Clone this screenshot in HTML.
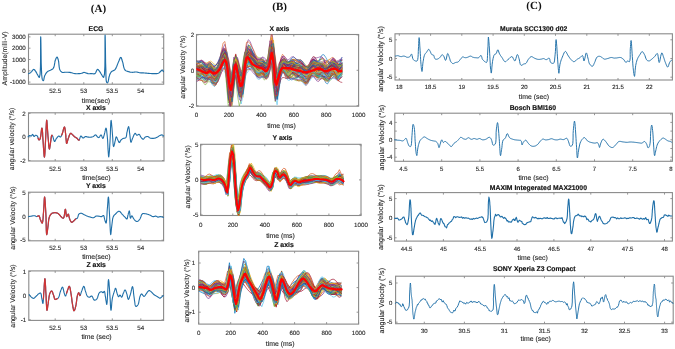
<!DOCTYPE html>
<html><head><meta charset="utf-8"><style>html,body{margin:0;padding:0;background:#fff;}svg{display:block;will-change:transform;filter:blur(0.35px);}</style></head><body>
<svg width="675" height="349" viewBox="0 0 675 349" text-rendering="geometricPrecision">
<rect width="675" height="349" fill="#fff"/>
<text x="98.5" y="11.8" font-family="Liberation Serif" font-size="11" text-anchor="middle" font-weight="bold" fill="#111">(A)</text>
<text x="279.7" y="10.4" font-family="Liberation Serif" font-size="11" text-anchor="middle" font-weight="bold" fill="#111">(B)</text>
<text x="534" y="9.4" font-family="Liberation Serif" font-size="11" text-anchor="middle" font-weight="bold" fill="#111">(C)</text>
<rect x="28.5" y="34.2" width="135.2" height="50" fill="none" stroke="#8a8a8a" stroke-width="1.1"/>
<line x1="55.2" y1="84.2" x2="55.2" y2="82.2" stroke="#8a8a8a" stroke-width="0.9"/>
<line x1="55.2" y1="34.2" x2="55.2" y2="36.2" stroke="#8a8a8a" stroke-width="0.9"/>
<text x="55.2" y="93" font-family="Liberation Sans" font-size="6.2" text-anchor="middle" font-weight="normal" fill="#262626" stroke="#262626" stroke-width="0.12">52.5</text>
<line x1="83.8" y1="84.2" x2="83.8" y2="82.2" stroke="#8a8a8a" stroke-width="0.9"/>
<line x1="83.8" y1="34.2" x2="83.8" y2="36.2" stroke="#8a8a8a" stroke-width="0.9"/>
<text x="83.8" y="93" font-family="Liberation Sans" font-size="6.2" text-anchor="middle" font-weight="normal" fill="#262626" stroke="#262626" stroke-width="0.12">53</text>
<line x1="112.3" y1="84.2" x2="112.3" y2="82.2" stroke="#8a8a8a" stroke-width="0.9"/>
<line x1="112.3" y1="34.2" x2="112.3" y2="36.2" stroke="#8a8a8a" stroke-width="0.9"/>
<text x="112.3" y="93" font-family="Liberation Sans" font-size="6.2" text-anchor="middle" font-weight="normal" fill="#262626" stroke="#262626" stroke-width="0.12">53.5</text>
<line x1="140.8" y1="84.2" x2="140.8" y2="82.2" stroke="#8a8a8a" stroke-width="0.9"/>
<line x1="140.8" y1="34.2" x2="140.8" y2="36.2" stroke="#8a8a8a" stroke-width="0.9"/>
<text x="140.8" y="93" font-family="Liberation Sans" font-size="6.2" text-anchor="middle" font-weight="normal" fill="#262626" stroke="#262626" stroke-width="0.12">54</text>
<line x1="28.5" y1="36.9" x2="30.5" y2="36.9" stroke="#8a8a8a" stroke-width="0.9"/>
<line x1="163.7" y1="36.9" x2="161.7" y2="36.9" stroke="#8a8a8a" stroke-width="0.9"/>
<text x="25.8" y="39.1" font-family="Liberation Sans" font-size="6.2" text-anchor="end" font-weight="normal" fill="#262626" stroke="#262626" stroke-width="0.12">3000</text>
<line x1="28.5" y1="48.2" x2="30.5" y2="48.2" stroke="#8a8a8a" stroke-width="0.9"/>
<line x1="163.7" y1="48.2" x2="161.7" y2="48.2" stroke="#8a8a8a" stroke-width="0.9"/>
<text x="25.8" y="50.4" font-family="Liberation Sans" font-size="6.2" text-anchor="end" font-weight="normal" fill="#262626" stroke="#262626" stroke-width="0.12">2000</text>
<line x1="28.5" y1="59.5" x2="30.5" y2="59.5" stroke="#8a8a8a" stroke-width="0.9"/>
<line x1="163.7" y1="59.5" x2="161.7" y2="59.5" stroke="#8a8a8a" stroke-width="0.9"/>
<text x="25.8" y="61.7" font-family="Liberation Sans" font-size="6.2" text-anchor="end" font-weight="normal" fill="#262626" stroke="#262626" stroke-width="0.12">1000</text>
<line x1="28.5" y1="70.8" x2="30.5" y2="70.8" stroke="#8a8a8a" stroke-width="0.9"/>
<line x1="163.7" y1="70.8" x2="161.7" y2="70.8" stroke="#8a8a8a" stroke-width="0.9"/>
<text x="25.8" y="73" font-family="Liberation Sans" font-size="6.2" text-anchor="end" font-weight="normal" fill="#262626" stroke="#262626" stroke-width="0.12">0</text>
<line x1="28.5" y1="82.1" x2="30.5" y2="82.1" stroke="#8a8a8a" stroke-width="0.9"/>
<line x1="163.7" y1="82.1" x2="161.7" y2="82.1" stroke="#8a8a8a" stroke-width="0.9"/>
<text x="25.8" y="84.3" font-family="Liberation Sans" font-size="6.2" text-anchor="end" font-weight="normal" fill="#262626" stroke="#262626" stroke-width="0.12">-1000</text>
<text x="96" y="31" font-family="Liberation Sans" font-size="6.9" text-anchor="middle" font-weight="bold" fill="#111" stroke="#111" stroke-width="0.15">ECG</text>
<text x="96" y="102.8" font-family="Liberation Sans" font-size="6.9" text-anchor="middle" font-weight="normal" fill="#262626" stroke="#262626" stroke-width="0.12">time(sec)</text>
<text x="6.6" y="58.4" font-family="Liberation Sans" font-size="6.9" text-anchor="middle" font-weight="normal" fill="#262626" transform="rotate(-90 6.6 58.4)" stroke="#262626" stroke-width="0.12">Amplitude(milli-V)</text>
<path d="M287 736l3-2 4-2 3-1 4-2 3-2 4-3 5-5 5-6 5-7 5-6 5-4 4-2 3 1 3 1 2 3 3 2 2 4 3 3 4 5 3 6 4 7 4 7 3 7 4 6 3 6 4 6 3 6 3 6 3 3 3 1 7-32 4-76 1-97 0-97 0-74 1-30 1 18 1 45 1 64 1 69 1 66 2 50 1 24 1 23 1 22 2 19 2 15 3 12 1 3 2 3 1 3 2 2 2 1 1 0 2-3 3-7 2-11 2-11 3-11 3-9 4-7 4-8 4-6 5-7 5-6 5-5 5-4 6-2 5-3 6-2 6-2 5-3 5-2 4-3 4-2 5-2 3-4 4-4 5-10 4-14 3-16 3-16 2-15 4-12 3-7 2-6 3-6 3-5 2-4 3-1 2 1 3 4 2 5 2 6 2 6 2 7 3 14 2 18 2 19 2 19 3 17 5 13 3 6 4 5 4 4 4 4 4 3 5 2 5 1 6 0 6-1 6-1 7-1 6 0 6 0 7 0 7 0 6 1 7 0 7 1 8 2 8 2 8 2 9 3 8 2 9 1 11 1 12 0 11-1 12 0 11-1 9-2 5-1 4-2 3-2 4-2 4-1 4-1 6 1 7 2 6 2 7 3 7 2 7 2 6 1 6 0 6 0 5-1 6 0 6 0 6 0 6 1 6 1 6 0 5 0 5-2 5-5 5-8 4-10 4-9 4-7 4-3 3 0 3 2 3 2 2 3 3 4 3 3 4 5 3 5 3 6 4 5 3 6 4 6 4 6 4 8 4 7 5 7 4 4 3 1 8-34 4-79 1-101 0-102 0-77 1-31 1 18 1 48 1 66 1 74 1 69 2 55 1 30 0 29 1 28 1 25 2 19 4 12 1 2 2 1 1 1 2 1 2 0 1 0 3-5 3-9 3-12 2-14 2-13 3-10 2-6 1-6 2-5 2-5 2-5 2-4 2-3 2-4 2-3 2-2 2-3 3-3 5-3 5-3 6-3 7-3 6-3 5-5 7-9 5-12 6-13 5-13 5-13 5-12 4-10 5-11 4-11 4-9 4-7 4-2 3 2 3 5 3 8 2 9 3 9 3 9 4 13 3 15 3 17 4 15 5 14 6 10 5 5 5 3 5 2 6 2 6 2 6 2 6 2 6 1 6 2 6 1 7 0 6 1 7 0 8-1 8-1 8-1 8 0 7 0 6 1 5 1 6 2 5 1 6 2 6 1 8 1 8 0 9 0 8 0 9 1 8 0 7 1 7 0 6 1 7 1 6 0 7 1 7 1 7 0 7 0 7 1 7 0 7 0 8 0 9 0 9 0 9 0 8-1 7-2 6-3 5-4 4-4 5-4 4-5 4-3 3-2 2-3 2-2 3-2 2-1 2 0 2 1 2 2 2 3 1 4 2 3 2 3" fill="none" stroke="#1f6fa8" stroke-width="11.5" stroke-linejoin="round" stroke-linecap="round" transform="scale(.1)"/>
<rect x="28.5" y="112.8" width="135.5" height="48.2" fill="none" stroke="#8a8a8a" stroke-width="1.1"/>
<line x1="55.2" y1="161" x2="55.2" y2="159" stroke="#8a8a8a" stroke-width="0.9"/>
<line x1="55.2" y1="112.8" x2="55.2" y2="114.8" stroke="#8a8a8a" stroke-width="0.9"/>
<text x="55.2" y="170.9" font-family="Liberation Sans" font-size="6.2" text-anchor="middle" font-weight="normal" fill="#262626" stroke="#262626" stroke-width="0.12">52.5</text>
<line x1="83.8" y1="161" x2="83.8" y2="159" stroke="#8a8a8a" stroke-width="0.9"/>
<line x1="83.8" y1="112.8" x2="83.8" y2="114.8" stroke="#8a8a8a" stroke-width="0.9"/>
<text x="83.8" y="170.9" font-family="Liberation Sans" font-size="6.2" text-anchor="middle" font-weight="normal" fill="#262626" stroke="#262626" stroke-width="0.12">53</text>
<line x1="112.3" y1="161" x2="112.3" y2="159" stroke="#8a8a8a" stroke-width="0.9"/>
<line x1="112.3" y1="112.8" x2="112.3" y2="114.8" stroke="#8a8a8a" stroke-width="0.9"/>
<text x="112.3" y="170.9" font-family="Liberation Sans" font-size="6.2" text-anchor="middle" font-weight="normal" fill="#262626" stroke="#262626" stroke-width="0.12">53.5</text>
<line x1="140.8" y1="161" x2="140.8" y2="159" stroke="#8a8a8a" stroke-width="0.9"/>
<line x1="140.8" y1="112.8" x2="140.8" y2="114.8" stroke="#8a8a8a" stroke-width="0.9"/>
<text x="140.8" y="170.9" font-family="Liberation Sans" font-size="6.2" text-anchor="middle" font-weight="normal" fill="#262626" stroke="#262626" stroke-width="0.12">54</text>
<line x1="28.5" y1="113.4" x2="30.5" y2="113.4" stroke="#8a8a8a" stroke-width="0.9"/>
<line x1="164" y1="113.4" x2="162" y2="113.4" stroke="#8a8a8a" stroke-width="0.9"/>
<text x="25.8" y="115.6" font-family="Liberation Sans" font-size="6.2" text-anchor="end" font-weight="normal" fill="#262626" stroke="#262626" stroke-width="0.12">2</text>
<line x1="28.5" y1="136.9" x2="30.5" y2="136.9" stroke="#8a8a8a" stroke-width="0.9"/>
<line x1="164" y1="136.9" x2="162" y2="136.9" stroke="#8a8a8a" stroke-width="0.9"/>
<text x="25.8" y="139.1" font-family="Liberation Sans" font-size="6.2" text-anchor="end" font-weight="normal" fill="#262626" stroke="#262626" stroke-width="0.12">0</text>
<line x1="28.5" y1="160.5" x2="30.5" y2="160.5" stroke="#8a8a8a" stroke-width="0.9"/>
<line x1="164" y1="160.5" x2="162" y2="160.5" stroke="#8a8a8a" stroke-width="0.9"/>
<text x="25.8" y="162.7" font-family="Liberation Sans" font-size="6.2" text-anchor="end" font-weight="normal" fill="#262626" stroke="#262626" stroke-width="0.12">-2</text>
<text x="95.9" y="109.8" font-family="Liberation Sans" font-size="6.9" text-anchor="middle" font-weight="bold" fill="#111" stroke="#111" stroke-width="0.15">X axis</text>
<text x="96.3" y="180.3" font-family="Liberation Sans" font-size="6.9" text-anchor="middle" font-weight="normal" fill="#262626" stroke="#262626" stroke-width="0.12">time(sec)</text>
<text x="14.4" y="139" font-family="Liberation Sans" font-size="6.9" text-anchor="middle" font-weight="normal" fill="#262626" transform="rotate(-90 14.4 139)" stroke="#262626" stroke-width="0.12">angular velocity (°/s)</text>
<path d="M281 1368l3-2 2-3 3-3 3-2 2-2 3-1 3 0 2 1 3 2 3 1 3 1 2 0 2-2 3-3 2-4 2-3 2-3 2-1 2 2 3 3 2 5 3 5 2 4 3 2 3-1 2-2 3-3 2-3 3-3 3-1 3 0 2 1 3 1 3 2 3 2 2 2 3 5 3 8 2 9 3 8 2 6 3 3 2 0 2 0 2-2 1-1 2-3 2-2 4-13 4-22 3-26 3-24 2-18 3-7 3 7 2 18 2 25 1 29 2 29 2 26 2 29 2 34 3 34 2 30 2 22 2 8 2-8 2-20 2-29 1-34 2-35 2-31 2-39 2-45 2-47 2-41 2-30 2-11 2 7 1 17 2 26 2 29 2 29 2 26 2 29 3 33 3 34 2 30 3 21 3 8 2-4 2-10 2-15 3-17 2-16 2-14 2-12 1-14 2-13 2-12 2-8 2-4 1 0 2 1 1 1 1 2 2 2 1 2 3 7 3 11 4 13 3 12 3 8 4 4 3-2 3-4 3-6 3-7 3-7 4-6 4-5 4-5 4-5 4-4 4-3 4-1 3 1 2 2 3 3 2 2 3 2 2 1 3-2 3-3 2-5 3-5 2-6 3-6 4-12 5-15 4-17 4-15 4-11 3-4 3 3 2 9 2 12 2 14 1 15 2 13 2 17 1 21 2 22 2 19 1 14 3 5 2-2 3-7 2-10 3-11 3-11 3-10 4-9 3-11 4-11 5-9 4-7 4-3 2 0 3 1 2 2 3 3 2 2 3 3 4 3 4 5 4 4 4 4 4 4 4 4 4 3 4 2 4 3 4 2 4 2 4 3 3 3 4 5 3 4 3 4 3 2 3 1 4-3 3-8 3-10 3-10 3-7 4-4 3 1 3 3 4 5 3 5 4 4 4 2 4-1 4-2 5-4 4-3 5-3 4-2 4 0 4 1 3 1 4 2 5 1 4 1 7 0 8 1 8 0 9-1 8-1 7-2 6-3 5-4 5-4 4-4 5-3 4-1 3 1 3 3 3 4 3 4 3 4 3 3 2 2 3 2 2 2 3 1 3 1 2 0 4-3 3-5 4-6 3-7 4-4 3-2 3 3 4 6 3 9 3 8 3 7 3 2 3-3 3-6 2-9 3-10 3-10 2-9 3-10 2-12 3-13 2-11 3-7 2-3 3 4 2 11 2 15 2 19 2 19 2 19 3 33 2 43 2 45 3 40 2 30 2 11 2-8 2-20 3-29 2-33 2-34 2-31 2-38 2-46 1-46 2-41 2-30 2-11 2 7 2 18 2 25 3 30 2 29 2 25 2 25 2 28 1 28 2 24 2 17 3 7 2-3 3-8 3-11 3-13 2-13 3-10 2-8 2-9 1-8 2-8 2-5 2-2 2 2 3 4 3 6 2 7 3 7 3 6 2 5 3 6 2 5 3 5 2 4 3 1 3-1 2-4 2-5 3-6 3-6 3-4 3-3 4-3 4-3 5-3 4-2 4-2 4-1 4-1 5-1 4-1 4-1 3-3 4-6 2-9 2-9 1-11 1-10 2-10 3-10 2-13 3-12 3-10 3-7 2-3 2 4 2 9 2 13 2 16 1 15 2 14 2 16 2 18 2 19 2 16 2 12 3 5 2-2 2-5 3-7 2-9 3-8 3-8 4-9 4-11 5-11 5-10 5-7 4-3 3 1 2 3 3 5 2 4 3 4 3 2 4 0 4-2 4-2 4-3 4-1 4 0 3 2 3 4 2 4 2 5 2 5 3 4 4 5 3 5 5 5 4 5 4 3 4 1 4-1 3-3 3-5 4-5 3-4 4-3 4-2 4-2 5-1 4-1 5 0 4 0 4 2 4 2 4 3 4 4 4 3 4 2 5 1 5 1 6 1 5 0 6 0 5 0 5-1 5 0 6-2 5-1 5-2 5-2 5-3 6-3 5-4 6-4 5-3 5-3 4-2 4-2 4-1 4-1 4-1 3 0 3 1 3 1 2 2 3 3 2 2 3 2" fill="none" stroke="#1f6fa8" stroke-width="11" stroke-linejoin="round" stroke-linecap="round" transform="scale(.1)"/>
<path d="M381 1382l3 8 2 6 3 3 2 0 2 0 2-2 1-1 2-3 2-2 4-13 4-22 3-26 3-24 2-18 3-7 3 7 2 18 2 25 1 29 2 29 2 26 2 29 2 34 3 34 2 30 2 22 2 8 2-8 2-20 2-29 1-34 2-35 2-31 2-39 2-45 2-47 2-41 2-30 2-11 2 7 1 17 2 26 2 29 2 29 2 26 2 29 3 33 3 34 2 30 3 21 3 8 2-4 2-10 2-15 3-17 2-16 2-14 2-12 1-14 2-13 2-12 2-8 2-4 1 0 2 1 1 1" fill="none" stroke="#d03535" stroke-width="12.5" stroke-linejoin="round" stroke-linecap="round" transform="scale(.1)"/>
<path d="M617 1350l3-6 4-12 5-15 4-17 4-15 4-11 3-4 3 3 2 9 2 12 2 14 1 15 2 13 2 17 1 21 2 22 2 19 1 14 3 5 2-2 3-7 2-10 3-11 3-11 3-10 4-9 3-11 4-11 5-9 4-7 4-3 2 0 3 1 2 2 3 3 2 2 3 3 4 3 4 5 4 4 4 4 4 4 4 4 4 3 4 2 4 3 4 2 4 2 4 3 3 3 4 5 3 4 3 4 3 2 3 1 4-3" fill="none" stroke="#d03535" stroke-width="12.5" stroke-linejoin="round" stroke-linecap="round" transform="scale(.1)"/>
<rect x="28.5" y="192.2" width="135.1" height="48.6" fill="none" stroke="#8a8a8a" stroke-width="1.1"/>
<line x1="55.2" y1="240.8" x2="55.2" y2="238.8" stroke="#8a8a8a" stroke-width="0.9"/>
<line x1="55.2" y1="192.2" x2="55.2" y2="194.2" stroke="#8a8a8a" stroke-width="0.9"/>
<text x="55.2" y="249.9" font-family="Liberation Sans" font-size="6.2" text-anchor="middle" font-weight="normal" fill="#262626" stroke="#262626" stroke-width="0.12">52.5</text>
<line x1="83.8" y1="240.8" x2="83.8" y2="238.8" stroke="#8a8a8a" stroke-width="0.9"/>
<line x1="83.8" y1="192.2" x2="83.8" y2="194.2" stroke="#8a8a8a" stroke-width="0.9"/>
<text x="83.8" y="249.9" font-family="Liberation Sans" font-size="6.2" text-anchor="middle" font-weight="normal" fill="#262626" stroke="#262626" stroke-width="0.12">53</text>
<line x1="112.3" y1="240.8" x2="112.3" y2="238.8" stroke="#8a8a8a" stroke-width="0.9"/>
<line x1="112.3" y1="192.2" x2="112.3" y2="194.2" stroke="#8a8a8a" stroke-width="0.9"/>
<text x="112.3" y="249.9" font-family="Liberation Sans" font-size="6.2" text-anchor="middle" font-weight="normal" fill="#262626" stroke="#262626" stroke-width="0.12">53.5</text>
<line x1="140.8" y1="240.8" x2="140.8" y2="238.8" stroke="#8a8a8a" stroke-width="0.9"/>
<line x1="140.8" y1="192.2" x2="140.8" y2="194.2" stroke="#8a8a8a" stroke-width="0.9"/>
<text x="140.8" y="249.9" font-family="Liberation Sans" font-size="6.2" text-anchor="middle" font-weight="normal" fill="#262626" stroke="#262626" stroke-width="0.12">54</text>
<line x1="28.5" y1="193" x2="30.5" y2="193" stroke="#8a8a8a" stroke-width="0.9"/>
<line x1="163.6" y1="193" x2="161.6" y2="193" stroke="#8a8a8a" stroke-width="0.9"/>
<text x="25.8" y="195.2" font-family="Liberation Sans" font-size="6.2" text-anchor="end" font-weight="normal" fill="#262626" stroke="#262626" stroke-width="0.12">5</text>
<line x1="28.5" y1="216.5" x2="30.5" y2="216.5" stroke="#8a8a8a" stroke-width="0.9"/>
<line x1="163.6" y1="216.5" x2="161.6" y2="216.5" stroke="#8a8a8a" stroke-width="0.9"/>
<text x="25.8" y="218.7" font-family="Liberation Sans" font-size="6.2" text-anchor="end" font-weight="normal" fill="#262626" stroke="#262626" stroke-width="0.12">0</text>
<line x1="28.5" y1="240.2" x2="30.5" y2="240.2" stroke="#8a8a8a" stroke-width="0.9"/>
<line x1="163.6" y1="240.2" x2="161.6" y2="240.2" stroke="#8a8a8a" stroke-width="0.9"/>
<text x="25.8" y="242.4" font-family="Liberation Sans" font-size="6.2" text-anchor="end" font-weight="normal" fill="#262626" stroke="#262626" stroke-width="0.12">-5</text>
<text x="95.9" y="188.3" font-family="Liberation Sans" font-size="6.9" text-anchor="middle" font-weight="bold" fill="#111" stroke="#111" stroke-width="0.15">Y axis</text>
<text x="96.3" y="259.3" font-family="Liberation Sans" font-size="6.9" text-anchor="middle" font-weight="normal" fill="#262626" stroke="#262626" stroke-width="0.12">time(sec)</text>
<text x="14.8" y="218" font-family="Liberation Sans" font-size="6.9" text-anchor="middle" font-weight="normal" fill="#262626" transform="rotate(-90 14.8 218)" stroke="#262626" stroke-width="0.12">angular Velocity (°/s)</text>
<path d="M286 2166l5-1 5-1 4-1 5 0 5-1 5-1 5-1 6-1 6-1 6 0 5 0 5 0 4 1 3 2 3 1 4 2 3 1 3 1 4-1 3-2 4-2 4-2 3-1 3 0 4 3 2 6 3 8 2 9 2 8 3 7 3 6 3 8 3 7 3 6 3 4 2 1 3-6 3-14 2-19 2-23 1-23 2-21 2-28 2-33 2-34 1-30 2-22 2-8 2 8 2 20 2 28 2 34 2 34 2 31 2 40 1 47 1 49 1 42 2 31 2 12 2-4 2-9 2-14 2-16 2-16 2-15 2-17 2-19 2-20 2-19 4-17 4-14 3-7 4-7 4-6 4-5 5-4 5-4 6-3 7-1 7-1 7-1 7 0 6 1 5 1 4 1 4 1 4 2 4 2 4 3 4 4 5 4 4 6 4 5 4 5 4 4 4 4 4 4 4 3 5 3 4 2 3 0 5-8 4-17 3-22 3-21 2-16 3-6 2 5 2 14 2 18 2 17 2 14 3 6 2-2 3-4 3-6 3-7 3-4 2-2 2 2 2 6 1 8 2 9 2 8 2 8 3 8 3 8 4 9 4 7 4 6 4 3 4 0 4-2 4-3 4-4 4-4 4-3 3-3 3-3 3-3 2-3 3-3 3-2 3-2 2-1 3-1 3-1 3-1 2-2 3-5 2-7 3-8 2-9 2-7 4-5 4-3 4-2 4-2 4-1 5 0 4 0 4 1 4 1 4 3 4 2 4 3 4 2 5 3 6 2 5 3 6 3 5 3 6 2 5 2 6 2 5 2 6 1 5 2 6 1 5 1 6 2 5 2 6 1 5 0 5 0 4-2 5-2 4-4 4-3 4-3 4-2 4-1 3 0 4 0 3 0 4 1 4 0 5 1 6 1 5 1 6 2 5 0 5 0 4-1 3-3 4-3 3-2 3-2 3 0 3 3 3 7 1 8 2 9 2 9 2 8 2 6 2 8 3 7 2 6 2 4 2 1 3-8 2-19 2-26 2-30 1-30 2-26 2-24 2-26 2-27 1-23 2-16 2-6 2 9 2 22 2 32 1 37 2 38 2 33 2 38 2 44 2 45 2 39 2 28 2 11 2-5 1-12 2-17 2-19 2-20 2-17 2-16 2-16 2-17 2-15 3-14 4-12 3-5 3-5 3-4 4-4 4-3 4-4 6-6 6-6 7-7 6-5 7-4 6-1 5 2 5 4 4 5 5 6 4 6 5 6 5 6 6 5 5 6 6 6 5 5 5 5 3 3 3 4 3 4 3 3 3 2 2 0 3-3 2-5 1-8 2-8 1-9 2-7 2-8 2-9 3-9 2-8 2-5 2-2 2 5 2 14 2 17 1 18 2 13 3 6 2-2 2-4 2-6 2-6 3-4 2-2 3 1 2 3 3 5 3 5 2 6 3 4 3 4 2 4 3 4 2 4 3 3 3 3 3 3 4 2 4 3 3 2 4 1 4 0 5-2 4-3 5-4 4-5 5-5 4-6 4-8 4-10 4-10 3-10 5-8 5-6 5-2 5-1 6 0 5 1 6 1 6 1 7 1 6 2 7 2 7 2 7 3 6 2 6 3 5 3 6 3 5 3 6 3 5 1 5 0 5-1 4-1 5-2 5-1 4 0 4 1 3 2 4 2 3 2 3 2 4 1 4 0 4-1 4-1 4-2 5-1 4 0 5 1 5 1 4 1 5 2 5 2 5 1" fill="none" stroke="#1f6fa8" stroke-width="11" stroke-linejoin="round" stroke-linecap="round" transform="scale(.1)"/>
<path d="M375 2163l4-2 4-2 3-1 3 0 4 3 2 6 3 8 2 9 2 8 3 7 3 6 3 8 3 7 3 6 3 4 2 1 3-6 3-14 2-19 2-23 1-23 2-21 2-28 2-33 2-34 1-30 2-22 2-8 2 8 2 20 2 28 2 34 2 34 2 31 2 40 1 47 1 49 1 42 2 31 2 12 2-4 2-9 2-14 2-16 2-16 2-15 2-17 2-19 2-20 2-19 4-17 4-14 3-7 4-7 4-6 4-5 5-4 5-4 6-3 7-1 7-1 7-1 7 0 6 1 5 1 4 1 4 1 4 2 4 2 4 3 4 4 5 4 4 6 4 5 4 5 4 4 4 4 4 4 4 3 5 3 4 2 3 0 5-8 4-17 3-22 3-21 2-16 3-6 2 5 2 14 2 18 2 17 2 14 3 6 2-2 3-4 3-6 3-7 3-4 2-2 2 2 2 6 1 8 2 9 2 8 2 8 3 8 3 8 4 9 4 7 4 6 4 3 4 0 4-2 4-3 4-4 4-4 4-3 3-3 3-3 3-3 2-3 3-3 3-2" fill="none" stroke="#d03535" stroke-width="12.5" stroke-linejoin="round" stroke-linecap="round" transform="scale(.1)"/>
<rect x="28.8" y="270.9" width="134.8" height="49.5" fill="none" stroke="#8a8a8a" stroke-width="1.1"/>
<line x1="55.2" y1="320.4" x2="55.2" y2="318.4" stroke="#8a8a8a" stroke-width="0.9"/>
<line x1="55.2" y1="270.9" x2="55.2" y2="272.9" stroke="#8a8a8a" stroke-width="0.9"/>
<text x="55.2" y="329.7" font-family="Liberation Sans" font-size="6.2" text-anchor="middle" font-weight="normal" fill="#262626" stroke="#262626" stroke-width="0.12">52.5</text>
<line x1="83.8" y1="320.4" x2="83.8" y2="318.4" stroke="#8a8a8a" stroke-width="0.9"/>
<line x1="83.8" y1="270.9" x2="83.8" y2="272.9" stroke="#8a8a8a" stroke-width="0.9"/>
<text x="83.8" y="329.7" font-family="Liberation Sans" font-size="6.2" text-anchor="middle" font-weight="normal" fill="#262626" stroke="#262626" stroke-width="0.12">53</text>
<line x1="112.3" y1="320.4" x2="112.3" y2="318.4" stroke="#8a8a8a" stroke-width="0.9"/>
<line x1="112.3" y1="270.9" x2="112.3" y2="272.9" stroke="#8a8a8a" stroke-width="0.9"/>
<text x="112.3" y="329.7" font-family="Liberation Sans" font-size="6.2" text-anchor="middle" font-weight="normal" fill="#262626" stroke="#262626" stroke-width="0.12">53.5</text>
<line x1="140.8" y1="320.4" x2="140.8" y2="318.4" stroke="#8a8a8a" stroke-width="0.9"/>
<line x1="140.8" y1="270.9" x2="140.8" y2="272.9" stroke="#8a8a8a" stroke-width="0.9"/>
<text x="140.8" y="329.7" font-family="Liberation Sans" font-size="6.2" text-anchor="middle" font-weight="normal" fill="#262626" stroke="#262626" stroke-width="0.12">54</text>
<line x1="28.8" y1="271.5" x2="30.8" y2="271.5" stroke="#8a8a8a" stroke-width="0.9"/>
<line x1="163.6" y1="271.5" x2="161.6" y2="271.5" stroke="#8a8a8a" stroke-width="0.9"/>
<text x="26.2" y="273.7" font-family="Liberation Sans" font-size="6.2" text-anchor="end" font-weight="normal" fill="#262626" stroke="#262626" stroke-width="0.12">1</text>
<line x1="28.8" y1="295.6" x2="30.8" y2="295.6" stroke="#8a8a8a" stroke-width="0.9"/>
<line x1="163.6" y1="295.6" x2="161.6" y2="295.6" stroke="#8a8a8a" stroke-width="0.9"/>
<text x="26.2" y="297.8" font-family="Liberation Sans" font-size="6.2" text-anchor="end" font-weight="normal" fill="#262626" stroke="#262626" stroke-width="0.12">0</text>
<line x1="28.8" y1="319.8" x2="30.8" y2="319.8" stroke="#8a8a8a" stroke-width="0.9"/>
<line x1="163.6" y1="319.8" x2="161.6" y2="319.8" stroke="#8a8a8a" stroke-width="0.9"/>
<text x="26.2" y="322" font-family="Liberation Sans" font-size="6.2" text-anchor="end" font-weight="normal" fill="#262626" stroke="#262626" stroke-width="0.12">-1</text>
<text x="96.2" y="267.3" font-family="Liberation Sans" font-size="6.9" text-anchor="middle" font-weight="bold" fill="#111" stroke="#111" stroke-width="0.15">Z axis</text>
<text x="96.5" y="339.1" font-family="Liberation Sans" font-size="6.9" text-anchor="middle" font-weight="normal" fill="#262626" stroke="#262626" stroke-width="0.12">time (sec)</text>
<text x="15.4" y="296" font-family="Liberation Sans" font-size="6.9" text-anchor="middle" font-weight="normal" fill="#262626" transform="rotate(-90 15.4 296)" stroke="#262626" stroke-width="0.12">angular Velocity (°/s)</text>
<path d="M292 2947l3 3 2 4 3 3 3 4 3 3 3 3 4 4 4 3 4 4 4 3 5 2 4 1 4-1 5-3 4-3 4-5 5-4 4-4 4-4 4-5 5-4 4-5 4-4 4-3 3-2 4-3 4-2 3-2 3-1 3 1 4 5 3 8 2 11 1 12 2 13 2 10 2 9 2 10 1 10 2 9 2 6 1 2 2-6 2-17 1-23 2-26 1-27 2-23 2-24 1-27 2-28 2-24 1-17 2-6 2 7 1 19 2 27 2 31 1 31 2 28 2 32 1 37 2 38 2 33 2 24 2 9 2-4 2-11 2-15 2-17 3-17 2-16 2-16 3-17 2-18 3-16 3-15 4-11 3-5 2-5 3-4 3-3 3-2 3-1 3 2 3 5 3 7 3 8 2 8 3 7 3 8 2 10 3 9 2 9 3 7 4 4 3 1 2-1 3-1 3-1 3-2 3-1 3-1 3-2 2-1 3-2 3-2 2-3 4-8 4-10 3-12 3-12 3-12 4-11 3-9 4-9 3-9 4-8 3-5 3-2 3 3 3 9 3 12 3 13 2 12 3 10 2 6 2 7 2 6 3 6 2 4 2 1 3-2 2-7 3-9 3-10 3-10 3-9 3-9 4-11 4-11 3-10 4-7 3-2 3 3 3 9 3 12 2 14 3 15 2 14 3 18 3 21 3 21 2 21 3 20 3 18 2 12 2 14 3 12 2 11 2 7 3 3 3-2 3-5 3-8 3-9 2-10 3-9 3-16 3-19 3-21 2-20 3-18 3-15 2-7 2-6 2-6 3-5 2-4 2-1 2 2 2 6 2 7 2 7 2 5 2 2 3-2 2-6 3-8 3-9 3-10 3-8 4-9 3-11 4-11 4-10 4-7 3-2 3 3 3 6 3 10 2 11 3 11 3 9 3 9 3 10 3 9 3 9 4 8 4 6 3 3 3 2 4 1 3 1 4 1 3 0 4-1 3-3 4-3 4-3 3-2 4 0 5 4 4 7 4 9 4 10 4 7 5 4 4 0 4 0 5-2 4-2 4-3 4-4 5-8 4-10 3-12 4-12 3-10 5-8 3-4 4-3 4-2 4-2 3-2 4 0 3 1 3 2 3 2 3 3 2 2 3 0 2-1 2-3 3-4 1-3 2-2 2-1 3 3 2 8 2 11 1 13 2 13 2 11 2 13 2 16 3 16 2 14 2 10 2 4 3-19 3-46 3-60 3-60 2-46 3-19 2 8 3 22 2 31 3 35 2 35 2 30 2 28 2 32 1 32 2 28 2 20 2 7 2-7 2-17 2-25 2-27 3-26 3-20 2-10 3-10 2-9 3-8 2-9 3-8 3-9 3-9 3-10 2-8 3-6 3-2 2 3 3 6 2 9 2 10 2 10 3 9 2 7 3 8 3 8 2 7 3 5 3 2 2-1 2-3 3-4 2-4 3-3 2-1 3 2 3 4 3 5 3 5 2 4 3 1 3-3 3-6 3-8 2-9 3-9 3-7 3-6 3-7 2-6 3-6 3-4 3-1 3 2 3 5 3 7 3 9 2 8 3 8 3 10 2 12 3 12 2 10 3 8 3 3 3-3 4-7 3-10 4-12 4-12 3-11 4-13 3-16 4-16 3-14 3-10 3-4 3 6 3 16 3 22 2 26 3 24 3 21 2 17 3 18 2 17 2 16 4 11 4 5 3 0 4-2 4-4 4-4 4-5 3-5 4-10 3-12 2-13 3-14 2-13 3-11 2-7 3-7 3-7 3-6 3-4 3-2 4 2 4 4 4 6 4 6 5 5 4 2 4-2 4-4 5-5 4-7 4-6 4-6 4-5 4-7 5-6 4-5 5-4 4-2 4 0 4 2 4 4 5 3 4 4 4 4 4 4 4 4 4 4 4 5 4 4 5 4 5 4 6 3 6 4 6 3 6 3 5 3 4 3 5 3 4 3 4 3 4 2 4 0 5-1 4-4 5-4 4-4 5-4 3-3 2-1 1-1 1-1 1 0 2-1 1-1" fill="none" stroke="#1f6fa8" stroke-width="11" stroke-linejoin="round" stroke-linecap="round" transform="scale(.1)"/>
<path d="M434 2989l2-26 1-27 2-23 2-24 1-27 2-28 2-24 1-17 2-6 2 7 1 19 2 27 2 31 1 31 2 28 2 32 1 37 2 38 2 33 2 24 2 9 2-4 2-11 2-15 2-17 3-17 2-16 2-16 3-17 2-18 3-16 3-15 4-11 3-5 2-5 3-4 3-3 3-2 3-1 3 2 3 5 3 7 3 8 2 8 3 7 3 8 2 10 3 9 2 9 3 7 4 4 3 1 2-1 3-1 3-1 3-2 3-1 3-1 3-2" fill="none" stroke="#d03535" stroke-width="12.5" stroke-linejoin="round" stroke-linecap="round" transform="scale(.1)"/>
<path d="M666 2932l3-10 3-9 3-9 4-11 4-11 3-10 4-7 3-2 3 3 3 9 3 12 2 14 3 15 2 14 3 18 3 21 3 21 2 21 3 20 3 18 2 12 2 14 3 12 2 11 2 7 3 3 3-2 3-5 3-8 3-9 2-10 3-9 3-16 3-19 3-21 2-20 3-18 3-15 2-7 2-6 2-6 3-5 2-4 2-1 2 2 2 6 2 7 2 7 2 5 2 2 3-2" fill="none" stroke="#d03535" stroke-width="12.5" stroke-linejoin="round" stroke-linecap="round" transform="scale(.1)"/>
<rect x="196.5" y="34.5" width="162.1" height="71.7" fill="none" stroke="#8a8a8a" stroke-width="1.1"/>
<line x1="196.5" y1="106.2" x2="196.5" y2="104.2" stroke="#8a8a8a" stroke-width="0.9"/>
<line x1="196.5" y1="34.5" x2="196.5" y2="36.5" stroke="#8a8a8a" stroke-width="0.9"/>
<text x="196.5" y="116.7" font-family="Liberation Sans" font-size="6.2" text-anchor="middle" font-weight="normal" fill="#262626" stroke="#262626" stroke-width="0.12">0</text>
<line x1="228.9" y1="106.2" x2="228.9" y2="104.2" stroke="#8a8a8a" stroke-width="0.9"/>
<line x1="228.9" y1="34.5" x2="228.9" y2="36.5" stroke="#8a8a8a" stroke-width="0.9"/>
<text x="228.9" y="116.7" font-family="Liberation Sans" font-size="6.2" text-anchor="middle" font-weight="normal" fill="#262626" stroke="#262626" stroke-width="0.12">200</text>
<line x1="261.3" y1="106.2" x2="261.3" y2="104.2" stroke="#8a8a8a" stroke-width="0.9"/>
<line x1="261.3" y1="34.5" x2="261.3" y2="36.5" stroke="#8a8a8a" stroke-width="0.9"/>
<text x="261.3" y="116.7" font-family="Liberation Sans" font-size="6.2" text-anchor="middle" font-weight="normal" fill="#262626" stroke="#262626" stroke-width="0.12">400</text>
<line x1="293.8" y1="106.2" x2="293.8" y2="104.2" stroke="#8a8a8a" stroke-width="0.9"/>
<line x1="293.8" y1="34.5" x2="293.8" y2="36.5" stroke="#8a8a8a" stroke-width="0.9"/>
<text x="293.8" y="116.7" font-family="Liberation Sans" font-size="6.2" text-anchor="middle" font-weight="normal" fill="#262626" stroke="#262626" stroke-width="0.12">600</text>
<line x1="326.2" y1="106.2" x2="326.2" y2="104.2" stroke="#8a8a8a" stroke-width="0.9"/>
<line x1="326.2" y1="34.5" x2="326.2" y2="36.5" stroke="#8a8a8a" stroke-width="0.9"/>
<text x="326.2" y="116.7" font-family="Liberation Sans" font-size="6.2" text-anchor="middle" font-weight="normal" fill="#262626" stroke="#262626" stroke-width="0.12">800</text>
<line x1="358.6" y1="106.2" x2="358.6" y2="104.2" stroke="#8a8a8a" stroke-width="0.9"/>
<line x1="358.6" y1="34.5" x2="358.6" y2="36.5" stroke="#8a8a8a" stroke-width="0.9"/>
<text x="358.6" y="116.7" font-family="Liberation Sans" font-size="6.2" text-anchor="middle" font-weight="normal" fill="#262626" stroke="#262626" stroke-width="0.12">1000</text>
<line x1="196.5" y1="34.9" x2="198.5" y2="34.9" stroke="#8a8a8a" stroke-width="0.9"/>
<line x1="358.6" y1="34.9" x2="356.6" y2="34.9" stroke="#8a8a8a" stroke-width="0.9"/>
<text x="194.2" y="37.1" font-family="Liberation Sans" font-size="6.2" text-anchor="end" font-weight="normal" fill="#262626" stroke="#262626" stroke-width="0.12">2</text>
<line x1="196.5" y1="70.3" x2="198.5" y2="70.3" stroke="#8a8a8a" stroke-width="0.9"/>
<line x1="358.6" y1="70.3" x2="356.6" y2="70.3" stroke="#8a8a8a" stroke-width="0.9"/>
<text x="194.2" y="72.5" font-family="Liberation Sans" font-size="6.2" text-anchor="end" font-weight="normal" fill="#262626" stroke="#262626" stroke-width="0.12">0</text>
<line x1="196.5" y1="105.7" x2="198.5" y2="105.7" stroke="#8a8a8a" stroke-width="0.9"/>
<line x1="358.6" y1="105.7" x2="356.6" y2="105.7" stroke="#8a8a8a" stroke-width="0.9"/>
<text x="194.2" y="107.9" font-family="Liberation Sans" font-size="6.2" text-anchor="end" font-weight="normal" fill="#262626" stroke="#262626" stroke-width="0.12">-2</text>
<text x="279.5" y="30.9" font-family="Liberation Sans" font-size="6.9" text-anchor="middle" font-weight="bold" fill="#111" stroke="#111" stroke-width="0.15">X axis</text>
<text x="281.5" y="127.5" font-family="Liberation Sans" font-size="6.9" text-anchor="middle" font-weight="normal" fill="#262626" stroke="#262626" stroke-width="0.12">time (ms)</text>
<text x="184.7" y="67" font-family="Liberation Sans" font-size="6.9" text-anchor="middle" font-weight="normal" fill="#262626" transform="rotate(-90 184.7 67)" stroke="#262626" stroke-width="0.12">angular Velocity (°/s)</text>
<clipPath id="cbx"><rect x="196.5" y="34.5" width="162.1" height="71.7"/></clipPath>
<g clip-path="url(#cbx)">
<path d="M1961 685l18-17 18-17 18-3 18 17 18 29 18 22 18 0 18-10 18 6 18 11 18 1 18-12 18-29 18-38 18-41 18-21 18 20 18 83 18 122 18 28 18-67 18-95 18 16 18 52 18 35 18-15 18-65 18-80 18-30 18 4 18 15 18 22 18 27 18 28 18 13 18-5 18-14 18-6 18-1 18-10 18-29 18-65 18 24 18 129 18 77 18-52 18-47 18-23 18 7 18 19 18-3 18-23 18-27 18-13 18 8 18 21 18 21 18 15 18 10 18 8 18 4 18-3 18-9 18-15 18-15 18-14 18-15 18-10 18 2 18 19 18 34 18 30 18 7 18-17 18-27 18-23 18-6 18 8 18 7 18-4 18-8" fill="none" stroke="#0072BD" stroke-width="6" stroke-linejoin="round" stroke-linecap="round" transform="scale(.1)"/>
<path d="M1961 694l18 0 18-9 18-4 18 12 18 23 18 17 18-4 18-13 18 14 18 23 18-1 18-29 18-48 18-47 18-33 18-4 18 36 18 100 18 144 18 32 18-104 18-138 18 9 18 80 18 64 18 4 18-76 18-109 18-51 18 2 18 19 18 31 18 29 18 22 18 2 18-13 18-10 18 11 18 19 18-8 18-44 18-91 18 12 18 174 18 137 18-69 18-85 18-56 18-4 18 17 18 12 18-9 18-15 18 0 18 20 18 23 18 7 18-3 18 1 18 15 18 12 18-7 18-29 18-33 18-12 18 15 18 25 18 11 18-7 18-11 18 5 18 19 18 5 18-14 18-24 18-20 18 1 18 19 18 14 18-1 18-6" fill="none" stroke="#D95319" stroke-width="6" stroke-linejoin="round" stroke-linecap="round" transform="scale(.1)"/>
<path d="M1961 668l18 16 18 8 18 9 18 15 18 13 18-13 18-35 18-3 18 30 18 28 18 10 18-29 18-63 18-74 18-43 18 20 18 120 18 190 18 73 18-131 18-173 18 5 18 123 18 93 18 3 18-110 18-151 18-66 18 12 18 19 18 24 18 25 18 34 18 21 18-5 18-14 18 7 18 28 18 5 18-50 18-123 18-48 18 190 18 235 18-44 18-97 18-94 18-43 18 4 18 25 18 36 18 15 18-2 18-5 18-3 18-10 18-16 18-5 18 23 18 46 18 40 18 0 18-45 18-60 18-31 18 13 18 34 18 21 18-10 18-20 18-2 18 14 18 20 18 7 18-12 18-14 18 1 18 8 18-9 18-26 18-11" fill="none" stroke="#EDB120" stroke-width="6" stroke-linejoin="round" stroke-linecap="round" transform="scale(.1)"/>
<path d="M1961 681l18 4 18-1 18 4 18 17 18 23 18 7 18-18 18 0 18 28 18 20 18-1 18-30 18-57 18-68 18-55 18-7 18 93 18 187 18 128 18-97 18-164 18-48 18 120 18 112 18 32 18-98 18-166 18-104 18-9 18 13 18 29 18 29 18 42 18 35 18 10 18-7 18 0 18 16 18 1 18-46 18-102 18-91 18 165 18 263 18-14 18-102 18-89 18-38 18 5 18 18 18 13 18-3 18-8 18 4 18 18 18 15 18 3 18-4 18 5 18 15 18 15 18-2 18-24 18-31 18-17 18 4 18 10 18 2 18-8 18-4 18 18 18 25 18 16 18-3 18-21 18-23 18-6 18 7 18-2 18-19 18-10" fill="none" stroke="#7E2F8E" stroke-width="6" stroke-linejoin="round" stroke-linecap="round" transform="scale(.1)"/>
<path d="M1961 664l18 7 18 2 18 4 18 11 18 13 18 9 18-3 18-17 18-8 18 17 18 11 18-11 18-25 18-27 18-19 18-18 18-7 18 31 18 94 18 122 18-11 18-104 18-114 18 39 18 81 18 58 18-20 18-90 18-102 18-29 18 19 18 37 18 31 18 16 18 2 18-9 18-10 18 1 18 15 18 10 18-16 18-42 18-81 18 59 18 171 18 58 18-75 18-60 18-25 18 8 18 6 18-11 18-18 18-8 18 9 18 16 18 10 18 5 18 10 18 20 18 20 18 1 18-21 18-28 18-17 18-1 18 7 18-2 18-10 18-5 18 8 18 24 18 19 18-1 18-13 18-12 18-6 18 0 18 1 18-5 18-7" fill="none" stroke="#77AC30" stroke-width="6" stroke-linejoin="round" stroke-linecap="round" transform="scale(.1)"/>
<path d="M1961 745l18 7 18-6 18-8 18 0 18 5 18 2 18-9 18-4 18 17 18 22 18 9 18-14 18-32 18-34 18-22 18 3 18 30 18 58 18 59 18-12 18-50 18-48 18 25 18 35 18 20 18-12 18-39 18-42 18-17 18-8 18 3 18 15 18 23 18 20 18 4 18-9 18-6 18 4 18 5 18-13 18-31 18-48 18 38 18 102 18 38 18-38 18-42 18-25 18 0 18 12 18 4 18-11 18-14 18 2 18 19 18 21 18 8 18-6 18-6 18 2 18 3 18-6 18-20 18-17 18 1 18 23 18 26 18 7 18-16 18-23 18-9 18 6 18 9 18 1 18-4 18 0 18 11 18 13 18-1 18-20 18-21" fill="none" stroke="#4DBEEE" stroke-width="6" stroke-linejoin="round" stroke-linecap="round" transform="scale(.1)"/>
<path d="M1961 702l18 17 18-4 18-8 18 6 18 20 18 10 18-17 18-1 18 31 18 16 18-10 18-42 18-64 18-63 18-42 18 9 18 110 18 206 18 148 18-120 18-202 18-95 18 127 18 133 18 57 18-86 18-164 18-112 18-11 18 3 18 15 18 18 18 38 18 36 18 12 18-6 18 6 18 32 18 19 18-39 18-109 18-134 18 163 18 298 18-10 18-124 18-97 18-31 18 23 18 41 18 12 18-22 18-26 18 2 18 28 18 25 18-1 18-19 18-9 18 15 18 27 18 11 18-17 18-32 18-16 18 13 18 21 18 5 18-17 18-25 18-3 18 8 18 5 18-3 18-8 18 2 18 27 18 35 18 7 18-31 18-36" fill="none" stroke="#A2142F" stroke-width="6" stroke-linejoin="round" stroke-linecap="round" transform="scale(.1)"/>
<path d="M1961 712l18 3 18-9 18-6 18 10 18 19 18 12 18-14 18-17 18 19 18 30 18 5 18-24 18-49 18-50 18-42 18-10 18 41 18 119 18 163 18 12 18-132 18-157 18 40 18 113 18 84 18-6 18-104 18-142 18-62 18 0 18 28 18 44 18 42 18 28 18-3 18-28 18-21 18 14 18 33 18 6 18-40 18-116 18 21 18 200 18 127 18-88 18-87 18-50 18 3 18 23 18 10 18-14 18-22 18-7 18 14 18 22 18 16 18 12 18 16 18 20 18 6 18-18 18-38 18-35 18-10 18 16 18 20 18 0 18-15 18-12 18 15 18 33 18 22 18-2 18-20 18-24 18-13 18 2 18 0 18-11 18-8" fill="none" stroke="#0072BD" stroke-width="6" stroke-linejoin="round" stroke-linecap="round" transform="scale(.1)"/>
<path d="M1961 710l18 9 18 4 18 9 18 20 18 23 18 7 18-13 18-3 18 15 18 13 18-1 18-27 18-49 18-54 18-32 18 11 18 70 18 116 18 59 18-60 18-88 18-1 18 65 18 46 18-1 18-61 18-84 18-40 18 1 18 1 18 8 18 15 18 26 18 18 18-3 18-13 18 1 18 19 18 14 18-15 18-59 18-34 18 98 18 131 18-34 18-70 18-61 18-21 18 15 18 25 18 20 18-6 18-17 18-5 18 14 18 22 18 14 18 7 18 10 18 14 18 4 18-20 18-47 18-51 18-23 18 14 18 33 18 29 18 12 18 5 18 15 18 18 18 6 18-13 18-28 18-23 18-3 18 8 18-5 18-23 18-20" fill="none" stroke="#D95319" stroke-width="6" stroke-linejoin="round" stroke-linecap="round" transform="scale(.1)"/>
<path d="M1961 626l18 4 18-3 18-4 18 1 18 3 18 2 18-9 18-9 18 11 18 19 18 8 18-6 18-20 18-24 18-25 18-13 18 11 18 55 18 87 18 17 18-62 18-80 18 15 18 58 18 43 18-2 18-54 18-74 18-33 18 2 18 13 18 18 18 17 18 14 18 5 18-2 18-2 18 8 18 9 18-8 18-32 18-64 18 4 18 106 18 82 18-38 18-43 18-24 18 4 18 19 18 7 18-10 18-17 18-13 18-3 18 1 18 1 18 2 18 12 18 22 18 21 18 9 18-7 18-15 18-13 18-5 18-5 18-10 18-14 18-9 18 4 18 17 18 13 18 6 18 1 18 1 18 4 18 8 18 2 18-11 18-16" fill="none" stroke="#EDB120" stroke-width="6" stroke-linejoin="round" stroke-linecap="round" transform="scale(.1)"/>
<path d="M1961 646l18 11 18-5 18-4 18 10 18 19 18 7 18-26 18-14 18 40 18 42 18 10 18-29 18-65 18-80 18-83 18-36 18 72 18 217 18 251 18-43 18-208 18-193 18 126 18 181 18 101 18-76 18-210 18-207 18-57 18 17 18 48 18 51 18 55 18 45 18 16 18-10 18-6 18 20 18 15 18-44 18-107 18-189 18 135 18 379 18 121 18-144 18-133 18-76 18-3 18 22 18 12 18-12 18-17 18 4 18 26 18 27 18 12 18 3 18 13 18 25 18 16 18-12 18-41 18-49 18-25 18 10 18 24 18 14 18 2 18-1 18 18 18 20 18-4 18-27 18-38 18-27 18 7 18 38 18 34 18 4 18-8" fill="none" stroke="#7E2F8E" stroke-width="6" stroke-linejoin="round" stroke-linecap="round" transform="scale(.1)"/>
<path d="M1961 784l18 3 18-22 18-21 18 0 18 17 18 3 18-12 18 1 18 15 18 20 18 15 18-15 18-49 18-70 18-43 18 25 18 111 18 150 18 17 18-98 18-124 18 24 18 72 18 53 18-4 18-60 18-79 18-34 18-18 18-17 18 1 18 34 18 53 18 33 18-6 18-25 18-7 18 18 18 8 18-32 18-101 18 9 18 150 18 99 18-43 18-55 18-53 18-23 18 6 18 24 18 34 18 13 18-8 18-18 18-21 18-20 18-10 18 11 18 39 18 50 18 32 18-13 18-53 18-56 18-19 18 22 18 35 18 12 18-17 18-20 18 3 18 22 18 22 18-3 18-24 18-18 18 13 18 27 18 7 18-25 18-34" fill="none" stroke="#77AC30" stroke-width="6" stroke-linejoin="round" stroke-linecap="round" transform="scale(.1)"/>
<path d="M1961 719l18 1 18-7 18-7 18 0 18 5 18 3 18-5 18-2 18 12 18 16 18 7 18-9 18-21 18-20 18-12 18 4 18 20 18 34 18 33 18-12 18-35 18-32 18 14 18 23 18 15 18-3 18-19 18-23 18-10 18-5 18 1 18 9 18 14 18 11 18-1 18-10 18-8 18 2 18 5 18-5 18-17 18-28 18 25 18 63 18 23 18-26 18-28 18-14 18 7 18 19 18 8 18-9 18-18 18-12 18-3 18 3 18 0 18 1 18 8 18 19 18 19 18 5 18-12 18-18 18-10 18 5 18 10 18 1 18-11 18-13 18-3 18 6 18 6 18-1 18-6 18 0 18 10 18 15 18 6 18-8 18-11" fill="none" stroke="#4DBEEE" stroke-width="6" stroke-linejoin="round" stroke-linecap="round" transform="scale(.1)"/>
<path d="M1961 765l18 25 18-1 18-15 18-10 18 9 18 11 18-6 18 6 18 26 18 16 18 1 18-22 18-51 18-68 18-63 18-13 18 91 18 190 18 143 18-82 18-165 18-82 18 92 18 103 18 43 18-76 18-144 18-96 18-1 18 23 18 33 18 21 18 18 18 9 18-1 18-1 18 15 18 29 18 7 18-41 18-88 18-88 18 147 18 237 18-24 18-113 18-84 18-16 18 32 18 42 18 3 18-28 18-26 18 2 18 21 18 10 18-8 18-6 18 24 18 47 18 32 18-16 18-60 18-62 18-17 18 32 18 41 18 11 18-20 18-19 18 17 18 31 18 12 18-25 18-46 18-24 18 26 18 51 18 25 18-27 18-43" fill="none" stroke="#A2142F" stroke-width="6" stroke-linejoin="round" stroke-linecap="round" transform="scale(.1)"/>
<path d="M1961 764l18 6 18-6 18-5 18 8 18 18 18 3 18-8 18 24 18 41 18 19 18-13 18-54 18-82 18-87 18-49 18 26 18 141 18 220 18 82 18-132 18-184 18 11 18 122 18 91 18-1 18-113 18-154 18-68 18 0 18 1 18 13 18 29 18 51 18 37 18 0 18-19 18 1 18 29 18 14 18-41 18-130 18-40 18 204 18 222 18-66 18-107 18-98 18-43 18 5 18 26 18 51 18 32 18 8 18-5 18-12 18-15 18-13 18 1 18 21 18 31 18 19 18-11 18-38 18-40 18-15 18 10 18 14 18 1 18-7 18 9 18 39 18 40 18 11 18-32 18-57 18-42 18 5 18 33 18 17 18-14 18-18" fill="none" stroke="#0072BD" stroke-width="6" stroke-linejoin="round" stroke-linecap="round" transform="scale(.1)"/>
<path d="M1961 673l18 0 18 5 18 18 18 27 18 26 18 8 18-32 18-31 18 25 18 36 18 11 18-16 18-48 18-66 18-85 18-51 18 44 18 195 18 272 18 5 18-195 18-226 18 100 18 181 18 109 18-59 18-203 18-220 18-56 18 41 18 62 18 44 18 25 18 16 18 5 18 0 18 12 18 37 18 30 18-35 18-102 18-202 18 80 18 356 18 179 18-132 18-131 18-90 18-20 18 5 18 24 18 20 18 14 18 11 18 5 18-6 18-12 18-4 18 19 18 33 18 24 18 0 18-23 18-31 18-21 18-4 18-1 18-4 18-5 18 4 18 23 18 26 18 1 18-18 18-27 18-22 18 3 18 30 18 29 18 3 18-18" fill="none" stroke="#D95319" stroke-width="6" stroke-linejoin="round" stroke-linecap="round" transform="scale(.1)"/>
<path d="M1961 734l18 5 18-11 18-12 18 1 18 9 18 1 18-15 18-6 18 22 18 29 18 13 18-17 18-43 18-44 18-24 18 10 18 52 18 84 18 65 18-43 18-77 18-52 18 42 18 46 18 23 18-24 18-51 18-43 18-13 18-8 18 3 18 18 18 31 18 22 18-2 18-19 18-12 18 10 18 12 18-14 18-40 18-60 18 67 18 137 18 16 18-59 18-58 18-23 18 16 18 37 18 18 18-15 18-33 18-19 18 3 18 12 18 4 18-1 18 10 18 28 18 28 18 4 18-28 18-38 18-17 18 12 18 22 18 5 18-17 18-19 18 2 18 21 18 17 18-3 18-18 18-13 18 9 18 20 18 7 18-18 18-19" fill="none" stroke="#EDB120" stroke-width="6" stroke-linejoin="round" stroke-linecap="round" transform="scale(.1)"/>
<path d="M1961 653l18 3 18 10 18 17 18 22 18 16 18 5 18-18 18-18 18 29 18 47 18 6 18-36 18-63 18-63 18-54 18-28 18 20 18 123 18 216 18 86 18-141 18-194 18 17 18 144 18 109 18 0 18-137 18-192 18-87 18 12 18 27 18 30 18 22 18 29 18 26 18 13 18 8 18 17 18 20 18-12 18-58 18-129 18-27 18 227 18 227 18-109 18-125 18-70 18 8 18 37 18 17 18-16 18-20 18 7 18 34 18 31 18 2 18-21 18-17 18 10 18 23 18 11 18-17 18-37 18-32 18-2 18 20 18 24 18 13 18 2 18 1 18 8 18-2 18-10 18-12 18-17 18-15 18-6 18 1 18 3 18 12" fill="none" stroke="#7E2F8E" stroke-width="6" stroke-linejoin="round" stroke-linecap="round" transform="scale(.1)"/>
<path d="M1961 602l18 9 18 8 18 9 18 14 18 14 18 8 18-15 18-20 18 16 18 25 18 4 18-16 18-35 18-44 18-54 18-35 18 22 18 125 18 198 18 40 18-138 18-179 18 35 18 127 18 94 18-9 18-124 18-160 18-60 18 16 18 31 18 28 18 16 18 16 18 9 18 3 18 10 18 28 18 29 18-12 18-64 18-140 18 4 18 218 18 162 18-86 18-86 18-51 18 2 18 23 18 9 18-9 18-15 18-7 18 5 18 8 18 6 18 5 18 14 18 22 18 15 18-1 18-16 18-21 18-16 18-4 18-1 18-7 18-8 18-1 18 14 18 23 18 10 18-2 18-10 18-14 18-8 18 3 18 5 18-4 18-7" fill="none" stroke="#77AC30" stroke-width="6" stroke-linejoin="round" stroke-linecap="round" transform="scale(.1)"/>
<path d="M1961 658l18 13 18 9 18 10 18 16 18 17 18-2 18-22 18-3 18 19 18 9 18-7 18-29 18-45 18-51 18-35 18 10 18 96 18 173 18 96 18-107 18-162 18-36 18 99 18 88 18 22 18-83 18-132 18-67 18 10 18 15 18 19 18 14 18 24 18 18 18-1 18-10 18 4 18 24 18 12 18-30 18-91 18-66 18 149 18 214 18-39 18-93 18-76 18-26 18 12 18 23 18 20 18 2 18-6 18-2 18 4 18 2 18-3 18-2 18 10 18 20 18 16 18-2 18-21 18-26 18-12 18 7 18 10 18 1 18-11 18-7 18 12 18 16 18 9 18-8 18-20 18-14 18 8 18 23 18 11 18-13 18-18" fill="none" stroke="#4DBEEE" stroke-width="6" stroke-linejoin="round" stroke-linecap="round" transform="scale(.1)"/>
<path d="M1961 648l18 7 18 1 18 3 18 10 18 16 18 9 18-14 18-15 18 19 18 23 18 2 18-20 18-40 18-48 18-50 18-23 18 35 18 126 18 175 18 10 18-121 18-149 18 54 18 107 18 66 18-33 18-122 18-138 18-42 18 18 18 36 18 35 18 31 18 26 18 9 18-7 18-6 18 9 18 11 18-22 18-60 18-124 18 47 18 223 18 121 18-80 18-76 18-46 18-2 18 15 18-1 18-15 18-20 18-6 18 9 18 15 18 13 18 12 18 20 18 24 18 15 18-6 18-26 18-32 18-22 18-5 18 3 18 1 18 0 18 5 18 19 18 22 18 6 18-10 18-19 18-18 18-4 18 10 18 11 18-2 18-5" fill="none" stroke="#A2142F" stroke-width="6" stroke-linejoin="round" stroke-linecap="round" transform="scale(.1)"/>
<path d="M1961 712l18 3 18-5 18-7 18 0 18 10 18 16 18 7 18 11 18 34 18 24 18-11 18-40 18-55 18-49 18-36 18-6 18 38 18 104 18 138 18 8 18-95 18-121 18 30 18 71 18 52 18-6 18-66 18-87 18-35 18-10 18-1 18 10 18 22 18 24 18 10 18-3 18 4 18 25 18 28 18-7 18-55 18-117 18 19 18 166 18 93 18-57 18-52 18-29 18 3 18 18 18-1 18-17 18-21 18-10 18 7 18 14 18 13 18 14 18 21 18 19 18 1 18-26 18-39 18-26 18 9 18 37 18 34 18 5 18-23 18-29 18-9 18 7 18-2 18-16 18-17 18 1 18 29 18 43 18 24 18-16 18-35" fill="none" stroke="#0072BD" stroke-width="6" stroke-linejoin="round" stroke-linecap="round" transform="scale(.1)"/>
<path d="M1961 629l18 12 18-9 18-11 18 1 18 16 18 2 18-22 18 6 18 44 18 34 18 11 18-29 18-72 18-98 18-84 18-15 18 126 18 254 18 167 18-131 18-225 18-66 18 150 18 147 18 49 18-120 18-211 18-131 18-7 18 20 18 35 18 30 18 41 18 36 18 17 18 4 18 13 18 25 18-6 18-69 18-138 18-106 18 219 18 331 18-34 18-136 18-115 18-41 18 21 18 42 18 26 18-9 18-23 18-8 18 10 18 14 18 2 18-3 18 11 18 29 18 29 18 3 18-33 18-52 18-35 18 3 18 29 18 30 18 11 18-8 18-4 18-7 18-10 18-13 18-16 18-9 18 17 18 35 18 23 18-4 18-12" fill="none" stroke="#D95319" stroke-width="6" stroke-linejoin="round" stroke-linecap="round" transform="scale(.1)"/>
<path d="M1961 675l18 4 18 1 18 6 18 19 18 24 18 20 18-6 18-26 18 14 18 41 18 8 18-26 18-52 18-64 18-67 18-51 18 1 18 132 18 264 18 153 18-156 18-246 18-43 18 160 18 149 18 39 18-142 18-237 18-133 18 7 18 45 18 60 18 40 18 31 18 12 18-6 18-3 18 21 18 35 18 0 18-68 18-149 18-86 18 245 18 329 18-77 18-138 18-97 18-16 18 23 18 17 18-9 18-17 18-3 18 16 18 18 18 6 18-1 18 10 18 27 18 23 18 1 18-24 18-32 18-19 18 1 18 7 18-5 18-13 18-6 18 13 18 31 18 13 18-12 18-22 18-20 18-5 18 16 18 19 18 3 18-9" fill="none" stroke="#EDB120" stroke-width="6" stroke-linejoin="round" stroke-linecap="round" transform="scale(.1)"/>
<path d="M1961 635l18 1 18-17 18-12 18 8 18 23 18 11 18-9 18 4 18 17 18 5 18-10 18-30 18-45 18-48 18-26 18 15 18 91 18 151 18 65 18-107 18-137 18 8 18 108 18 73 18-9 18-103 18-130 18-47 18 27 18 24 18 16 18 6 18 15 18 13 18 3 18-1 18 14 18 28 18 5 18-45 18-109 18-56 18 153 18 211 18-29 18-76 18-78 18-40 18-3 18 17 18 36 18 19 18-3 18-13 18-13 18-8 18 0 18 11 18 24 18 30 18 19 18-8 18-36 18-46 18-25 18 9 18 32 18 27 18 5 18-15 18-14 18-7 18 5 18 12 18 4 18-5 18-4 18-3 18-8 18-10 18 5" fill="none" stroke="#7E2F8E" stroke-width="6" stroke-linejoin="round" stroke-linecap="round" transform="scale(.1)"/>
<path d="M1961 656l18 15 18 5 18 6 18 14 18 18 18 7 18-22 18-16 18 20 18 20 18 0 18-23 18-44 18-51 18-50 18-17 18 60 18 160 18 178 18-33 18-149 18-140 18 70 18 102 18 56 18-50 18-124 18-113 18-19 18 12 18 20 18 19 18 31 18 32 18 13 18-7 18-9 18 8 18 8 18-28 18-67 18-119 18 110 18 266 18 63 18-115 18-101 18-49 18 9 18 30 18 15 18-13 18-22 18-5 18 15 18 18 18 7 18 1 18 12 18 28 18 24 18-2 18-35 18-48 18-30 18 4 18 24 18 20 18 5 18-6 18 2 18 7 18 0 18-4 18-9 18-7 18 2 18 6 18-6 18-19 18-6" fill="none" stroke="#77AC30" stroke-width="6" stroke-linejoin="round" stroke-linecap="round" transform="scale(.1)"/>
<path d="M1961 749l18 16 18 9 18 11 18 14 18 15 18 2 18-28 18-15 18 34 18 29 18 0 18-30 18-56 18-64 18-64 18-24 18 80 18 211 18 225 18-65 18-215 18-184 18 122 18 172 18 96 18-76 18-198 18-177 18-28 18 32 18 48 18 31 18 24 18 19 18 4 18-4 18 8 18 33 18 23 18-39 18-103 18-179 18 137 18 359 18 94 18-137 18-124 18-68 18-3 18 20 18 13 18-10 18-18 18-6 18 14 18 22 18 22 18 20 18 27 18 25 18 8 18-19 18-38 18-40 18-22 18 0 18 5 18-2 18-5 18 4 18 29 18 34 18 12 18-13 18-29 18-29 18-2 18 24 18 23 18-4 18-15" fill="none" stroke="#4DBEEE" stroke-width="6" stroke-linejoin="round" stroke-linecap="round" transform="scale(.1)"/>
<path d="M1961 642l18-8 18-22 18-9 18 15 18 33 18 17 18-17 18-9 18 25 18 28 18 11 18-22 18-56 18-72 18-62 18-13 18 85 18 179 18 143 18-89 18-164 18-84 18 121 18 126 18 53 18-85 18-160 18-114 18-11 18 13 18 25 18 19 18 30 18 26 18 9 18-7 18 1 18 25 18 21 18-20 18-75 18-120 18 125 18 246 18-8 18-109 18-81 18-28 18 16 18 25 18 10 18-6 18-5 18 11 18 20 18 11 18-5 18-12 18 1 18 15 18 13 18-7 18-27 18-30 18-11 18 14 18 22 18 12 18 1 18-1 18 12 18 6 18-10 18-23 18-24 18-10 18 13 18 20 18 1 18-18 18-6" fill="none" stroke="#A2142F" stroke-width="6" stroke-linejoin="round" stroke-linecap="round" transform="scale(.1)"/>
<path d="M1961 736l18 15 18 9 18 11 18 16 18 8 18-21 18-43 18-13 18 25 18 31 18 17 18-14 18-46 18-63 18-47 18 3 18 95 18 172 18 88 18-110 18-158 18-16 18 107 18 87 18 13 18-91 18-135 18-63 18 9 18 11 18 14 18 18 18 35 18 30 18 4 18-17 18-9 18 11 18 6 18-31 18-89 18-49 18 164 18 221 18-42 18-95 18-88 18-40 18 3 18 20 18 31 18 12 18-7 18-6 18 6 18 15 18 14 18 3 18-4 18-6 18-4 18-3 18-7 18-10 18-2 18 8 18 11 18 4 18-12 18-19 18-9 18 2 18 14 18 17 18 5 18-6 18-2 18 4 18 0 18-9 18-9" fill="none" stroke="#0072BD" stroke-width="6" stroke-linejoin="round" stroke-linecap="round" transform="scale(.1)"/>
<path d="M1961 744l18 11 18-8 18-7 18 11 18 24 18 12 18-20 18-24 18 14 18 31 18 20 18-11 18-48 18-64 18-59 18-17 18 52 18 133 18 156 18-5 18-116 18-131 18 44 18 87 18 57 18-25 18-97 18-110 18-36 18 8 18 25 18 30 18 26 18 17 18 0 18-5 18 8 18 26 18 16 18-31 18-72 18-112 18 65 18 215 18 91 18-91 18-93 18-51 18 12 18 42 18 25 18-14 18-30 18-9 18 21 18 24 18 1 18-23 18-15 18 14 18 34 18 24 18-7 18-33 18-30 18-3 18 15 18 11 18-3 18-10 18 1 18 13 18 7 18-6 18-16 18-14 18 1 18 15 18 11 18-2 18-3" fill="none" stroke="#D95319" stroke-width="6" stroke-linejoin="round" stroke-linecap="round" transform="scale(.1)"/>
<path d="M1961 750l18 2 18-8 18 0 18 16 18 28 18 16 18-12 18-2 18 32 18 27 18 0 18-36 18-66 18-71 18-59 18-10 18 80 18 174 18 159 18-62 18-148 18-102 18 97 18 109 18 50 18-70 18-143 18-113 18-19 18 7 18 24 18 25 18 35 18 27 18 5 18-10 18 2 18 28 18 22 18-26 18-79 18-127 18 120 18 258 18 20 18-112 18-97 18-43 18 14 18 34 18 27 18-3 18-16 18-4 18 12 18 13 18 2 18-5 18 7 18 22 18 18 18-5 18-33 18-42 18-19 18 12 18 25 18 13 18-4 18-6 18 13 18 19 18 5 18-15 18-29 18-22 18 3 18 24 18 14 18-11 18-14" fill="none" stroke="#EDB120" stroke-width="6" stroke-linejoin="round" stroke-linecap="round" transform="scale(.1)"/>
<path d="M1961 696l18 17 18-2 18-9 18-1 18 12 18 5 18-7 18 6 18 9 18-5 18-9 18-14 18-23 18-38 18-38 18-4 18 79 18 155 18 69 18-94 18-139 18-2 18 89 18 73 18 11 18-75 18-115 18-57 18-7 18-6 18 7 18 25 18 48 18 42 18 9 18-22 18-20 18 0 18 6 18-14 18-72 18-23 18 135 18 140 18-71 18-67 18-27 18 16 18 19 18 6 18-38 18-39 18-8 18 33 18 50 18 30 18-9 18-34 18-26 18 4 18 31 18 34 18 9 18-23 18-39 18-34 18-13 18 9 18 23 18 29 18 25 18 5 18-16 18-27 18-28 18-11 18 19 18 32 18 18 18-7 18-20" fill="none" stroke="#7E2F8E" stroke-width="6" stroke-linejoin="round" stroke-linecap="round" transform="scale(.1)"/>
<path d="M1961 713l18 12 18-4 18-5 18 8 18 2 18-22 18-10 18 20 18 23 18 21 18-1 18-50 18-93 18-94 18-26 18 118 18 242 18 175 18-105 18-208 18-99 18 112 18 123 18 40 18-105 18-172 18-91 18 27 18 41 18 25 18-1 18 7 18 20 18 18 18 7 18 8 18 19 18 3 18-43 18-103 18-113 18 160 18 284 18 5 18-92 18-90 18-51 18-11 18 13 18 18 18 4 18-15 18-14 18 8 18 29 18 33 18 18 18 2 18-5 18-4 18-3 18-15 18-28 18-23 18-1 18 18 18 16 18-3 18-19 18-2 18 18 18 27 18 14 18-19 18-36 18-12 18 27 18 32 18-5 18-41 18-42" fill="none" stroke="#77AC30" stroke-width="6" stroke-linejoin="round" stroke-linecap="round" transform="scale(.1)"/>
<path d="M1961 720l18-11 18-15 18 4 18 28 18 31 18 5 18-29 18-28 18 5 18 25 18 18 18-14 18-42 18-38 18-9 18 27 18 55 18 61 18 30 18-57 18-69 18-27 18 58 18 52 18 18 18-29 18-48 18-35 18-10 18-15 18-13 18 2 18 27 18 37 18 21 18-3 18-14 18-6 18-1 18-10 18-26 18-47 18 47 18 98 18 8 18-40 18-29 18-5 18 13 18 18 18-7 18-23 18-21 18-3 18 10 18 9 18 3 18 11 18 28 18 33 18 9 18-34 18-61 18-45 18 5 18 47 18 47 18 12 18-24 18-25 18 3 18 19 18 6 18-24 18-35 18-11 18 31 18 49 18 20 18-28 18-43" fill="none" stroke="#4DBEEE" stroke-width="6" stroke-linejoin="round" stroke-linecap="round" transform="scale(.1)"/>
<path d="M1961 680l18 12 18-20 18-26 18-7 18 21 18 21 18 2 18 10 18 19 18 2 18-16 18-36 18-49 18-49 18-29 18 13 18 93 18 164 18 93 18-103 18-153 18-33 18 96 18 85 18 25 18-73 18-121 18-73 18-13 18-12 18 7 18 31 18 58 18 48 18 8 18-26 18-21 18 6 18 6 18-28 18-84 18-61 18 155 18 223 18-33 18-97 18-87 18-35 18 11 18 28 18 30 18 9 18-4 18-2 18-4 18-14 18-23 18-8 18 28 18 55 18 47 18-2 18-54 18-68 18-33 18 20 18 43 18 25 18-9 18-21 18 1 18 20 18 17 18-8 18-35 18-35 18 0 18 35 18 35 18 9 18-9" fill="none" stroke="#A2142F" stroke-width="6" stroke-linejoin="round" stroke-linecap="round" transform="scale(.1)"/>
<path d="M1961 737l18 12 18 3 18 6 18 15 18 20 18 11 18-17 18-15 18 29 18 36 18 2 18-34 18-60 18-60 18-52 18-17 18 41 18 137 18 195 18 15 18-139 18-172 18 58 18 125 18 86 18-15 18-119 18-156 18-69 18-10 18 15 18 34 18 44 18 39 18 11 18-12 18-7 18 27 18 35 18-8 18-67 18-152 18 37 18 252 18 146 18-109 18-111 18-68 18 1 18 29 18 28 18 1 18-15 18-5 18 10 18 12 18 3 18 1 18 17 18 30 18 20 18-12 18-41 18-44 18-16 18 15 18 20 18-2 18-19 18-9 18 25 18 42 18 20 18-13 18-31 18-25 18 3 18 22 18 5 18-29 18-33" fill="none" stroke="#0072BD" stroke-width="6" stroke-linejoin="round" stroke-linecap="round" transform="scale(.1)"/>
<path d="M1961 746l18-1 18-15 18-14 18-1 18 12 18 6 18-3 18 8 18 25 18 22 18 7 18-25 18-48 18-51 18-25 18 13 18 59 18 84 18 35 18-48 18-62 18 7 18 48 18 31 18-4 18-41 18-56 18-28 18-9 18-11 18-1 18 16 18 33 18 28 18 6 18-6 18-1 18 11 18 3 18-25 18-60 18-32 18 70 18 95 18-18 18-41 18-35 18-3 18 26 18 45 18 18 18-19 18-37 18-29 18-7 18 3 18 2 18 1 18 13 18 30 18 30 18 10 18-20 18-33 18-17 18 6 18 15 18 0 18-18 18-20 18 0 18 18 18 19 18 6 18-8 18-4 18 13 18 17 18-3 18-26 18-27" fill="none" stroke="#D95319" stroke-width="6" stroke-linejoin="round" stroke-linecap="round" transform="scale(.1)"/>
<path d="M1961 696l18 11 18 4 18 6 18 11 18 8 18-10 18-30 18-10 18 33 18 40 18 21 18-20 18-56 18-67 18-49 18-2 18 72 18 137 18 108 18-59 18-111 18-59 18 72 18 64 18 17 18-63 18-96 18-54 18 10 18 9 18 3 18-2 18 12 18 20 18 16 18 11 18 15 18 20 18 0 18-44 18-80 18-88 18 112 18 205 18 12 18-75 18-66 18-25 18 8 18 14 18-10 18-23 18-5 18 30 18 43 18 15 18-29 18-47 18-15 18 35 18 59 18 32 18-19 18-51 18-40 18-5 18 12 18 3 18-11 18-4 18 30 18 48 18 27 18-18 18-56 18-54 18-11 18 33 18 41 18 18 18-2" fill="none" stroke="#EDB120" stroke-width="6" stroke-linejoin="round" stroke-linecap="round" transform="scale(.1)"/>
<path d="M1961 646l18 2 18-21 18-15 18 9 18 23 18 7 18-22 18-5 18 41 18 44 18 8 18-40 18-74 18-66 18-39 18 5 18 66 18 134 18 133 18-39 18-109 18-87 18 67 18 69 18 30 18-46 18-96 18-88 18-31 18-17 18 12 18 41 18 59 18 37 18-11 18-38 18-14 18 33 18 39 18-15 18-80 18-129 18 94 18 239 18 46 18-97 18-97 18-47 18 19 18 50 18 36 18-10 18-34 18-20 18 4 18 7 18-6 18-10 18 16 18 46 18 45 18 5 18-42 18-55 18-23 18 19 18 27 18-4 18-33 18-24 18 23 18 53 18 33 18-15 18-48 18-37 18 12 18 43 18 22 18-26 18-42" fill="none" stroke="#7E2F8E" stroke-width="6" stroke-linejoin="round" stroke-linecap="round" transform="scale(.1)"/>
<path d="M1961 761l18 5 18-23 18-16 18 17 18 45 18 30 18-20 18-29 18 1 18 14 18 15 18-9 18-46 18-69 18-60 18-6 18 96 18 185 18 136 18-103 18-172 18-80 18 125 18 124 18 42 18-95 18-160 18-104 18 0 18 17 18 21 18 17 18 37 18 42 18 20 18-12 18-20 18-2 18 2 18-22 18-62 18-96 18 147 18 255 18-11 18-120 18-96 18-39 18 14 18 35 18 37 18 12 18-13 18-21 18-19 18-11 18 4 18 22 18 38 18 35 18 9 18-20 18-35 18-30 18-11 18 2 18-2 18-6 18 2 18 23 18 42 18 21 18-21 18-47 18-41 18-7 18 32 18 42 18 14 18-19 18-18" fill="none" stroke="#77AC30" stroke-width="6" stroke-linejoin="round" stroke-linecap="round" transform="scale(.1)"/>
<path d="M1961 669l18 2 18 7 18 16 18 23 18 22 18 1 18-25 18-8 18 14 18 7 18-1 18-14 18-35 18-55 18-59 18-21 18 85 18 195 18 134 18-87 18-166 18-48 18 95 18 90 18 25 18-90 18-152 18-88 18 3 18 24 18 36 18 28 18 25 18 10 18-7 18-5 18 21 18 38 18 8 18-55 18-124 18-88 18 169 18 256 18-24 18-91 18-78 18-27 18 7 18 15 18-3 18-15 18-2 18 22 18 31 18 8 18-24 18-33 18-2 18 38 18 52 18 26 18-23 18-54 18-43 18-8 18 18 18 17 18 0 18-7 18 10 18 17 18 12 18-9 18-30 18-26 18 7 18 36 18 30 18 0 18-20" fill="none" stroke="#4DBEEE" stroke-width="6" stroke-linejoin="round" stroke-linecap="round" transform="scale(.1)"/>
<path d="M1961 689l18 16 18 5 18 4 18 12 18 14 18-10 18-13 18 21 18 24 18 5 18-16 18-49 18-71 18-82 18-36 18 64 18 193 18 233 18-14 18-182 18-192 18 81 18 142 18 80 18-55 18-156 18-149 18-22 18 27 18 22 18 5 18 16 18 34 18 29 18 8 18-3 18 12 18 18 18-19 18-72 18-162 18 71 18 290 18 128 18-108 18-107 18-75 18-16 18 18 18 27 18 21 18 1 18-7 18-1 18 4 18 2 18-5 18 0 18 16 18 31 18 28 18 0 18-37 18-52 18-32 18 1 18 24 18 23 18 8 18 3 18 7 18 5 18 0 18-16 18-31 18-19 18 15 18 32 18 17 18-5 18-10" fill="none" stroke="#A2142F" stroke-width="6" stroke-linejoin="round" stroke-linecap="round" transform="scale(.1)"/>
<path d="M1961 643l18 14 18 6 18-1 18 2 18 6 18 10 18 0 18-10 18 8 18 16 18-3 18-15 18-24 18-26 18-29 18-23 18 2 18 68 18 134 18 66 18-91 18-131 18-4 18 95 18 82 18 15 18-84 18-132 18-68 18 10 18 28 18 32 18 16 18 11 18 5 18 0 18 6 18 16 18 19 18-5 18-43 18-87 18-39 18 135 18 171 18-43 18-65 18-45 18-9 18 6 18-3 18-9 18-4 18 8 18 13 18 6 18-5 18-3 18 12 18 26 18 19 18-2 18-23 18-29 18-18 18-2 18 5 18 4 18 5 18 11 18 16 18 14 18-8 18-24 18-20 18-5 18 9 18 15 18 6 18-9 18-8" fill="none" stroke="#0072BD" stroke-width="6" stroke-linejoin="round" stroke-linecap="round" transform="scale(.1)"/>
<path d="M1961 775l18 4 18-23 18-21 18-1 18 22 18 21 18-3 18 6 18 42 18 32 18-5 18-49 18-86 18-88 18-66 18 1 18 111 18 219 18 205 18-67 18-202 18-173 18 85 18 133 18 81 18-51 18-147 18-130 18-22 18 12 18 19 18 12 18 20 18 27 18 18 18 9 18 15 18 28 18 13 18-41 18-93 18-150 18 121 18 297 18 56 18-124 18-103 18-44 18 18 18 39 18 15 18-14 18-21 18-5 18 12 18 7 18-8 18-8 18 17 18 41 18 39 18 5 18-35 18-50 18-29 18 7 18 18 18 4 18-16 18-16 18 14 18 35 18 27 18 0 18-26 18-35 18-13 18 13 18 13 18-6 18-9" fill="none" stroke="#D95319" stroke-width="6" stroke-linejoin="round" stroke-linecap="round" transform="scale(.1)"/>
<path d="M1961 688l18-2 18-4 18 7 18 23 18 27 18 1 18-17 18 7 18 11 18-5 18-13 18-28 18-45 18-63 18-44 18 25 18 145 18 222 18 34 18-159 18-196 18 57 18 151 18 100 18-30 18-155 18-179 18-53 18 34 18 42 18 25 18 9 18 12 18 8 18 4 18 10 18 34 18 38 18-7 18-72 18-170 18 3 18 250 18 188 18-81 18-93 18-73 18-24 18 1 18 11 18 21 18 16 18 9 18 3 18-8 18-14 18-11 18 7 18 27 18 36 18 23 18-4 18-34 18-45 18-30 18-5 18 14 18 21 18 13 18 8 18 7 18-1 18-5 18-9 18-15 18-10 18 9 18 15 18 2 18-12 18-7" fill="none" stroke="#EDB120" stroke-width="6" stroke-linejoin="round" stroke-linecap="round" transform="scale(.1)"/>
<path d="M1961 657l18 10 18 9 18 14 18 20 18 22 18-1 18-15 18 14 18 20 18-1 18-17 18-37 18-53 18-71 18-51 18 15 18 140 18 232 18 65 18-152 18-200 18 36 18 155 18 114 18-9 18-148 18-192 18-79 18 14 18 27 18 24 18 20 18 29 18 28 18 15 18 7 18 20 18 25 18-9 18-64 18-151 18-13 18 239 18 208 18-88 18-104 18-75 18-20 18 6 18 9 18 11 18 7 18 10 18 16 18 17 18 10 18 1 18-1 18 1 18 0 18-6 18-15 18-22 18-19 18-4 18 10 18 17 18 13 18 5 18 3 18 7 18 0 18-6 18-11 18-20 18-15 18 5 18 17 18 9 18-7 18-6" fill="none" stroke="#7E2F8E" stroke-width="6" stroke-linejoin="round" stroke-linecap="round" transform="scale(.1)"/>
<path d="M1961 694l18-4 18-9 18 7 18 25 18 29 18-1 18-32 18-21 18 5 18 18 18 20 18-3 18-35 18-59 18-48 18 0 18 87 18 150 18 64 18-90 18-130 18-3 18 83 18 67 18 10 18-70 18-106 18-53 18-7 18-3 18 11 18 25 18 42 18 33 18 7 18-13 18-5 18 7 18-6 18-40 18-90 18-25 18 149 18 169 18-36 18-71 18-64 18-23 18 9 18 24 18 11 18-15 18-24 18-10 18 14 18 29 18 25 18 14 18 5 18-3 18-11 18-22 18-26 18-16 18 6 18 23 18 17 18-2 18-16 18-6 18 17 18 20 18 3 18-27 18-41 18-20 18 25 18 52 18 35 18-8 18-36" fill="none" stroke="#77AC30" stroke-width="6" stroke-linejoin="round" stroke-linecap="round" transform="scale(.1)"/>
<path d="M1961 685l18-6 18-16 18-4 18 19 18 36 18 22 18-7 18 9 18 39 18 26 18-5 18-47 18-80 18-86 18-62 18 0 18 114 18 217 18 150 18-111 18-190 18-72 18 125 18 121 18 41 18-98 18-169 18-107 18-3 18 14 18 29 18 29 18 40 18 29 18-3 18-21 18-6 18 23 18 14 18-38 18-102 18-103 18 185 18 302 18-12 18-122 18-108 18-48 18 9 18 28 18 13 18-19 18-29 18-8 18 20 18 29 18 22 18 16 18 24 18 32 18 18 18-17 18-53 18-64 18-33 18 9 18 29 18 22 18 2 18-2 18 16 18 20 18 5 18-17 18-32 18-22 18 10 18 30 18 14 18-16 18-19" fill="none" stroke="#4DBEEE" stroke-width="6" stroke-linejoin="round" stroke-linecap="round" transform="scale(.1)"/>
<path d="M1961 605l18 19 18 22 18 10 18 0 18-1 18 1 18-1 18 12 18 13 18-7 18-20 18-25 18-27 18-26 18-17 18 9 18 62 18 110 18 59 18-76 18-103 18-10 18 88 18 66 18-2 18-86 18-104 18-38 18 29 18 19 18-2 18-14 18 13 18 39 18 36 18 4 18-22 18-23 18-9 18-1 18-24 18-31 18 84 18 116 18-45 18-63 18-32 18 1 18 14 18 16 18 8 18 2 18-3 18-6 18-6 18-4 18-1 18 3 18 8 18 13 18 15 18 6 18-14 18-31 18-28 18-2 18 25 18 34 18 15 18-14 18-23 18-15 18 5 18 16 18 2 18-15 18-11 18 8 18 19 18 8 18-14" fill="none" stroke="#A2142F" stroke-width="6" stroke-linejoin="round" stroke-linecap="round" transform="scale(.1)"/>
<path d="M1961 699l18 12 18-14 18-15 18 9 18 32 18 25 18-11 18-20 18 6 18 10 18 3 18-11 18-38 18-56 18-63 18-29 18 63 18 172 18 178 18-42 18-152 18-130 18 78 18 113 18 72 18-47 18-138 18-135 18-47 18-1 18 36 18 50 18 52 18 24 18-15 18-29 18-2 18 42 18 44 18-16 18-88 18-150 18 96 18 263 18 57 18-99 18-102 18-63 18-3 18 26 18 47 18 21 18-11 18-21 18-13 18 5 18 19 18 28 18 29 18 15 18-13 18-40 18-45 18-25 18 9 18 28 18 16 18-11 18-19 18 1 18 39 18 43 18 9 18-33 18-49 18-26 18 19 18 40 18 12 18-39 18-50" fill="none" stroke="#0072BD" stroke-width="6" stroke-linejoin="round" stroke-linecap="round" transform="scale(.1)"/>
<path d="M1961 670l18-4 18 4 18 19 18 24 18 11 18-21 18-36 18 5 18 45 18 35 18 0 18-46 18-71 18-64 18-28 18 25 18 103 18 162 18 77 18-108 18-148 18-12 18 103 18 81 18 11 18-89 18-134 18-68 18 6 18 15 18 26 18 24 18 28 18 16 18-1 18-4 18 12 18 21 18-5 18-52 18-100 18-45 18 169 18 214 18-51 18-106 18-80 18-9 18 36 18 47 18 0 18-39 18-35 18 5 18 34 18 27 18-5 18-24 18-5 18 27 18 38 18 14 18-26 18-47 18-27 18 6 18 21 18 11 18-9 18-10 18 9 18 14 18 6 18-11 18-19 18-7 18 18 18 24 18 1 18-24 18-15" fill="none" stroke="#D95319" stroke-width="6" stroke-linejoin="round" stroke-linecap="round" transform="scale(.1)"/>
<path d="M1961 683l18 15 18 13 18 13 18 14 18 13 18-5 18-22 18-4 18 14 18 9 18 0 18-16 18-34 18-45 18-39 18-5 18 71 18 140 18 82 18-79 18-122 18-15 18 90 18 77 18 13 18-81 18-124 18-66 18 4 18 15 18 21 18 15 18 21 18 17 18 7 18 1 18 11 18 22 18 6 18-32 18-84 18-61 18 114 18 167 18-36 18-69 18-50 18-8 18 20 18 31 18 15 18-7 18-18 18-15 18-7 18-1 18 2 18 6 18 16 18 21 18 15 18 0 18-17 18-23 18-14 18-1 18 6 18 3 18-2 18-2 18 7 18 7 18 1 18-4 18-9 18-5 18 8 18 15 18 4 18-13 18-15" fill="none" stroke="#EDB120" stroke-width="6" stroke-linejoin="round" stroke-linecap="round" transform="scale(.1)"/>
<path d="M1961 659l18 12 18-2 18-2 18 5 18 11 18 0 18-21 18-16 18 24 18 35 18 10 18-25 18-52 18-50 18-32 18 6 18 51 18 107 18 130 18-11 18-115 18-128 18 42 18 89 18 60 18-13 18-85 18-107 18-43 18 0 18 21 18 34 18 36 18 25 18-2 18-18 18-7 18 20 18 23 18-15 18-59 18-115 18 35 18 191 18 107 18-72 18-74 18-41 18 9 18 37 18 16 18-17 18-32 18-19 18 2 18 6 18-2 18-1 18 21 18 46 18 42 18 7 18-38 18-56 18-34 18 6 18 26 18 15 18-8 18-15 18 4 18 21 18 14 18-5 18-18 18-15 18 3 18 14 18 2 18-17 18-13" fill="none" stroke="#7E2F8E" stroke-width="6" stroke-linejoin="round" stroke-linecap="round" transform="scale(.1)"/>
<path d="M1961 733l18-1 18-15 18-7 18 11 18 25 18 9 18-16 18-1 18 26 18 22 18 4 18-30 18-62 18-72 18-53 18 5 18 104 18 190 18 121 18-93 18-164 18-60 18 82 18 79 18 28 18-65 18-114 18-63 18-3 18-5 18 1 18 12 18 34 18 32 18 11 18-3 18 8 18 25 18 4 18-49 18-107 18-81 18 161 18 248 18-18 18-104 18-96 18-38 18 20 18 50 18 36 18-11 18-41 18-33 18-3 18 19 18 25 18 23 18 26 18 24 18 9 18-25 18-53 18-53 18-15 18 32 18 49 18 30 18-7 18-28 18-19 18-6 18 2 18 3 18 0 18 6 18 20 18 18 18-8 18-35 18-24" fill="none" stroke="#77AC30" stroke-width="6" stroke-linejoin="round" stroke-linecap="round" transform="scale(.1)"/>
<path d="M1961 758l18 3 18-13 18-16 18-3 18 10 18 13 18 0 18 1 18 30 18 31 18-4 18-39 18-57 18-46 18-24 18 4 18 34 18 88 18 130 18 24 18-103 18-126 18 26 18 94 18 68 18-3 18-86 18-121 18-57 18 1 18 20 18 33 18 30 18 22 18 2 18-9 18-4 18 17 18 20 18-11 18-48 18-95 18 12 18 175 18 134 18-83 18-94 18-50 18 16 18 50 18 30 18-18 18-45 18-33 18 0 18 23 18 26 18 21 18 21 18 20 18 3 18-24 18-44 18-37 18-2 18 31 18 35 18 8 18-18 18-23 18-3 18 16 18 6 18-11 18-15 18-1 18 22 18 29 18 4 18-33 18-43" fill="none" stroke="#4DBEEE" stroke-width="6" stroke-linejoin="round" stroke-linecap="round" transform="scale(.1)"/>
<path d="M1961 771l18 13 18 8 18 12 18 14 18 11 18-10 18-33 18-12 18 21 18 12 18-3 18-21 18-39 18-48 18-43 18-4 18 94 18 195 18 138 18-108 18-185 18-75 18 117 18 115 18 36 18-103 18-174 18-106 18 7 18 31 18 42 18 30 18 36 18 31 18 12 18-6 18-4 18 7 18-9 18-55 18-110 18-108 18 164 18 282 18 4 18-81 18-66 18-25 18 1 18 12 18-12 18-23 18-21 18-8 18 5 18 13 18 17 18 21 18 26 18 21 18 5 18-13 18-24 18-24 18-10 18 4 18 7 18 5 18 3 18 3 18 9 18-4 18-20 18-28 18-25 18-8 18 21 18 42 18 35 18 14 18 5" fill="none" stroke="#A2142F" stroke-width="6" stroke-linejoin="round" stroke-linecap="round" transform="scale(.1)"/>
<path d="M1961 707l18-4 18-15 18-7 18 13 18 22 18 11 18-15 18-20 18 10 18 27 18 17 18-10 18-38 18-46 18-34 18-4 18 32 18 77 18 97 18 7 18-70 18-89 18 16 18 50 18 41 18 4 18-41 18-67 18-42 18-21 18-3 18 23 18 40 18 34 18 6 18-17 18-16 18 6 18 16 18-2 18-31 18-70 18 22 18 121 18 65 18-59 18-55 18-23 18 19 18 37 18 9 18-27 18-35 18-12 18 17 18 23 18 6 18-9 18-1 18 22 18 29 18 9 18-25 18-42 18-28 18 3 18 21 18 17 18 3 18-1 18 9 18 13 18-3 18-23 18-26 18-10 18 17 18 28 18 9 18-19 18-22" fill="none" stroke="#0072BD" stroke-width="6" stroke-linejoin="round" stroke-linecap="round" transform="scale(.1)"/>
<path d="M1961 645l18 14 18 3 18-6 18-4 18 2 18 7 18 7 18-5 18 5 18 25 18 9 18-14 18-26 18-30 18-27 18-32 18-19 18 36 18 116 18 133 18-31 18-117 18-103 18 68 18 99 18 62 18-37 18-115 18-111 18-32 18 6 18 23 18 22 18 23 18 23 18 17 18 8 18 7 18 7 18-5 18-36 18-59 18-91 18 93 18 208 18 40 18-85 18-67 18-31 18 1 18 3 18-9 18-10 18 3 18 22 18 26 18 15 18 0 18-7 18-4 18 1 18-2 18-5 18-4 18 1 18 3 18-5 18-16 18-19 18-3 18 17 18 33 18 22 18-6 18-22 18-22 18-13 18 1 18 10 18 6 18 1" fill="none" stroke="#D95319" stroke-width="6" stroke-linejoin="round" stroke-linecap="round" transform="scale(.1)"/>
<path d="M1961 681l18-3 18-14 18-3 18 17 18 29 18 17 18-15 18-17 18 12 18 19 18 3 18-25 18-48 18-49 18-33 18 8 18 67 18 128 18 125 18-45 18-135 18-122 18 49 18 91 18 65 18-11 18-76 18-85 18-28 18-8 18 1 18 6 18 14 18 13 18 4 18 2 18 19 18 41 18 31 18-21 18-73 18-121 18 55 18 192 18 59 18-79 18-72 18-31 18 20 18 46 18 21 18-20 18-40 18-27 18 2 18 20 18 19 18 12 18 16 18 22 18 14 18-10 18-35 18-41 18-19 18 11 18 24 18 14 18 1 18-1 18 13 18 14 18-5 18-28 18-34 18-18 18 16 18 35 18 23 18-4 18-10" fill="none" stroke="#EDB120" stroke-width="6" stroke-linejoin="round" stroke-linecap="round" transform="scale(.1)"/>
<path d="M1961 672l18 18 18 19 18 18 18 10 18-2 18-14 18-24 18-2 18 32 18 25 18-2 18-26 18-40 18-39 18-35 18-13 18 46 18 126 18 134 18-32 18-119 18-108 18 52 18 84 18 59 18-26 18-98 18-100 18-31 18 1 18 27 18 28 18 24 18 10 18-4 18-1 18 16 18 28 18 7 18-41 18-72 18-94 18 104 18 216 18 31 18-99 18-81 18-28 18 19 18 26 18-6 18-25 18-9 18 25 18 39 18 13 18-23 18-30 18 0 18 30 18 27 18-8 18-35 18-24 18 15 18 40 18 18 18-30 18-56 18-32 18 23 18 52 18 33 18-5 18-25 18-11 18 13 18 12 18-22 18-50 18-26" fill="none" stroke="#7E2F8E" stroke-width="6" stroke-linejoin="round" stroke-linecap="round" transform="scale(.1)"/>
<path d="M1961 748l18 6 18 15 18 25 18 32 18 23 18-14 18-21 18 10 18 9 18-7 18-18 18-41 18-60 18-77 18-39 18 64 18 203 18 237 18-32 18-199 18-190 18 110 18 175 18 101 18-68 18-196 18-191 18-45 18 28 18 42 18 30 18 28 18 32 18 21 18 5 18 5 18 26 18 25 18-25 18-89 18-183 18 83 18 312 18 117 18-110 18-100 18-68 18-19 18 2 18 4 18 14 18 15 18 17 18 18 18 13 18 4 18-4 18-2 18 2 18 4 18 0 18-9 18-20 18-20 18-7 18 7 18 9 18 4 18-7 18-1 18 10 18 16 18 18 18 6 18-18 18-26 18-14 18-3 18-5 18 0 18 12" fill="none" stroke="#77AC30" stroke-width="6" stroke-linejoin="round" stroke-linecap="round" transform="scale(.1)"/>
<path d="M1961 655l18 2 18-7 18-3 18 5 18 10 18-3 18-14 18 2 18 21 18 20 18 9 18-15 18-37 18-48 18-31 18 5 18 63 18 106 18 39 18-72 18-90 18 17 18 82 18 58 18 0 18-70 18-97 18-52 18-7 18 0 18 15 18 29 18 41 18 31 18 5 18-13 18-10 18 1 18-7 18-32 18-68 18-19 18 117 18 133 18-30 18-59 18-52 18-16 18 14 18 29 18 15 18-9 18-23 18-16 18-1 18 5 18 4 18 5 18 17 18 28 18 26 18 4 18-24 18-38 18-28 18-8 18 4 18 3 18-3 18 6 18 25 18 31 18 21 18-4 18-29 18-32 18-14 18 0 18-1 18-5 18 4" fill="none" stroke="#4DBEEE" stroke-width="6" stroke-linejoin="round" stroke-linecap="round" transform="scale(.1)"/>
<path d="M1961 710l18 29 18 20 18 12 18 7 18-1 18-24 18-30 18 9 18 29 18 17 18-2 18-34 18-60 18-74 18-44 18 31 18 147 18 214 18 43 18-146 18-184 18 39 18 133 18 90 18-22 18-137 18-166 18-57 18 22 18 33 18 28 18 23 18 26 18 14 18-3 18-4 18 20 18 35 18 5 18-52 18-146 18-11 18 210 18 166 18-80 18-86 18-60 18-10 18 11 18 14 18 6 18-1 18 5 18 21 18 25 18 13 18-10 18-23 18-17 18-2 18 9 18 6 18-9 18-18 18-11 18 4 18 15 18 17 18 12 18 11 18 11 18-4 18-18 18-31 18-35 18-16 18 15 18 30 18 15 18-7 18-7" fill="none" stroke="#A2142F" stroke-width="6" stroke-linejoin="round" stroke-linecap="round" transform="scale(.1)"/>
<path d="M1961 612l18 5 18-3 18 2 18 14 18 20 18 12 18-13 18-18 18 10 18 15 18-2 18-23 18-40 18-37 18-29 18 0 18 42 18 102 18 131 18-1 18-107 18-126 18 38 18 84 18 59 18-13 18-84 18-107 18-44 18-1 18 16 18 29 18 35 18 33 18 14 18-3 18-5 18 7 18 4 18-28 18-61 18-106 18 38 18 188 18 111 18-59 18-63 18-37 18 3 18 23 18-1 18-24 18-29 18-12 18 10 18 15 18 7 18 1 18 10 18 24 18 26 18 9 18-11 18-20 18-11 18 4 18 1 18-20 18-36 18-31 18-2 18 26 18 32 18 26 18 16 18 11 18 12 18 7 18-16 18-42 18-45" fill="none" stroke="#0072BD" stroke-width="6" stroke-linejoin="round" stroke-linecap="round" transform="scale(.1)"/>
<path d="M1961 695l18-2 18-4 18-1 18 5 18 5 18 0 18-13 18-15 18 17 18 38 18 21 18-3 18-28 18-42 18-46 18-32 18 0 18 71 18 136 18 72 18-83 18-128 18-15 18 82 18 77 18 23 18-68 18-121 18-73 18-6 18 17 18 37 18 37 18 33 18 14 18-7 18-18 18-9 18 1 18-8 18-32 18-65 18-20 18 140 18 166 18-49 18-74 18-51 18-5 18 19 18 6 18-14 18-23 18-11 18 9 18 19 18 17 18 10 18 7 18 8 18 1 18-11 18-17 18-11 18 3 18 16 18 12 18-5 18-17 18-14 18 3 18 17 18 8 18-10 18-23 18-22 18-7 18 17 18 29 18 25 18 16" fill="none" stroke="#D95319" stroke-width="6" stroke-linejoin="round" stroke-linecap="round" transform="scale(.1)"/>
<path d="M1961 700l18 7 18-3 18-7 18 4 18 21 18 27 18 5 18-11 18 12 18 20 18 3 18-14 18-40 18-60 18-70 18-41 18 30 18 138 18 204 18 42 18-133 18-171 18 38 18 124 18 85 18-22 18-131 18-159 18-56 18 20 18 35 18 32 18 26 18 26 18 13 18-4 18-7 18 12 18 24 18-4 18-52 18-130 18 4 18 208 18 158 18-78 18-84 18-58 18-10 18 15 18 24 18 13 18-3 18-15 18-14 18-8 18 1 18 12 18 19 18 21 18 15 18 5 18-4 18-10 18-14 18-12 18-12 18-12 18-10 18-5 18 8 18 17 18 12 18 7 18-1 18-10 18-8 18 5 18 14 18 8 18-3" fill="none" stroke="#EDB120" stroke-width="6" stroke-linejoin="round" stroke-linecap="round" transform="scale(.1)"/>
<path d="M1961 609l18 1 18-5 18-2 18 8 18 16 18 15 18 3 18-9 18 10 18 28 18 7 18-20 18-40 18-44 18-36 18-24 18 3 18 67 18 136 18 97 18-69 18-125 18-52 18 72 18 77 18 32 18-58 18-113 18-75 18-2 18 22 18 34 18 23 18 12 18-3 18-15 18-10 18 8 18 24 18 9 18-24 18-61 18-52 18 126 18 182 18-29 18-86 18-63 18-17 18 8 18 6 18-13 18-17 18-5 18 14 18 22 18 16 18 12 18 18 18 27 18 22 18-3 18-30 18-42 18-31 18-12 18-1 18-4 18-7 18 3 18 23 18 40 18 29 18 7 18-9 18-15 18-11 18-6 18-10 18-20 18-22" fill="none" stroke="#7E2F8E" stroke-width="6" stroke-linejoin="round" stroke-linecap="round" transform="scale(.1)"/>
<path d="M1961 658l18 8 18-1 18-2 18 4 18 11 18 6 18-17 18-14 18 20 18 26 18 8 18-13 18-35 18-42 18-45 18-18 18 39 18 123 18 158 18-17 18-139 18-151 18 56 18 113 18 78 18-16 18-101 18-116 18-31 18 13 18 20 18 13 18 11 18 7 18-5 18-13 18-1 18 25 18 33 18 0 18-44 18-112 18 58 18 218 18 94 18-101 18-99 18-63 18-10 18 5 18 17 18 5 18 2 18 13 18 27 18 25 18 11 18-3 18-3 18 3 18 1 18-13 18-27 18-29 18-13 18 11 18 19 18 12 18 0 18-4 18 8 18 17 18 6 18-8 18-17 18-18 18-2 18 14 18 11 18-8 18-14" fill="none" stroke="#77AC30" stroke-width="6" stroke-linejoin="round" stroke-linecap="round" transform="scale(.1)"/>
<path d="M1961 695l18 17 18 20 18 18 18 14 18 11 18-3 18-20 18-7 18 8 18 2 18-2 18-6 18-18 18-35 18-46 18-24 18 56 18 149 18 111 18-62 18-128 18-46 18 68 18 67 18 24 18-59 18-105 18-61 18-4 18-2 18 9 18 17 18 33 18 29 18 3 18-15 18-7 18 17 18 18 18-14 18-71 18-72 18 110 18 177 18-33 18-71 18-49 18-10 18 14 18 26 18 12 18-6 18-23 18-27 18-19 18 3 18 28 18 47 18 45 18 16 18-24 18-49 18-45 18-15 18 19 18 31 18 15 18-13 18-23 18-8 18 24 18 30 18 12 18-19 18-41 18-34 18 4 18 37 18 37 18 10 18-12" fill="none" stroke="#4DBEEE" stroke-width="6" stroke-linejoin="round" stroke-linecap="round" transform="scale(.1)"/>
<path d="M1961 693l18 0 18-11 18-6 18 11 18 19 18 3 18-16 18-3 18 7 18 2 18-3 18-18 18-34 18-42 18-23 18 21 18 93 18 139 18 32 18-101 18-124 18 21 18 86 18 54 18-18 18-89 18-102 18-26 18 23 18 22 18 13 18 10 18 16 18 10 18-3 18-5 18 8 18 19 18-5 18-45 18-102 18-10 18 162 18 157 18-33 18-63 18-62 18-32 18-8 18 1 18 9 18 5 18 5 18 13 18 13 18 2 18-12 18-12 18 9 18 31 18 36 18 15 18-23 18-48 18-43 18-19 18 4 18 16 18 16 18 20 18 24 18 13 18-3 18-22 18-28 18-11 18 19 18 30 18 7 18-23 18-32" fill="none" stroke="#A2142F" stroke-width="6" stroke-linejoin="round" stroke-linecap="round" transform="scale(.1)"/>
<path d="M1961 787l18 12 18-7 18-14 18-5 18 7 18 0 18 3 18 29 18 22 18-5 18-26 18-45 18-55 18-61 18-30 18 42 18 144 18 193 18 7 18-138 18-161 18 65 18 127 18 80 18-33 18-136 18-153 18-50 18 10 18 24 18 23 18 32 18 42 18 34 18 11 18-6 18-4 18-4 18-28 18-55 18-118 18 62 18 240 18 120 18-97 18-101 18-73 18-20 18 14 18 23 18 32 18 18 18 6 18 0 18-3 18-4 18-6 18-1 18 5 18 6 18 5 18-2 18-11 18-16 18-9 18 1 18 5 18 7 18 1 18 4 18 5 18 0 18-3 18-4 18-7 18 1 18 13 18 13 18-8 18-25 18-21" fill="none" stroke="#0072BD" stroke-width="6" stroke-linejoin="round" stroke-linecap="round" transform="scale(.1)"/>
<path d="M1961 652l18 6 18-3 18 1 18 17 18 27 18 22 18-6 18-34 18-14 18 17 18 9 18-6 18-16 18-25 18-31 18-40 18-24 18 58 18 163 18 137 18-77 18-154 18-74 18 97 18 104 18 47 18-73 18-148 18-104 18-10 18 15 18 33 18 23 18 22 18 14 18 2 18 1 18 12 18 24 18 4 18-38 18-82 18-83 18 155 18 239 18-44 18-125 18-79 18-4 18 44 18 40 18-2 18-32 18-29 18-4 18 16 18 20 18 17 18 16 18 16 18 2 18-21 18-33 18-22 18 6 18 29 18 26 18-4 18-28 18-25 18-1 18 25 18 15 18-11 18-25 18-17 18 5 18 30 18 34 18 11 18-16" fill="none" stroke="#D95319" stroke-width="6" stroke-linejoin="round" stroke-linecap="round" transform="scale(.1)"/>
<path d="M1961 713l18 9 18-1 18 0 18 9 18 14 18 7 18-16 18-18 18 18 18 32 18 11 18-19 18-45 18-50 18-43 18-16 18 29 18 100 18 149 18 33 18-97 18-130 18 23 18 84 18 59 18-10 18-90 18-119 18-51 18 3 18 24 18 37 18 36 18 27 18 5 18-14 18-10 18 11 18 17 18-12 18-51 18-101 18 17 18 181 18 133 18-72 18-82 18-50 18 4 18 30 18 17 18-11 18-22 18-11 18 7 18 11 18 0 18-5 18 7 18 26 18 28 18 7 18-21 18-31 18-17 18 8 18 14 18-2 18-17 18-17 18 4 18 23 18 13 18-4 18-14 18-10 18 8 18 21 18 11 18-13 18-21" fill="none" stroke="#EDB120" stroke-width="6" stroke-linejoin="round" stroke-linecap="round" transform="scale(.1)"/>
<path d="M1961 652l18 14 18 3 18 3 18 11 18 8 18-23 18-33 18 7 18 32 18 32 18 19 18-23 18-66 18-97 18-63 18 29 18 161 18 225 18 19 18-154 18-186 18 67 18 140 18 89 18-35 18-144 18-158 18-39 18 23 18 23 18 9 18 8 18 23 18 26 18 19 18 17 18 29 18 21 18-28 18-85 18-167 18 37 18 263 18 160 18-86 18-96 18-72 18-17 18 16 18 25 18 12 18-9 18-11 18 5 18 16 18 10 18-7 18-13 18 3 18 25 18 35 18 16 18-22 18-48 18-40 18-12 18 15 18 24 18 14 18 9 18 8 18 2 18-4 18-17 18-30 18-20 18 12 18 34 18 26 18 8 18-4" fill="none" stroke="#7E2F8E" stroke-width="6" stroke-linejoin="round" stroke-linecap="round" transform="scale(.1)"/>
<path d="M1961 757l18 11 18 2 18 6 18 17 18 20 18-2 18-24 18 1 18 24 18 19 18 2 18-30 18-58 18-72 18-44 18 17 18 115 18 185 18 64 18-126 18-164 18 15 18 123 18 94 18 4 18-103 18-144 18-64 18 2 18 5 18 10 18 17 18 36 18 29 18 6 18-7 18 8 18 25 18 4 18-44 18-116 18-31 18 188 18 205 18-60 18-99 18-86 18-31 18 11 18 22 18 19 18-4 18-12 18 5 18 23 18 25 18 13 18 1 18 4 18 10 18 5 18-18 18-43 18-46 18-18 18 18 18 34 18 24 18 2 18-4 18 9 18 12 18 4 18-13 18-26 18-16 18 12 18 24 18 4 18-25 18-26" fill="none" stroke="#77AC30" stroke-width="6" stroke-linejoin="round" stroke-linecap="round" transform="scale(.1)"/>
<path d="M1961 693l18 5 18 0 18 4 18 12 18 19 18 6 18-14 18 4 18 35 18 21 18-2 18-27 18-52 18-66 18-64 18-24 18 82 18 192 18 155 18-92 18-173 18-77 18 127 18 130 18 52 18-96 18-176 18-120 18-7 18 22 18 33 18 20 18 23 18 17 18 3 18-4 18 10 18 33 18 21 18-31 18-92 18-115 18 152 18 271 18-16 18-116 18-93 18-37 18 9 18 19 18 17 18 2 18-4 18 4 18 12 18 12 18 5 18 3 18 9 18 15 18 8 18-7 18-24 18-30 18-20 18-2 18 6 18 8 18 6 18 9 18 21 18 16 18-1 18-16 18-28 18-24 18-1 18 20 18 20 18 4 18 0" fill="none" stroke="#4DBEEE" stroke-width="6" stroke-linejoin="round" stroke-linecap="round" transform="scale(.1)"/>
<path d="M1961 669l18 4 18 0 18 5 18 13 18 17 18 5 18-17 18-11 18 18 18 16 18 1 18-19 18-38 18-43 18-40 18-11 18 59 18 136 18 131 18-52 18-133 18-101 18 77 18 100 18 55 18-49 18-121 18-104 18-20 18 12 18 30 18 29 18 30 18 21 18 0 18-15 18-9 18 13 18 13 18-18 18-57 18-100 18 94 18 213 18 35 18-80 18-69 18-34 18 0 18 6 18-7 18-18 18-13 18 9 18 30 18 32 18 20 18 7 18 2 18 1 18-6 18-19 18-31 18-29 18-11 18 13 18 23 18 21 18 11 18 4 18 8 18 1 18-14 18-25 18-26 18-15 18 8 18 27 18 23 18 5 18-1" fill="none" stroke="#A2142F" stroke-width="6" stroke-linejoin="round" stroke-linecap="round" transform="scale(.1)"/>
<path d="M1961 629l18-1 18-2 18 3 18 13 18 18 18 8 18-6 18 4 18 17 18 7 18-5 18-21 18-36 18-40 18-30 18 1 18 62 18 117 18 69 18-68 18-107 18-27 18 69 18 64 18 19 18-55 18-89 18-48 18 6 18 12 18 13 18 8 18 12 18 7 18-3 18-8 18 3 18 15 18 8 18-20 18-57 18-41 18 105 18 153 18-18 18-62 18-54 18-24 18-1 18 4 18-1 18-9 18-9 18 3 18 15 18 20 18 16 18 13 18 14 18 13 18 4 18-13 18-28 18-33 18-21 18-3 18 8 18 10 18 6 18 8 18 16 18 13 18 4 18-7 18-16 18-13 18 2 18 12 18 7 18-6 18-7" fill="none" stroke="#0072BD" stroke-width="6" stroke-linejoin="round" stroke-linecap="round" transform="scale(.1)"/>
<path d="M1961 693l18 4 18 10 18 17 18 14 18 5 18-12 18-24 18 14 18 54 18 26 18-16 18-48 18-60 18-61 18-59 18-23 18 90 18 228 18 202 18-93 18-210 18-133 18 117 18 145 18 79 18-86 18-197 18-154 18-20 18 29 18 59 18 42 18 28 18 6 18-8 18-3 18 20 18 36 18 3 18-61 18-112 18-128 18 206 18 344 18-15 18-154 18-113 18-29 18 25 18 28 18-11 18-27 18-7 18 22 18 23 18-2 18-19 18 1 18 46 18 61 18 28 18-28 18-62 18-47 18-4 18 18 18 1 18-28 18-25 18 9 18 54 18 43 18-1 18-33 18-30 18 3 18 34 18 26 18-17 18-49 18-23" fill="none" stroke="#D95319" stroke-width="6" stroke-linejoin="round" stroke-linecap="round" transform="scale(.1)"/>
<path d="M1961 670l18-9 18 1 18 23 18 32 18 18 18-24 18-57 18-25 18 31 18 39 18 20 18-18 18-54 18-70 18-56 18-2 18 109 18 212 18 148 18-116 18-200 18-86 18 116 18 117 18 39 18-101 18-171 18-101 18 13 18 34 18 39 18 26 18 28 18 20 18 2 18-8 18 5 18 22 18 0 18-58 18-122 18-117 18 182 18 312 18 10 18-103 18-102 18-52 18 2 18 37 18 39 18 5 18-32 18-43 18-23 18 7 18 26 18 26 18 17 18 7 18 8 18 16 18 13 18-4 18-24 18-34 18-25 18 0 18 21 18 21 18 5 18-30 18-42 18-19 18 17 18 41 18 42 18 19 18-15 18-28 18-4" fill="none" stroke="#EDB120" stroke-width="6" stroke-linejoin="round" stroke-linecap="round" transform="scale(.1)"/>
<path d="M1961 686l18 6 18 3 18 10 18 22 18 28 18 0 18-27 18 10 18 37 18 15 18-6 18-40 18-72 18-96 18-76 18 0 18 159 18 293 18 133 18-185 18-261 18 6 18 194 18 156 18 14 18-176 18-252 18-118 18 19 18 37 18 40 18 27 18 37 18 29 18 7 18-3 18 19 18 39 18 5 18-69 18-175 18-71 18 275 18 330 18-95 18-144 18-111 18-30 18 18 18 30 18 18 18-6 18-12 18 0 18 14 18 17 18 11 18 11 18 17 18 18 18 8 18-13 18-37 18-42 18-23 18 3 18 14 18 13 18 4 18 6 18 20 18 14 18 2 18-13 18-28 18-22 18 7 18 24 18 9 18-15 18-13" fill="none" stroke="#7E2F8E" stroke-width="6" stroke-linejoin="round" stroke-linecap="round" transform="scale(.1)"/>
<path d="M1961 727l18 27 18 1 18-10 18-6 18 4 18 1 18-20 18-13 18 33 18 37 18 12 18-20 18-52 18-66 18-71 18-31 18 58 18 180 18 220 18-11 18-166 18-181 18 62 18 118 18 78 18-35 18-134 18-144 18-43 18 5 18 26 18 32 18 39 18 31 18 6 18-11 18 4 18 36 18 33 18-28 18-98 18-177 18 74 18 292 18 120 18-100 18-98 18-61 18-3 18 22 18 19 18 2 18-7 18 0 18 9 18 5 18-6 18-10 18 5 18 19 18 14 18-3 18-19 18-14 18 7 18 23 18 11 18-18 18-34 18-19 18 21 18 39 18 16 18-21 18-44 18-35 18 2 18 36 18 32 18 0 18-11" fill="none" stroke="#77AC30" stroke-width="6" stroke-linejoin="round" stroke-linecap="round" transform="scale(.1)"/>
<path d="M1961 780l18 1 18-11 18-4 18 13 18 23 18 8 18-16 18-13 18 12 18 19 18 7 18-19 18-41 18-38 18-17 18 16 18 58 18 86 18 54 18-61 18-88 18-40 18 61 18 61 18 31 18-28 18-63 18-54 18-25 18-22 18-2 18 20 18 43 18 36 18 8 18-15 18-11 18 6 18 5 18-22 18-50 18-57 18 85 18 153 18 8 18-68 18-71 18-34 18 13 18 34 18 31 18 0 18-17 18-8 18 6 18 3 18-12 18-21 18-3 18 25 18 35 18 17 18-14 18-30 18-13 18 12 18 16 18-6 18-30 18-28 18 3 18 29 18 29 18 9 18-11 18-11 18 5 18 12 18-7 18-30 18-25" fill="none" stroke="#4DBEEE" stroke-width="6" stroke-linejoin="round" stroke-linecap="round" transform="scale(.1)"/>
<path d="M1961 666l18 0 18-2 18 0 18 9 18 14 18 11 18-4 18-13 18 14 18 31 18 11 18-13 18-33 18-42 18-43 18-31 18-2 18 70 18 140 18 78 18-82 18-125 18-4 18 94 18 81 18 17 18-82 18-136 18-79 18-7 18 17 18 33 18 29 18 27 18 15 18 2 18 2 18 13 18 18 18-7 18-45 18-89 18-41 18 139 18 174 18-51 18-76 18-52 18-3 18 20 18 17 18-2 18-9 18-2 18 9 18 7 18-3 18-10 18-2 18 11 18 14 18 3 18-10 18-12 18-1 18 13 18 12 18-3 18-18 18-18 18-5 18 11 18 7 18-3 18-5 18-2 18 7 18 14 18 8 18-8 18-15" fill="none" stroke="#A2142F" stroke-width="6" stroke-linejoin="round" stroke-linecap="round" transform="scale(.1)"/>
<path d="M1961 677l18 12 18 2 18 1 18 13 18 18 18 11 18-20 18-27 18 25 18 52 18 19 18-21 18-58 18-71 18-74 18-46 18 14 18 141 18 249 18 101 18-153 18-219 18 14 18 155 18 121 18 4 18-154 18-224 18-111 18 8 18 46 18 67 18 57 18 43 18 11 18-18 18-19 18 8 18 21 18-13 18-70 18-146 18-10 18 283 18 277 18-103 18-143 18-102 18-22 18 13 18 12 18-8 18-11 18 11 18 36 18 35 18 11 18-6 18-2 18 15 18 12 18-11 18-36 18-38 18-12 18 21 18 29 18 7 18-15 18-17 18 5 18 25 18 9 18-13 18-24 18-17 18 3 18 24 18 17 18-9 18-19" fill="none" stroke="#0072BD" stroke-width="6" stroke-linejoin="round" stroke-linecap="round" transform="scale(.1)"/>
<path d="M1961 789l18 16 18 1 18-2 18 4 18 7 18-6 18-29 18-11 18 26 18 29 18 12 18-16 18-43 18-48 18-37 18 0 18 71 18 142 18 106 18-87 18-146 18-77 18 91 18 98 18 50 18-50 18-107 18-78 18-10 18-3 18 6 18 12 18 25 18 19 18-3 18-16 18 1 18 29 18 28 18-16 18-68 18-98 18 121 18 226 18-2 18-102 18-93 18-44 18 8 18 24 18 27 18 3 18-10 18 1 18 16 18 18 18 5 18-3 18 4 18 15 18 9 18-13 18-38 18-39 18-12 18 21 18 31 18 15 18-5 18-8 18 10 18 15 18 2 18-20 18-31 18-17 18 14 18 32 18 15 18-16 18-21" fill="none" stroke="#D95319" stroke-width="6" stroke-linejoin="round" stroke-linecap="round" transform="scale(.1)"/>
<path d="M1961 633l18 4 18 2 18 7 18 14 18 17 18 7 18-16 18-17 18 13 18 19 18 3 18-15 18-32 18-38 18-41 18-19 18 34 18 112 18 149 18-3 18-114 18-132 18 48 18 94 18 62 18-23 18-97 18-110 18-32 18 11 18 20 18 18 18 16 18 17 18 8 18 1 18 6 18 20 18 16 18-20 18-58 18-114 18 45 18 197 18 96 18-75 18-70 18-42 18-3 18 14 18 6 18-5 18-8 18 1 18 10 18 9 18 0 18-3 18 8 18 19 18 19 18 3 18-15 18-25 18-20 18-4 18 2 18 1 18-1 18 4 18 16 18 17 18 2 18-14 18-20 18-15 18 2 18 19 18 17 18 0 18-9" fill="none" stroke="#EDB120" stroke-width="6" stroke-linejoin="round" stroke-linecap="round" transform="scale(.1)"/>
<path d="M1961 811l18 1 18-18 18-17 18-2 18 13 18 10 18-7 18 4 18 26 18 20 18 2 18-22 18-43 18-51 18-42 18-10 18 60 18 133 18 109 18-57 18-112 18-55 18 80 18 74 18 20 18-70 18-113 18-71 18 3 18 17 18 22 18 17 18 21 18 16 18 1 18-9 18 0 18 16 18 8 18-28 18-66 18-77 18 120 18 209 18 2 18-90 18-86 18-44 18 3 18 19 18 30 18 12 18-1 18 0 18 5 18 4 18-3 18-4 18 5 18 13 18 9 18-9 18-26 18-24 18-1 18 24 18 27 18 7 18-18 18-25 18-7 18 9 18 12 18 5 18-7 18-8 18 3 18 12 18 3 18-13 18-11" fill="none" stroke="#7E2F8E" stroke-width="6" stroke-linejoin="round" stroke-linecap="round" transform="scale(.1)"/>
<path d="M1961 653l18 7 18 0 18-2 18 2 18 3 18-11 18-13 18 14 18 23 18 12 18 0 18-21 18-41 18-58 18-41 18 16 18 107 18 162 18 21 18-108 18-133 18 49 18 106 18 66 18-28 18-114 18-128 18-38 18 18 18 27 18 21 18 19 18 23 18 17 18 3 18-4 18 6 18 10 18-14 18-49 18-109 18 26 18 192 18 123 18-65 18-71 18-52 18-15 18 4 18 8 18 5 18-3 18-3 18 4 18 11 18 11 18 8 18 7 18 8 18 6 18 1 18-9 18-19 18-22 18-11 18 2 18 10 18 9 18 4 18 6 18 8 18 2 18-4 18-11 18-19 18-10 18 9 18 20 18 12 18 0 18-3" fill="none" stroke="#77AC30" stroke-width="6" stroke-linejoin="round" stroke-linecap="round" transform="scale(.1)"/>
<path d="M1961 741l18-4 18-19 18-8 18 14 18 29 18 15 18-12 18-15 18 2 18 8 18 3 18-14 18-34 18-38 18-24 18 9 18 59 18 98 18 62 18-55 18-85 18-30 18 57 18 51 18 13 18-48 18-80 18-50 18-3 18 10 18 22 18 25 18 23 18 6 18-14 18-16 18 5 18 28 18 19 18-21 18-64 18-65 18 74 18 139 18 5 18-50 18-52 18-24 18 9 18 26 18 18 18-5 18-19 18-10 18 9 18 13 18 4 18-9 18-6 18 6 18 12 18 7 18-6 18-14 18-6 18 4 18 4 18-5 18-9 18 2 18 22 18 21 18-1 18-30 18-40 18-18 18 19 18 40 18 23 18-9 18-20" fill="none" stroke="#4DBEEE" stroke-width="6" stroke-linejoin="round" stroke-linecap="round" transform="scale(.1)"/>
<path d="M1961 684l18 6 18-3 18-1 18 8 18 16 18 12 18-11 18-10 18 30 18 31 18-1 18-30 18-56 18-61 18-63 18-26 18 48 18 161 18 223 18 15 18-159 18-198 18 54 18 129 18 87 18-28 18-136 18-159 18-45 18 25 18 37 18 29 18 18 18 13 18 2 18-6 18 5 18 31 18 32 18-13 18-69 18-156 18 45 18 264 18 143 18-111 18-102 18-60 18 0 18 21 18 11 18-8 18-14 18 1 18 19 18 21 18 12 18 3 18 6 18 10 18 2 18-14 18-27 18-24 18-4 18 19 18 22 18 7 18-8 18-14 18-2 18 5 18-6 18-13 18-12 18-2 18 16 18 31 18 20 18-8 18-22" fill="none" stroke="#A2142F" stroke-width="6" stroke-linejoin="round" stroke-linecap="round" transform="scale(.1)"/>
<path d="M1961 668l18 17 18 0 18-9 18-8 18 2 18 6 18 0 18 6 18 19 18 5 18-11 18-24 18-30 18-26 18-22 18-3 18 41 18 96 18 96 18-31 18-88 18-72 18 42 18 56 18 33 18-27 18-71 18-67 18-20 18-5 18 14 18 28 18 36 18 24 18-4 18-23 18-13 18 13 18 19 18-9 18-47 18-82 18 65 18 158 18 30 18-57 18-59 18-35 18 0 18 19 18 29 18 10 18-10 18-21 18-18 18-7 18 6 18 17 18 25 18 23 18 9 18-10 18-22 18-20 18-9 18 1 18 2 18-4 18-1 18 9 18 22 18 13 18-11 18-29 18-26 18-1 18 28 18 37 18 12 18-20 18-28" fill="none" stroke="#0072BD" stroke-width="6" stroke-linejoin="round" stroke-linecap="round" transform="scale(.1)"/>
<path d="M1961 739l18-1 18-4 18 1 18 14 18 14 18-2 18-3 18 12 18 10 18 7 18-5 18-28 18-49 18-55 18-25 18 48 18 124 18 115 18-36 18-98 18-65 18 66 18 70 18 22 18-60 18-99 18-64 18 4 18 11 18 5 18 0 18 19 18 37 18 31 18 8 18-9 18-9 18-12 18-27 18-48 18-73 18 88 18 176 18 21 18-64 18-63 18-36 18 1 18 24 18 35 18 8 18-24 18-36 18-22 18 5 18 23 18 27 18 22 18 14 18 9 18 0 18-16 18-31 18-31 18-10 18 12 18 19 18 8 18-9 18-8 18 3 18 17 18 21 18 8 18-13 18-18 18-9 18-5 18-9 18-9 18 3" fill="none" stroke="#D95319" stroke-width="6" stroke-linejoin="round" stroke-linecap="round" transform="scale(.1)"/>
<path d="M1961 697l18-1 18-7 18 0 18 16 18 24 18 14 18-9 18-2 18 25 18 18 18-10 18-43 18-63 18-54 18-25 18 20 18 77 18 127 18 107 18-57 18-117 18-79 18 73 18 83 18 37 18-53 18-108 18-90 18-18 18 8 18 24 18 30 18 38 18 27 18 4 18-14 18-10 18 8 18 5 18-26 18-55 18-82 18 99 18 199 18 23 18-97 18-89 18-36 18 23 18 53 18 38 18-6 18-36 18-29 18-5 18 10 18 8 18 5 18 11 18 23 18 21 18 0 18-26 18-36 18-19 18 9 18 22 18 13 18-1 18-7 18 2 18 3 18-10 18-19 18-15 18 7 18 33 18 36 18 4 18-35 18-41" fill="none" stroke="#EDB120" stroke-width="6" stroke-linejoin="round" stroke-linecap="round" transform="scale(.1)"/>
<path d="M1961 706l18 6 18-6 18-6 18 0 18 5 18-9 18-17 18 16 18 38 18 21 18-8 18-43 18-63 18-61 18-26 18 29 18 114 18 176 18 66 18-128 18-167 18-5 18 107 18 84 18 10 18-87 18-124 18-52 18 6 18-1 18 0 18 12 18 39 18 39 18 14 18-9 18-4 18 9 18-2 18-42 18-105 18-41 18 175 18 215 18-44 18-84 18-77 18-35 18-3 18 6 18 16 18 10 18 9 18 12 18 10 18-2 18-12 18-7 18 10 18 25 18 20 18-3 18-27 18-30 18-11 18 10 18 8 18-8 18-17 18-2 18 30 18 36 18 17 18-19 18-44 18-35 18 5 18 31 18 19 18-8 18-13" fill="none" stroke="#7E2F8E" stroke-width="6" stroke-linejoin="round" stroke-linecap="round" transform="scale(.1)"/>
<path d="M1961 690l12 4 12 3 12 4 12 6 12 6 12 5 12 7 12 5 12 0 12-8 12-9 12 1 12 10 12 9 12 2 12-3 12-6 12-10 12-13 12-17 12-22 12-29 12-22 12-13 12 21 12 55 12 101 12 92 12 32 12-55 12-72 12-99 12-31 12 51 12 63 12 62 12 38 12-3 12-54 12-76 12-90 12-54 12-8 12 14 12 17 12 23 12 16 12 7 12 7 12 6 12 6 12 5 12 2 12 2 12 5 12 9 12 12 12 7 12-5 12-20 12-33 12-66 12-57 12 51 12 95 12 145 12 27 12-43 12-46 12-38 12-28 12-12 12-2 12 1 12 2 12 0 12 1 12 1 12 2 12 4 12 4 12 5 12 3 12 2 12 1 12 2 12 3 12 5 12 5 12 3 12 1 12-1 12-3 12-3 12-3 12-4 12-5 12-4 12-5 12-5 12-4 12-2 12 2 12 4 12 6 12 8 12 7 12 1 12-3 12-4 12-4 12-4 12-6 12-5 12-2 12 3 12 7 12 8 12 5 12 3 12 1" fill="none" stroke="#ff0000" stroke-width="24" stroke-linejoin="round" stroke-linecap="round" transform="scale(.1)"/>
</g>
<rect x="200.7" y="144.3" width="160.3" height="71.2" fill="none" stroke="#8a8a8a" stroke-width="1.1"/>
<line x1="200.7" y1="215.5" x2="200.7" y2="213.5" stroke="#8a8a8a" stroke-width="0.9"/>
<line x1="200.7" y1="144.3" x2="200.7" y2="146.3" stroke="#8a8a8a" stroke-width="0.9"/>
<text x="200.7" y="227.1" font-family="Liberation Sans" font-size="6.2" text-anchor="middle" font-weight="normal" fill="#262626" stroke="#262626" stroke-width="0.12">0</text>
<line x1="232.8" y1="215.5" x2="232.8" y2="213.5" stroke="#8a8a8a" stroke-width="0.9"/>
<line x1="232.8" y1="144.3" x2="232.8" y2="146.3" stroke="#8a8a8a" stroke-width="0.9"/>
<text x="232.8" y="227.1" font-family="Liberation Sans" font-size="6.2" text-anchor="middle" font-weight="normal" fill="#262626" stroke="#262626" stroke-width="0.12">200</text>
<line x1="264.8" y1="215.5" x2="264.8" y2="213.5" stroke="#8a8a8a" stroke-width="0.9"/>
<line x1="264.8" y1="144.3" x2="264.8" y2="146.3" stroke="#8a8a8a" stroke-width="0.9"/>
<text x="264.8" y="227.1" font-family="Liberation Sans" font-size="6.2" text-anchor="middle" font-weight="normal" fill="#262626" stroke="#262626" stroke-width="0.12">400</text>
<line x1="296.9" y1="215.5" x2="296.9" y2="213.5" stroke="#8a8a8a" stroke-width="0.9"/>
<line x1="296.9" y1="144.3" x2="296.9" y2="146.3" stroke="#8a8a8a" stroke-width="0.9"/>
<text x="296.9" y="227.1" font-family="Liberation Sans" font-size="6.2" text-anchor="middle" font-weight="normal" fill="#262626" stroke="#262626" stroke-width="0.12">600</text>
<line x1="328.9" y1="215.5" x2="328.9" y2="213.5" stroke="#8a8a8a" stroke-width="0.9"/>
<line x1="328.9" y1="144.3" x2="328.9" y2="146.3" stroke="#8a8a8a" stroke-width="0.9"/>
<text x="328.9" y="227.1" font-family="Liberation Sans" font-size="6.2" text-anchor="middle" font-weight="normal" fill="#262626" stroke="#262626" stroke-width="0.12">800</text>
<line x1="361" y1="215.5" x2="361" y2="213.5" stroke="#8a8a8a" stroke-width="0.9"/>
<line x1="361" y1="144.3" x2="361" y2="146.3" stroke="#8a8a8a" stroke-width="0.9"/>
<text x="361" y="227.1" font-family="Liberation Sans" font-size="6.2" text-anchor="middle" font-weight="normal" fill="#262626" stroke="#262626" stroke-width="0.12">1000</text>
<line x1="200.7" y1="144.8" x2="202.7" y2="144.8" stroke="#8a8a8a" stroke-width="0.9"/>
<line x1="361" y1="144.8" x2="359" y2="144.8" stroke="#8a8a8a" stroke-width="0.9"/>
<text x="198.5" y="147" font-family="Liberation Sans" font-size="6.2" text-anchor="end" font-weight="normal" fill="#262626" stroke="#262626" stroke-width="0.12">5</text>
<line x1="200.7" y1="179.9" x2="202.7" y2="179.9" stroke="#8a8a8a" stroke-width="0.9"/>
<line x1="361" y1="179.9" x2="359" y2="179.9" stroke="#8a8a8a" stroke-width="0.9"/>
<text x="198.5" y="182.1" font-family="Liberation Sans" font-size="6.2" text-anchor="end" font-weight="normal" fill="#262626" stroke="#262626" stroke-width="0.12">0</text>
<line x1="200.7" y1="215" x2="202.7" y2="215" stroke="#8a8a8a" stroke-width="0.9"/>
<line x1="361" y1="215" x2="359" y2="215" stroke="#8a8a8a" stroke-width="0.9"/>
<text x="198.5" y="217.2" font-family="Liberation Sans" font-size="6.2" text-anchor="end" font-weight="normal" fill="#262626" stroke="#262626" stroke-width="0.12">-5</text>
<text x="282.5" y="139.8" font-family="Liberation Sans" font-size="6.9" text-anchor="middle" font-weight="bold" fill="#111" stroke="#111" stroke-width="0.15">Y axis</text>
<text x="280.5" y="237.5" font-family="Liberation Sans" font-size="6.9" text-anchor="middle" font-weight="normal" fill="#262626" stroke="#262626" stroke-width="0.12">time (ms)</text>
<text x="190.3" y="176.8" font-family="Liberation Sans" font-size="6.9" text-anchor="middle" font-weight="normal" fill="#262626" transform="rotate(-90 190.3 176.8)" stroke="#262626" stroke-width="0.12">angular Velocity (°/s)</text>
<clipPath id="cby"><rect x="200.7" y="144.3" width="160.3" height="71.2"/></clipPath>
<g clip-path="url(#cby)">
<path d="M2008 1823l18 7 18 5 18 1 18-3 18-4 18-1 18-4 18-10 18-13 18-4 18 12 18 22 18 35 18 59 18 30 18-260 18-146 18 5 18 241 18 275 18 81 18-136 18-136 18-58 18-40 18-29 18-52 18 6 18 44 18 33 18 18 18-2 18-2 18 10 18 14 18 16 18 23 18 33 18 10 18-52 18-101 18-3 18 27 18 29 18-33 18-11 18 10 18 37 18 54 18 20 18-25 18-13 18 2 18 12 18-1 18-10 18-9 18-6 18-4 18-3 18-2 18-1 18 0 18 0 18 1 18 0 18-2 18 0 18 3 18 6 18 11 18 12 18 1 18-16 18-22 18-11 18-31 18 14 18 37" fill="none" stroke="#0072BD" stroke-width="7" stroke-linejoin="round" stroke-linecap="round" transform="scale(.1)"/>
<path d="M2008 1793l18 7 18 9 18 4 18-3 18-6 18-4 18-2 18-3 18-6 18-4 18 5 18 14 18 22 18 39 18 65 18-161 18-178 18-55 18 146 18 257 18 140 18-68 18-130 18-54 18-39 18-32 18-46 18-31 18 34 18 34 18 29 18 10 18-2 18 4 18 7 18 8 18 17 18 29 18 24 18-22 18-92 18-22 18 9 18 39 18-25 18-21 18 2 18 23 18 49 18 40 18-8 18-11 18-5 18 3 18-7 18-16 18-12 18-2 18 6 18 7 18 5 18-1 18-6 18-7 18-5 18-2 18 0 18 1 18 2 18 6 18 8 18 14 18 8 18-8 18-20 18-16 18-35 18 1 18 30" fill="none" stroke="#D95319" stroke-width="7" stroke-linejoin="round" stroke-linecap="round" transform="scale(.1)"/>
<path d="M2008 1819l18-2 18-3 18-3 18-1 18 5 18 9 18 4 18-8 18-13 18-5 18 6 18 18 18 34 18 70 18-62 18-242 18-94 18 86 18 273 18 210 18-2 18-154 18-95 18-47 18-32 18-31 18-49 18 23 18 36 18 27 18 13 18 0 18 6 18 15 18 13 18 15 18 22 18 26 18-9 18-77 18-62 18 8 18 42 18-2 18-31 18-1 18 19 18 47 18 49 18 0 18-27 18-16 18 2 18 8 18 0 18-3 18-1 18-1 18-6 18-7 18-8 18-3 18 2 18 5 18 4 18 0 18-6 18-8 18-3 18 6 18 17 18 20 18 8 18-12 18-19 18-14 18-31 18-6 18 24" fill="none" stroke="#EDB120" stroke-width="7" stroke-linejoin="round" stroke-linecap="round" transform="scale(.1)"/>
<path d="M2008 1752l18 3 18 7 18 6 18 3 18 3 18 4 18 1 18-5 18-12 18-8 18-1 18 9 18 24 18 54 18 7 18-206 18-107 18 25 18 209 18 214 18 48 18-117 18-103 18-44 18-29 18-22 18-43 18 3 18 25 18 15 18 8 18 2 18 9 18 21 18 20 18 18 18 19 18 24 18-1 18-54 18-80 18-4 18 25 18 19 18-23 18-6 18 8 18 29 18 41 18 15 18-14 18-4 18 5 18 7 18-4 18-11 18-8 18-5 18-5 18-6 18-4 18 1 18 4 18 4 18 2 18-1 18-5 18-3 18 1 18 6 18 10 18 11 18 3 18-9 18-10 18-6 18-2 18-16 18-4" fill="none" stroke="#7E2F8E" stroke-width="7" stroke-linejoin="round" stroke-linecap="round" transform="scale(.1)"/>
<path d="M2008 1781l18 0 18-2 18-4 18-6 18-3 18 0 18 0 18-5 18-6 18 2 18 12 18 19 18 28 18 48 18-2 18-196 18-101 18 21 18 188 18 188 18 37 18-110 18-93 18-37 18-22 18-15 18-31 18 14 18 32 18 19 18 5 18-10 18-7 18 6 18 12 18 16 18 22 18 27 18 5 18-46 18-67 18 0 18 25 18 14 18-24 18-7 18 7 18 29 18 38 18 11 18-17 18-7 18 5 18 8 18-3 18-11 18-11 18-7 18-4 18 0 18 3 18 6 18 5 18 4 18 1 18-2 18-6 18-6 18-3 18 0 18 5 18 8 18 2 18-9 18-9 18-1 18 8 18 23 18 30" fill="none" stroke="#77AC30" stroke-width="7" stroke-linejoin="round" stroke-linecap="round" transform="scale(.1)"/>
<path d="M2008 1793l18 3 18-1 18-7 18-6 18 0 18 9 18 9 18 1 18-8 18-7 18 3 18 12 18 22 18 39 18 28 18-198 18-129 18-3 18 189 18 234 18 82 18-103 18-118 18-48 18-28 18-20 18-40 18-10 18 24 18 19 18 15 18 5 18 5 18 14 18 15 18 15 18 21 18 27 18 9 18-43 18-92 18-14 18 17 18 33 18-18 18-6 18 8 18 24 18 42 18 21 18-14 18-10 18-3 18 3 18-6 18-9 18-2 18 4 18 1 18-4 18-8 18-6 18-1 18 5 18 5 18 1 18-4 18-5 18-1 18 6 18 11 18 12 18 1 18-14 18-15 18-4 18 10 18 17 18 8" fill="none" stroke="#4DBEEE" stroke-width="7" stroke-linejoin="round" stroke-linecap="round" transform="scale(.1)"/>
<path d="M2008 1822l18-7 18-9 18-5 18 3 18 12 18 11 18 1 18-13 18-16 18-3 18 12 18 21 18 30 18 55 18-53 18-221 18-87 18 75 18 246 18 194 18 2 18-138 18-88 18-36 18-24 18-29 18-52 18 9 18 29 18 29 18 19 18 5 18 3 18 7 18 8 18 17 18 30 18 33 18-6 18-75 18-73 18-3 18 38 18 11 18-19 18 0 18 11 18 33 18 42 18 6 18-14 18-8 18 2 18 2 18-8 18-6 18-1 18-1 18-5 18-9 18-8 18 0 18 7 18 11 18 6 18-3 18-11 18-9 18 1 18 10 18 17 18 11 18-6 18-20 18-17 18-2 18 1 18 28 18 24" fill="none" stroke="#A2142F" stroke-width="7" stroke-linejoin="round" stroke-linecap="round" transform="scale(.1)"/>
<path d="M2008 1810l18-3 18 0 18 1 18 1 18 2 18 2 18 0 18-6 18-12 18-7 18 6 18 17 18 24 18 35 18 63 18-134 18-211 18-66 18 137 18 279 18 171 18-52 18-152 18-77 18-42 18-29 18-37 18-36 18 32 18 36 18 27 18 9 18-3 18 2 18 10 18 12 18 19 18 32 18 29 18-20 18-94 18-44 18 7 18 43 18-12 18-20 18 4 18 21 18 46 18 40 18-10 18-18 18-8 18 6 18 3 18-6 18-5 18-1 18-1 18-5 18-8 18-8 18-4 18 3 18 7 18 8 18 2 18-4 18-7 18-3 18 4 18 13 18 12 18-1 18-14 18-11 18-5 18-3 18 6" fill="none" stroke="#0072BD" stroke-width="7" stroke-linejoin="round" stroke-linecap="round" transform="scale(.1)"/>
<path d="M2008 1793l18 7 18 4 18-2 18-6 18-4 18 0 18 0 18-7 18-8 18 0 18 8 18 16 18 30 18 67 18-65 18-232 18-84 18 94 18 271 18 199 18-12 18-156 18-94 18-46 18-31 18-30 18-48 18 24 18 36 18 28 18 14 18 1 18 7 18 16 18 14 18 15 18 23 18 25 18-13 18-81 18-63 18 5 18 41 18-1 18-26 18 2 18 20 18 46 18 48 18 0 18-22 18-10 18 5 18 6 18-8 18-13 18-10 18-6 18-2 18 0 18 2 18 3 18 2 18 2 18 1 18 0 18-2 18-1 18 0 18 3 18 7 18 7 18-3 18-15 18-11 18-2 18-4 18 13 18 22" fill="none" stroke="#D95319" stroke-width="7" stroke-linejoin="round" stroke-linecap="round" transform="scale(.1)"/>
<path d="M2008 1769l18 6 18 9 18 4 18-3 18-3 18-1 18 1 18-6 18-12 18-8 18 5 18 17 18 28 18 45 18 60 18-193 18-183 18-41 18 181 18 282 18 135 18-94 18-147 18-62 18-39 18-27 18-44 18-22 18 36 18 30 18 21 18 3 18-1 18 11 18 19 18 19 18 21 18 27 18 14 18-39 18-104 18-19 18 19 18 44 18-25 18-19 18 6 18 28 18 51 18 35 18-16 18-15 18-3 18 8 18-1 18-13 18-13 18-6 18-1 18 3 18 3 18 0 18-1 18-3 18-2 18 0 18 0 18 1 18 2 18 3 18 5 18 8 18 1 18-11 18-15 18-6 18 0 18 23 18 27" fill="none" stroke="#EDB120" stroke-width="7" stroke-linejoin="round" stroke-linecap="round" transform="scale(.1)"/>
<path d="M2008 1805l18 1 18 0 18-3 18-5 18-2 18 4 18 3 18-4 18-10 18-6 18 8 18 18 18 31 18 58 18 44 18-253 18-170 18-12 18 236 18 295 18 105 18-131 18-147 18-60 18-39 18-29 18-53 18-7 18 41 18 30 18 19 18 1 18 1 18 15 18 19 18 18 18 23 18 31 18 10 18-51 18-109 18-9 18 26 18 36 18-33 18-14 18 10 18 39 18 59 18 28 18-24 18-17 18-3 18 7 18-3 18-10 18-9 18-2 18-1 18 0 18-3 18-3 18-2 18-1 18 3 18 3 18 2 18 0 18-2 18 0 18 4 18 8 18 4 18-9 18-13 18-3 18 7 18 8 18 15" fill="none" stroke="#7E2F8E" stroke-width="7" stroke-linejoin="round" stroke-linecap="round" transform="scale(.1)"/>
<path d="M2008 1818l18 3 18 1 18-4 18-8 18-4 18 3 18 5 18-1 18-5 18 0 18 8 18 15 18 28 18 62 18-2 18-280 18-140 18 40 18 285 18 286 18 61 18-161 18-141 18-63 18-42 18-31 18-55 18 12 18 43 18 33 18 18 18 1 18 4 18 16 18 17 18 17 18 23 18 30 18-2 18-70 18-98 18 5 18 44 18 29 18-33 18-12 18 7 18 36 18 52 18 14 18-25 18-10 18 9 18 17 18 1 18-10 18-13 18-11 18-8 18-5 18-2 18 0 18 1 18 3 18 3 18 3 18 0 18-2 18-2 18 1 18 9 18 12 18 4 18-13 18-15 18-7 18-3 18 8 18 20" fill="none" stroke="#77AC30" stroke-width="7" stroke-linejoin="round" stroke-linecap="round" transform="scale(.1)"/>
<path d="M2008 1763l18 2 18 2 18-1 18-4 18-2 18 0 18-1 18-7 18-6 18 2 18 14 18 21 18 31 18 54 18-31 18-219 18-103 18 45 18 225 18 202 18 29 18-122 18-92 18-44 18-32 18-28 18-42 18 16 18 36 18 28 18 14 18-3 18-2 18 5 18 7 18 11 18 21 18 29 18 3 18-54 18-63 18 4 18 30 18 6 18-29 18-5 18 13 18 37 18 43 18 5 18-23 18-14 18 1 18 7 18 0 18-3 18 0 18 1 18 0 18-3 18-5 18-6 18-4 18-3 18 0 18 0 18-1 18-1 18 2 18 5 18 11 18 13 18 4 18-10 18-12 18-7 18-7 18-5 18 11" fill="none" stroke="#4DBEEE" stroke-width="7" stroke-linejoin="round" stroke-linecap="round" transform="scale(.1)"/>
<path d="M2008 1783l18 5 18 7 18 2 18-3 18-4 18-1 18 1 18-3 18-5 18 0 18 6 18 12 18 24 18 55 18 13 18-249 18-128 18 26 18 246 18 258 18 61 18-140 18-124 18-52 18-37 18-31 18-55 18 5 18 40 18 32 18 18 18-1 18 1 18 14 18 18 18 20 18 26 18 28 18-2 18-65 18-99 18 0 18 37 18 33 18-27 18-9 18 7 18 32 18 50 18 18 18-22 18-11 18 0 18 7 18-5 18-8 18-3 18 1 18 0 18-5 18-8 18-7 18-2 18 2 18 6 18 4 18-1 18-4 18-2 18 3 18 11 18 15 18 3 18-14 18-18 18-10 18-13 18 15 18 31" fill="none" stroke="#A2142F" stroke-width="7" stroke-linejoin="round" stroke-linecap="round" transform="scale(.1)"/>
<path d="M2008 1801l18 4 18 4 18 1 18-4 18-3 18 1 18 2 18-3 18-9 18-5 18 5 18 13 18 24 18 42 18 56 18-184 18-170 18-37 18 171 18 264 18 124 18-91 18-137 18-56 18-34 18-23 18-38 18-20 18 32 18 24 18 15 18 0 18-2 18 13 18 20 18 19 18 21 18 27 18 14 18-37 18-98 18-19 18 17 18 41 18-22 18-15 18 6 18 26 18 47 18 28 18-20 18-16 18-5 18 10 18 4 18-5 18-4 18-2 18-1 18-2 18-5 18-7 18-6 18-5 18-2 18 2 18 3 18 4 18 6 18 7 18 9 18 11 18 3 18-12 18-19 18-14 18-27 18 1 18 18" fill="none" stroke="#0072BD" stroke-width="7" stroke-linejoin="round" stroke-linecap="round" transform="scale(.1)"/>
<path d="M2008 1788l18-6 18-9 18-7 18 0 18 10 18 13 18 5 18-4 18-5 18 2 18 9 18 22 18 44 18 45 18-215 18-162 18-21 18 200 18 271 18 111 18-106 18-134 18-56 18-37 18-27 18-45 18-11 18 38 18 29 18 16 18-3 18-5 18 7 18 15 18 18 18 25 18 34 18 17 18-40 18-100 18-14 18 19 18 37 18-26 18-12 18 8 18 28 18 46 18 21 18-26 18-17 18 0 18 15 18 6 18-2 18-4 18-2 18-1 18-3 18-4 18-6 18-7 18-8 18-6 18-3 18 0 18 3 18 9 18 12 18 14 18 14 18 4 18-13 18-19 18-12 18-3 18-3 18 14 18 8" fill="none" stroke="#D95319" stroke-width="7" stroke-linejoin="round" stroke-linecap="round" transform="scale(.1)"/>
<path d="M2008 1786l18-2 18 5 18 10 18 5 18 2 18 1 18 3 18 2 18-5 18-7 18-5 18 2 18 21 18 54 18 43 18-233 18-149 18-4 18 229 18 279 18 96 18-128 18-145 18-62 18-36 18-22 18-47 18-9 18 31 18 27 18 23 18 7 18 3 18 10 18 14 18 20 18 28 18 32 18 4 18-57 18-105 18-4 18 32 18 36 18-35 18-18 18 7 18 40 18 58 18 25 18-28 18-17 18 1 18 17 18 3 18-14 18-16 18-10 18 0 18 4 18 0 18-6 18-6 18 0 18 8 18 10 18 1 18-7 18-6 18 2 18 11 18 13 18 0 18-17 18-19 18-2 18 10 18 21 18 10" fill="none" stroke="#EDB120" stroke-width="7" stroke-linejoin="round" stroke-linecap="round" transform="scale(.1)"/>
<path d="M2008 1799l18-5 18 0 18 3 18 1 18-1 18-4 18-3 18-2 18 0 18 4 18 6 18 8 18 23 18 61 18-40 18-211 18-92 18 62 18 235 18 195 18 13 18-132 18-93 18-48 18-28 18-20 18-35 18 18 18 24 18 16 18 9 18 4 18 10 18 14 18 9 18 12 18 24 18 30 18-6 18-72 18-68 18 3 18 43 18 12 18-24 18-8 18 5 18 34 18 47 18 9 18-18 18-13 18 0 18 9 18 3 18-3 18-7 18-11 18-9 18-2 18 3 18 2 18-3 18-7 18-1 18 7 18 9 18 5 18-2 18-5 18 3 18 11 18 4 18-11 18-18 18-10 18-25 18 29 18 44" fill="none" stroke="#7E2F8E" stroke-width="7" stroke-linejoin="round" stroke-linecap="round" transform="scale(.1)"/>
<path d="M2008 1791l18 2 18 4 18 2 18 0 18 2 18 9 18 8 18 1 18-9 18-8 18 2 18 9 18 22 18 47 18 48 18-238 18-177 18-19 18 228 18 306 18 126 18-118 18-152 18-64 18-42 18-32 18-54 18-17 18 35 18 27 18 17 18 2 18 3 18 20 18 26 18 24 18 26 18 31 18 11 18-51 18-115 18-17 18 21 18 40 18-30 18-16 18 9 18 35 18 58 18 33 18-21 18-14 18-1 18 11 18-1 18-11 18-12 18-7 18-5 18-3 18-4 18-2 18 0 18 1 18 4 18 5 18 3 18 0 18 1 18 1 18 3 18 8 18 2 18-12 18-17 18-7 18-13 18 11 18 24" fill="none" stroke="#77AC30" stroke-width="7" stroke-linejoin="round" stroke-linecap="round" transform="scale(.1)"/>
<path d="M2008 1793l18 5 18-1 18-6 18-6 18 1 18 7 18 4 18-4 18-7 18-1 18 5 18 14 18 33 18 70 18-132 18-215 18-66 18 144 18 294 18 180 18-56 18-162 18-82 18-44 18-31 18-37 18-39 18 31 18 32 18 25 18 10 18 1 18 11 18 18 18 15 18 15 18 25 18 23 18-23 18-94 18-38 18 14 18 46 18-17 18-29 18-1 18 22 18 51 18 45 18-9 18-20 18-8 18 7 18 6 18-5 18-6 18-4 18-2 18-5 18-6 18-5 18-3 18-1 18 2 18 2 18 0 18-3 18-2 18 2 18 9 18 16 18 14 18-1 18-16 18-16 18-10 18-22 18 2 18 22" fill="none" stroke="#4DBEEE" stroke-width="7" stroke-linejoin="round" stroke-linecap="round" transform="scale(.1)"/>
<path d="M2008 1836l18 4 18 2 18-2 18-6 18-5 18-2 18 0 18-4 18-5 18 1 18 9 18 15 18 24 18 48 18-17 18-186 18-90 18 36 18 192 18 177 18 26 18-110 18-84 18-36 18-23 18-18 18-34 18 11 18 26 18 16 18 6 18-5 18 3 18 13 18 14 18 15 18 20 18 22 18-1 18-51 18-62 18 1 18 25 18 10 18-23 18-4 18 10 18 31 18 38 18 8 18-17 18-8 18 1 18 6 18-4 18-6 18-3 18-1 18-1 18-2 18-5 18-4 18-3 18 0 18 1 18 2 18 1 18 2 18 4 18 5 18 7 18 6 18-4 18-13 18-13 18-4 18-13 18 11 18 22" fill="none" stroke="#A2142F" stroke-width="7" stroke-linejoin="round" stroke-linecap="round" transform="scale(.1)"/>
<path d="M2008 1809l18-3 18-2 18-3 18-1 18 3 18 9 18 7 18-1 18-10 18-8 18-1 18 9 18 22 18 49 18 36 18-204 18-122 18 2 18 194 18 227 18 66 18-118 18-120 18-44 18-24 18-12 18-34 18 3 18 32 18 17 18 4 18-10 18-4 18 12 18 21 18 23 18 27 18 29 18 7 18-49 18-94 18-11 18 20 18 30 18-22 18-3 18 15 18 33 18 44 18 15 18-28 18-19 18-5 18 7 18 2 18-2 18-1 18 2 18 2 18-2 18-4 18-6 18-5 18-4 18 1 18 1 18 1 18 0 18 0 18 1 18 5 18 9 18 5 18-5 18-8 18-1 18 21 18-3 18-1" fill="none" stroke="#0072BD" stroke-width="7" stroke-linejoin="round" stroke-linecap="round" transform="scale(.1)"/>
<path d="M2008 1829l18 8 18 7 18-1 18-8 18-9 18-2 18 3 18 1 18-3 18-2 18 6 18 11 18 20 18 37 18 62 18-188 18-187 18-45 18 178 18 288 18 146 18-88 18-149 18-64 18-42 18-30 18-46 18-29 18 34 18 30 18 25 18 10 18 6 18 16 18 18 18 12 18 12 18 19 18 12 18-36 18-101 18-16 18 24 18 53 18-19 18-18 18 3 18 22 18 44 18 29 18-23 18-20 18-5 18 13 18 9 18-2 18-3 18-2 18-4 18-5 18-7 18-6 18-3 18 0 18 3 18 2 18 0 18-2 18-3 18-1 18 5 18 13 18 11 18-2 18-11 18-6 18 15 18-4 18 3" fill="none" stroke="#D95319" stroke-width="7" stroke-linejoin="round" stroke-linecap="round" transform="scale(.1)"/>
<path d="M2008 1813l18 1 18-1 18-5 18-8 18-5 18-1 18 1 18-1 18 0 18 6 18 12 18 14 18 19 18 40 18 3 18-215 18-109 18 27 18 214 18 220 18 48 18-124 18-109 18-42 18-26 18-20 18-43 18 4 18 31 18 24 18 12 18-3 18-2 18 9 18 15 18 20 18 27 18 31 18 4 18-55 18-89 18-8 18 25 18 25 18-21 18-2 18 11 18 30 18 40 18 12 18-21 18-9 18 4 18 10 18-3 18-9 18-7 18-3 18-3 18-4 18-6 18-6 18 0 18 6 18 10 18 9 18 2 18-6 18-10 18-6 18 3 18 12 18 7 18-6 18-12 18-6 18-9 18 10 18 27" fill="none" stroke="#EDB120" stroke-width="7" stroke-linejoin="round" stroke-linecap="round" transform="scale(.1)"/>
<path d="M2008 1780l18 5 18 4 18-2 18-11 18-13 18-4 18 4 18 5 18 2 18 2 18 6 18 11 18 25 18 55 18 37 18-257 18-159 18-7 18 239 18 291 18 102 18-125 18-140 18-64 18-47 18-32 18-53 18 0 18 37 18 24 18 13 18 2 18 12 18 30 18 27 18 17 18 12 18 19 18 0 18-54 18-104 18-5 18 26 18 35 18-25 18-1 18 19 18 38 18 47 18 10 18-34 18-16 18 4 18 16 18 1 18-12 18-9 18 1 18 4 18 3 18-5 18-12 18-12 18-5 18 5 18 9 18 6 18 0 18-1 18 2 18 10 18 15 18 4 18-18 18-24 18-13 18-27 18 30 18 42" fill="none" stroke="#7E2F8E" stroke-width="7" stroke-linejoin="round" stroke-linecap="round" transform="scale(.1)"/>
<path d="M2008 1779l18 5 18 1 18-4 18-6 18-3 18 3 18 3 18-5 18-13 18-11 18 1 18 14 18 28 18 45 18 60 18-165 18-163 18-43 18 153 18 246 18 121 18-79 18-129 18-57 18-38 18-25 18-37 18-16 18 36 18 29 18 19 18 2 18-3 18 8 18 14 18 14 18 18 18 25 18 14 18-34 18-93 18-20 18 15 18 43 18-13 18-9 18 9 18 21 18 36 18 20 18-24 18-15 18 0 18 15 18 7 18-5 18-8 18-6 18-2 18 0 18 1 18-2 18-5 18-7 18-7 18-3 18 3 18 7 18 10 18 9 18 7 18 6 18-2 18-13 18-17 18-9 18-16 18 10 18 18" fill="none" stroke="#77AC30" stroke-width="7" stroke-linejoin="round" stroke-linecap="round" transform="scale(.1)"/>
<path d="M2008 1809l18 4 18 5 18 0 18-5 18-6 18-2 18 1 18-2 18-8 18-4 18 8 18 16 18 26 18 41 18 70 18-180 18-205 18-61 18 165 18 295 18 161 18-80 18-154 18-66 18-40 18-27 18-41 18-32 18 34 18 28 18 20 18 3 18-1 18 14 18 21 18 20 18 21 18 28 18 18 18-35 18-108 18-28 18 14 18 50 18-19 18-19 18 6 18 26 18 51 18 37 18-19 18-20 18-8 18 9 18 4 18-6 18-7 18-2 18-1 18-1 18-3 18-5 18-6 18-3 18-1 18 2 18 3 18 2 18 3 18 4 18 5 18 8 18 4 18-9 18-16 18-8 18-4 18 13 18 21" fill="none" stroke="#4DBEEE" stroke-width="7" stroke-linejoin="round" stroke-linecap="round" transform="scale(.1)"/>
<path d="M2008 1773l18 5 18 5 18 0 18-4 18-2 18 1 18 1 18-2 18-2 18 3 18 7 18 11 18 21 18 54 18-57 18-213 18-79 18 81 18 247 18 188 18-4 18-142 18-90 18-40 18-24 18-20 18-38 18 20 18 26 18 15 18 3 18-5 18 7 18 22 18 21 18 19 18 21 18 20 18-13 18-72 18-58 18 8 18 41 18 3 18-27 18-3 18 13 18 35 18 39 18-2 18-21 18-5 18 13 18 16 18 0 18-11 18-14 18-13 18-7 18 0 18 6 18 7 18 2 18-4 18-8 18-9 18-4 18 4 18 10 18 14 18 14 18 9 18-6 18-19 18-17 18-6 18-16 18 13 18 25" fill="none" stroke="#A2142F" stroke-width="7" stroke-linejoin="round" stroke-linecap="round" transform="scale(.1)"/>
<path d="M2008 1815l18 3 18-1 18-5 18-4 18 0 18 3 18-1 18-7 18-6 18 3 18 10 18 20 18 34 18 61 18-143 18-175 18-51 18 139 18 253 18 140 18-65 18-137 18-63 18-38 18-25 18-34 18-26 18 32 18 28 18 20 18 6 18-1 18 10 18 16 18 14 18 15 18 21 18 14 18-27 18-89 18-24 18 16 18 44 18-15 18-19 18 2 18 18 18 42 18 32 18-12 18-14 18-4 18 9 18 3 18-7 18-9 18-5 18-4 18-2 18-3 18-2 18 0 18 2 18 3 18 3 18 1 18-1 18-4 18-2 18 2 18 7 18 7 18-3 18-10 18-6 18 0 18 10 18 12 18 14" fill="none" stroke="#0072BD" stroke-width="7" stroke-linejoin="round" stroke-linecap="round" transform="scale(.1)"/>
<path d="M2008 1795l18 9 18 6 18-1 18-8 18-6 18 0 18 7 18 4 18-4 18-7 18-2 18 4 18 15 18 34 18 63 18-135 18-177 18-54 18 133 18 251 18 146 18-55 18-129 18-59 18-38 18-32 18-43 18-38 18 24 18 27 18 26 18 14 18 10 18 16 18 16 18 10 18 9 18 17 18 15 18-23 18-84 18-25 18 11 18 38 18-20 18-21 18 5 18 25 18 46 18 36 18-13 18-17 18-6 18 10 18 6 18-6 18-10 18-10 18-8 18-7 18-2 18 2 18 5 18 6 18 5 18 1 18-4 18-7 18-6 18 0 18 7 18 15 18 15 18 0 18-14 18-16 18-25 18-23 18 1" fill="none" stroke="#D95319" stroke-width="7" stroke-linejoin="round" stroke-linecap="round" transform="scale(.1)"/>
<path d="M2008 1774l18 0 18 3 18 2 18 2 18 2 18 1 18-4 18-12 18-12 18-1 18 12 18 22 18 31 18 51 18-27 18-197 18-90 18 46 18 205 18 182 18 19 18-118 18-89 18-40 18-25 18-19 18-32 18 17 18 29 18 19 18 5 18-6 18 1 18 14 18 18 18 19 18 21 18 19 18-11 18-64 18-66 18 3 18 36 18 19 18-14 18 0 18 8 18 25 18 31 18 2 18-18 18-5 18 8 18 8 18-4 18-12 18-9 18-5 18 0 18 2 18 4 18 2 18 0 18-2 18-2 18-3 18-2 18 0 18 3 18 5 18 6 18 4 18-4 18-13 18-9 18 2 18 16 18 22 18 17" fill="none" stroke="#EDB120" stroke-width="7" stroke-linejoin="round" stroke-linecap="round" transform="scale(.1)"/>
<path d="M2008 1837l18 2 18-2 18-7 18-7 18-3 18 4 18 3 18-4 18-5 18 2 18 10 18 19 18 32 18 65 18-73 18-237 18-90 18 89 18 269 18 200 18-8 18-148 18-87 18-41 18-28 18-29 18-47 18 20 18 28 18 19 18 7 18-2 18 10 18 22 18 22 18 21 18 26 18 23 18-16 18-86 18-64 18 5 18 42 18-1 18-26 18 2 18 21 18 47 18 49 18 1 18-23 18-14 18 0 18 2 18-9 18-9 18-3 18 3 18 3 18 2 18-1 18-3 18-5 18-4 18-3 18-2 18-1 18 0 18 4 18 8 18 13 18 13 18 0 18-15 18-15 18-9 18-18 18-2 18 18" fill="none" stroke="#7E2F8E" stroke-width="7" stroke-linejoin="round" stroke-linecap="round" transform="scale(.1)"/>
<path d="M2008 1822l18 12 18 9 18-1 18-11 18-11 18-2 18 6 18 4 18-5 18-7 18 1 18 11 18 23 18 41 18 71 18-175 18-203 18-58 18 168 18 298 18 161 18-82 18-160 18-71 18-41 18-26 18-42 18-33 18 34 18 32 18 27 18 11 18 1 18 7 18 12 18 11 18 18 18 31 18 25 18-28 18-103 18-28 18 14 18 46 18-24 18-26 18 1 18 27 18 56 18 46 18-12 18-20 18-12 18 3 18 2 18-5 18-5 18-3 18-4 18-4 18-2 18-1 18-1 18-2 18-2 18-1 18 1 18 3 18 4 18 3 18 4 18 8 18 5 18-5 18-16 18-11 18-19 18 0 18 23" fill="none" stroke="#77AC30" stroke-width="7" stroke-linejoin="round" stroke-linecap="round" transform="scale(.1)"/>
<path d="M2008 1790l18 1 18-6 18-8 18-2 18 7 18 7 18-4 18-14 18-12 18 4 18 17 18 28 18 41 18 34 18-181 18-129 18-10 18 172 18 223 18 81 18-98 18-118 18-46 18-26 18-18 18-38 18-13 18 29 18 28 18 23 18 7 18-2 18 2 18 6 18 11 18 20 18 28 18 10 18-38 18-85 18-8 18 23 18 35 18-23 18-17 18 1 18 25 18 47 18 28 18-16 18-19 18-10 18 5 18 6 18 3 18-2 18-8 18-12 18-9 18-1 18 6 18 9 18 3 18-1 18-4 18-3 18-2 18 0 18-2 18 2 18 9 18 10 18 1 18-8 18-10 18-10 18-28 18 18 18 40" fill="none" stroke="#4DBEEE" stroke-width="7" stroke-linejoin="round" stroke-linecap="round" transform="scale(.1)"/>
<path d="M2008 1789l18 0 18 0 18 0 18 0 18 4 18 6 18 4 18-2 18-5 18 1 18 7 18 12 18 25 18 54 18-92 18-189 18-67 18 98 18 234 18 160 18-24 18-125 18-66 18-35 18-25 18-28 18-35 18 22 18 23 18 15 18 3 18-4 18 7 18 18 18 17 18 17 18 23 18 21 18-15 18-73 18-40 18 8 18 37 18-9 18-24 18-2 18 14 18 37 18 35 18-4 18-13 18-3 18 9 18 5 18-6 18-9 18-6 18-3 18-1 18-3 18-3 18-2 18-1 18 1 18 2 18 0 18-1 18-1 18 1 18 5 18 10 18 8 18-3 18-12 18-10 18-2 18-1 18 6 18 13" fill="none" stroke="#A2142F" stroke-width="7" stroke-linejoin="round" stroke-linecap="round" transform="scale(.1)"/>
<path d="M2008 1780l18-3 18-1 18-1 18 0 18 4 18 9 18 8 18-1 18-11 18-9 18 1 18 10 18 22 18 44 18 52 18-210 18-169 18-24 18 201 18 284 18 123 18-105 18-146 18-65 18-43 18-31 18-46 18-13 18 40 18 33 18 21 18 2 18-2 18 11 18 17 18 16 18 21 18 28 18 12 18-42 18-103 18-15 18 23 18 44 18-22 18-13 18 7 18 27 18 46 18 22 18-25 18-18 18-2 18 14 18 7 18-3 18-5 18-2 18-3 18-2 18-4 18-4 18-5 18-6 18-4 18-3 18-2 18 2 18 6 18 10 18 14 18 15 18 6 18-12 18-21 18-13 18-20 18 0 18 18" fill="none" stroke="#0072BD" stroke-width="7" stroke-linejoin="round" stroke-linecap="round" transform="scale(.1)"/>
<path d="M2008 1770l18 10 18 17 18 10 18-4 18-14 18-10 18 1 18 4 18-1 18-5 18-3 18 4 18 26 18 63 18 62 18-231 18-175 18-28 18 215 18 295 18 121 18-116 18-152 18-71 18-49 18-28 18-41 18 0 18 44 18 26 18 12 18-1 18 2 18 19 18 19 18 15 18 17 18 28 18 13 18-45 18-105 18-10 18 26 18 40 18-29 18-16 18 6 18 30 18 54 18 29 18-23 18-18 18-5 18 10 18 6 18 2 18-2 18-6 18-13 18-13 18-6 18 2 18 5 18 0 18-6 18-5 18 3 18 12 18 14 18 7 18-3 18-6 18-4 18-6 18-4 18 1 18 3 18-32 18-10" fill="none" stroke="#D95319" stroke-width="7" stroke-linejoin="round" stroke-linecap="round" transform="scale(.1)"/>
<path d="M2008 1811l18 1 18 3 18 1 18-3 18-1 18 3 18 5 18-1 18-12 18-12 18-2 18 11 18 25 18 46 18 85 18-145 18-245 18-82 18 150 18 319 18 196 18-61 18-176 18-84 18-41 18-26 18-37 18-43 18 29 18 27 18 17 18 2 18-1 18 18 18 31 18 30 18 28 18 30 18 19 18-39 18-120 18-54 18 12 18 58 18-6 18-18 18 10 18 28 18 52 18 41 18-19 18-29 18-11 18 10 18 11 18-2 18-6 18-4 18-5 18-5 18-7 18-6 18-4 18 0 18 3 18 4 18 4 18 1 18 0 18 0 18 4 18 9 18 8 18-5 18-17 18-11 18-8 18 2 18 13" fill="none" stroke="#EDB120" stroke-width="7" stroke-linejoin="round" stroke-linecap="round" transform="scale(.1)"/>
<path d="M2008 1815l18 3 18-1 18-3 18-4 18-1 18 4 18 3 18-4 18-8 18-3 18 7 18 14 18 25 18 45 18 29 18-215 18-128 18 2 18 202 18 239 18 75 18-114 18-121 18-52 18-33 18-20 18-39 18 2 18 32 18 20 18 12 18 1 18 5 18 16 18 16 18 12 18 16 18 23 18 5 18-45 18-90 18-4 18 26 18 31 18-22 18-6 18 10 18 30 18 43 18 15 18-27 18-16 18-2 18 11 18 4 18-5 18-7 18-5 18-2 18 1 18 2 18 0 18-2 18-4 18-1 18 0 18 0 18-4 18-4 18-2 18 6 18 14 18 12 18-1 18-9 18-5 18 14 18-11 18-2" fill="none" stroke="#7E2F8E" stroke-width="7" stroke-linejoin="round" stroke-linecap="round" transform="scale(.1)"/>
<path d="M2008 1787l18-1 18 2 18 2 18-1 18 0 18 5 18 6 18 2 18-7 18-8 18 0 18 7 18 17 18 33 18 68 18-139 18-209 18-64 18 145 18 289 18 175 18-55 18-156 18-79 18-47 18-33 18-41 18-37 18 32 18 34 18 26 18 11 18 2 18 12 18 20 18 16 18 17 18 23 18 17 18-31 18-102 18-40 18 14 18 52 18-6 18-16 18 8 18 22 18 44 18 33 18-18 18-24 18-8 18 10 18 8 18-4 18-7 18-3 18-1 18 0 18 0 18-3 18-4 18-6 18-6 18-3 18-1 18 3 18 5 18 8 18 10 18 11 18 6 18-7 18-18 18-12 18-10 18-1 18 7" fill="none" stroke="#77AC30" stroke-width="7" stroke-linejoin="round" stroke-linecap="round" transform="scale(.1)"/>
<path d="M2008 1818l18-2 18-9 18-14 18-14 18-3 18 9 18 16 18 10 18-2 18-5 18 0 18 4 18 15 18 39 18 50 18-215 18-165 18-15 18 215 18 292 18 119 18-118 18-159 18-71 18-43 18-26 18-39 18-7 18 45 18 32 18 17 18-3 18-6 18 9 18 18 18 20 18 26 18 33 18 14 18-44 18-109 18-18 18 21 18 42 18-25 18-14 18 7 18 29 18 51 18 29 18-19 18-13 18 0 18 11 18-2 18-13 18-12 18-6 18-1 18 1 18 1 18-1 18-1 18 0 18 0 18 0 18-2 18-5 18-3 18 2 18 10 18 17 18 13 18-5 18-17 18-15 18-25 18-17 18 12" fill="none" stroke="#4DBEEE" stroke-width="7" stroke-linejoin="round" stroke-linecap="round" transform="scale(.1)"/>
<path d="M2008 1804l18 3 18 2 18-2 18-5 18-3 18 3 18 4 18-4 18-10 18-6 18 3 18 13 18 27 18 52 18 26 18-228 18-123 18 16 18 224 18 245 18 64 18-133 18-128 18-54 18-37 18-25 18-46 18 7 18 42 18 33 18 20 18 2 18 2 18 12 18 13 18 12 18 15 18 19 18 0 18-52 18-89 18 3 18 33 18 32 18-25 18-7 18 11 18 32 18 44 18 13 18-26 18-14 18 0 18 10 18-1 18-8 18-6 18 0 18 0 18-2 18-4 18-4 18-2 18 0 18 2 18 1 18 0 18 0 18 2 18 4 18 7 18 8 18 0 18-13 18-15 18-6 18-16 18 7 18 23" fill="none" stroke="#A2142F" stroke-width="7" stroke-linejoin="round" stroke-linecap="round" transform="scale(.1)"/>
<path d="M2008 1805l18 3 18-4 18-9 18-8 18 1 18 7 18 4 18-7 18-11 18-2 18 10 18 23 18 35 18 63 18-81 18-217 18-81 18 94 18 256 18 183 18-18 18-146 18-88 18-44 18-25 18-19 18-32 18 28 18 28 18 17 18 4 18-3 18 7 18 15 18 12 18 12 18 21 18 26 18-7 18-69 18-49 18 3 18 33 18-10 18-25 18 3 18 22 18 44 18 41 18-7 18-21 18-8 18 8 18 7 18-8 18-13 18-9 18 0 18 4 18 6 18 2 18-5 18-8 18-6 18-1 18 4 18 5 18 1 18-2 18-2 18 6 18 11 18 5 18-6 18-8 18-7 18-7 18-7 18 17" fill="none" stroke="#0072BD" stroke-width="7" stroke-linejoin="round" stroke-linecap="round" transform="scale(.1)"/>
<path d="M2008 1818l18 5 18 6 18 3 18 0 18 1 18 4 18 2 18-6 18-13 18-8 18 3 18 13 18 28 18 57 18 32 18-255 18-140 18 13 18 248 18 277 18 78 18-143 18-141 18-59 18-40 18-29 18-53 18 4 18 43 18 31 18 19 18 2 18 3 18 16 18 19 18 16 18 19 18 26 18 1 18-58 18-103 18 1 18 34 18 36 18-29 18-10 18 10 18 36 18 51 18 18 18-28 18-16 18-1 18 10 18 0 18-7 18-4 18-1 18-1 18-1 18-4 18-5 18-4 18-4 18-1 18 0 18 1 18 2 18 3 18 6 18 9 18 11 18 3 18-11 18-16 18-7 18-6 18-2 18 11" fill="none" stroke="#D95319" stroke-width="7" stroke-linejoin="round" stroke-linecap="round" transform="scale(.1)"/>
<path d="M2008 1798l18 5 18 0 18-3 18-2 18 3 18 7 18 2 18-12 18-18 18-6 18 12 18 26 18 36 18 53 18 20 18-256 18-142 18 11 18 238 18 268 18 77 18-132 18-129 18-52 18-37 18-30 18-57 18-1 18 41 18 35 18 22 18 0 18-5 18 7 18 14 18 23 18 31 18 34 18 4 18-60 18-107 18-7 18 30 18 34 18-26 18-7 18 12 18 38 18 53 18 16 18-32 18-22 18-3 18 15 18 9 18 1 18-6 18-10 18-12 18-8 18-1 18 3 18 3 18 0 18-1 18 0 18 1 18 1 18 1 18-1 18 4 18 11 18 8 18-5 18-12 18-11 18-23 18-10 18 24" fill="none" stroke="#EDB120" stroke-width="7" stroke-linejoin="round" stroke-linecap="round" transform="scale(.1)"/>
<path d="M2008 1772l18-1 18 7 18 6 18-1 18-5 18 0 18 6 18 4 18-6 18-12 18-5 18 6 18 23 18 45 18 79 18-147 18-227 18-73 18 152 18 306 18 182 18-66 18-170 18-82 18-40 18-22 18-36 18-40 18 28 18 30 18 24 18 9 18-1 18 9 18 18 18 22 18 26 18 31 18 19 18-35 18-111 18-41 18 18 18 55 18-13 18-25 18 3 18 25 18 54 18 42 18-17 18-26 18-11 18 12 18 10 18-5 18-9 18-7 18-1 18 0 18-1 18-6 18-9 18-6 18 1 18 6 18 6 18 2 18 1 18 1 18 6 18 9 18 5 18-10 18-19 18-9 18-4 18 17 18 16" fill="none" stroke="#7E2F8E" stroke-width="7" stroke-linejoin="round" stroke-linecap="round" transform="scale(.1)"/>
<path d="M2008 1774l18 1 18 0 18-2 18-4 18-2 18 3 18 3 18-5 18-10 18-2 18 11 18 21 18 34 18 60 18 40 18-284 18-179 18-6 18 264 18 322 18 108 18-149 18-162 18-67 18-42 18-27 18-52 18 1 18 46 18 30 18 14 18-7 18-3 18 17 18 24 18 25 18 28 18 33 18 6 18-62 18-120 18-6 18 36 18 47 18-29 18-14 18 6 18 33 18 53 18 23 18-28 18-14 18 3 18 15 18 1 18-11 18-9 18-3 18 0 18 1 18-1 18-5 18-7 18-7 18-4 18-1 18 3 18 4 18 5 18 6 18 8 18 11 18 3 18-12 18-14 18-5 18 13 18 0 18 5" fill="none" stroke="#77AC30" stroke-width="7" stroke-linejoin="round" stroke-linecap="round" transform="scale(.1)"/>
<path d="M2008 1797l18-5 18-4 18-3 18-2 18 3 18 10 18 10 18 1 18-6 18-4 18 3 18 8 18 20 18 43 18 29 18-220 18-129 18 4 18 210 18 245 18 77 18-119 18-122 18-48 18-29 18-21 18-44 18-2 18 31 18 20 18 10 18-4 18 0 18 15 18 20 18 22 18 25 18 30 18 7 18-48 18-95 18-10 18 20 18 28 18-27 18-9 18 11 18 33 18 48 18 21 18-21 18-13 18 0 18 9 18-1 18-8 18-8 18-3 18-3 18-4 18-4 18-4 18-2 18 1 18 4 18 6 18 4 18 1 18-1 18-1 18 3 18 6 18 0 18-10 18-13 18-4 18-5 18 16 18 26" fill="none" stroke="#4DBEEE" stroke-width="7" stroke-linejoin="round" stroke-linecap="round" transform="scale(.1)"/>
<path d="M2008 1776l18 1 18 1 18 0 18-2 18-1 18 3 18 2 18-6 18-11 18-7 18 4 18 13 18 23 18 38 18 61 18-173 18-172 18-41 18 166 18 267 18 133 18-87 18-144 18-62 18-38 18-26 18-38 18-20 18 36 18 28 18 17 18 1 18-2 18 14 18 21 18 19 18 19 18 22 18 13 18-35 18-98 18-20 18 15 18 41 18-23 18-17 18 9 18 28 18 50 18 33 18-17 18-17 18-5 18 8 18 0 18-10 18-11 18-5 18-1 18 1 18-1 18-2 18 0 18 1 18 3 18 2 18-1 18-4 18-3 18 2 18 7 18 11 18 6 18-10 18-17 18-8 18-8 18 14 18 21" fill="none" stroke="#A2142F" stroke-width="7" stroke-linejoin="round" stroke-linecap="round" transform="scale(.1)"/>
<path d="M2008 1817l18 2 18 3 18 0 18-4 18-2 18 2 18 2 18-4 18-7 18-1 18 9 18 16 18 26 18 52 18 31 18-258 18-148 18 7 18 244 18 281 18 83 18-140 18-139 18-51 18-32 18-26 18-55 18-6 18 33 18 26 18 18 18 3 18 5 18 17 18 19 18 18 18 24 18 32 18 8 18-55 18-109 18-9 18 27 18 33 18-29 18-7 18 12 18 37 18 53 18 20 18-26 18-14 18 0 18 11 18-3 18-11 18-8 18-1 18 2 18 2 18-3 18-7 18-7 18-6 18 1 18 4 18 4 18 2 18 0 18 1 18 7 18 14 18 8 18-8 18-15 18-11 18-17 18-14 18 12" fill="none" stroke="#0072BD" stroke-width="7" stroke-linejoin="round" stroke-linecap="round" transform="scale(.1)"/>
<path d="M2008 1794l18 2 18-3 18-7 18-8 18-3 18 2 18 1 18-6 18-5 18 3 18 12 18 21 18 34 18 67 18-111 18-212 18-73 18 119 18 270 18 175 18-39 18-150 18-80 18-44 18-29 18-32 18-36 18 30 18 33 18 24 18 9 18-1 18 9 18 16 18 15 18 15 18 21 18 19 18-21 18-87 18-42 18 13 18 46 18-9 18-26 18-2 18 18 18 45 18 45 18-2 18-15 18-6 18 5 18 1 18-13 18-15 18-9 18-3 18 1 18 3 18 3 18 2 18 2 18 1 18 1 18-1 18-3 18-4 18-1 18 2 18 8 18 8 18-2 18-11 18-8 18 0 18 6 18 8 18 13" fill="none" stroke="#D95319" stroke-width="7" stroke-linejoin="round" stroke-linecap="round" transform="scale(.1)"/>
<path d="M2008 1780l18 0 18 2 18 1 18-4 18-4 18 2 18 6 18 3 18-7 18-9 18 1 18 12 18 22 18 40 18 84 18-112 18-296 18-107 18 133 18 353 18 250 18-25 18-195 18-111 18-56 18-36 18-40 18-57 18 30 18 39 18 27 18 10 18-1 18 13 18 27 18 25 18 24 18 29 18 27 18-24 18-112 18-71 18 14 18 60 18-2 18-34 18-2 18 21 18 55 18 56 18-4 18-25 18-10 18 10 18 9 18-8 18-13 18-9 18-4 18-3 18-1 18-2 18-3 18-2 18-1 18 1 18 0 18 0 18 0 18 4 18 7 18 14 18 12 18-3 18-20 18-18 18-19 18-4 18 12" fill="none" stroke="#EDB120" stroke-width="7" stroke-linejoin="round" stroke-linecap="round" transform="scale(.1)"/>
<path d="M2008 1803l18 1 18-1 18-3 18-5 18-1 18 2 18 4 18-2 18-7 18-4 18 3 18 9 18 19 18 37 18 31 18-165 18-109 18-4 18 159 18 198 18 68 18-92 18-104 18-44 18-28 18-18 18-32 18-1 18 30 18 22 18 13 18 0 18 0 18 9 18 12 18 11 18 14 18 20 18 7 18-34 18-72 18-5 18 18 18 24 18-22 18-10 18 6 18 25 18 39 18 19 18-15 18-10 18 0 18 6 18-1 18-8 18-8 18-5 18-2 18-2 18-1 18 0 18 0 18 1 18 3 18 2 18 0 18 0 18-1 18 1 18 4 18 7 18 2 18-8 18-13 18-6 18-14 18 8 18 20" fill="none" stroke="#7E2F8E" stroke-width="7" stroke-linejoin="round" stroke-linecap="round" transform="scale(.1)"/>
<path d="M2008 1779l18-2 18-2 18-3 18-6 18-3 18 2 18 6 18 2 18-3 18-3 18 3 18 8 18 18 18 39 18 45 18-180 18-138 18-19 18 169 18 232 18 93 18-95 18-119 18-48 18-30 18-20 18-36 18-7 18 33 18 22 18 9 18-8 18-6 18 11 18 21 18 22 18 25 18 26 18 10 18-39 18-89 18-11 18 17 18 29 18-27 18-16 18 6 18 31 18 49 18 28 18-17 18-14 18-5 18 8 18 1 18-7 18-7 18-7 18-5 18-3 18-1 18 1 18 1 18 0 18-1 18 0 18 1 18 2 18 4 18 4 18 3 18 4 18 0 18-10 18-12 18-4 18-7 18 8 18 17" fill="none" stroke="#77AC30" stroke-width="7" stroke-linejoin="round" stroke-linecap="round" transform="scale(.1)"/>
<path d="M2008 1827l18 0 18 1 18-1 18-1 18-1 18-1 18-6 18-10 18-7 18 4 18 12 18 17 18 32 18 72 18-42 18-264 18-114 18 72 18 288 18 244 18 18 18-164 18-115 18-58 18-39 18-31 18-47 18 29 18 41 18 25 18 7 18-4 18 9 18 22 18 18 18 13 18 20 18 27 18-6 18-77 18-77 18 5 18 44 18 13 18-26 18 0 18 14 18 37 18 44 18 1 18-23 18-9 18 6 18 8 18-6 18-6 18 2 18 4 18-1 18-7 18-9 18-6 18-2 18 0 18-3 18-6 18-5 18 2 18 10 18 12 18 13 18 10 18-1 18-11 18-9 18-3 18 9 18-25 18-7" fill="none" stroke="#4DBEEE" stroke-width="7" stroke-linejoin="round" stroke-linecap="round" transform="scale(.1)"/>
<path d="M2008 1800l18 5 18 2 18-1 18-5 18-4 18 0 18 0 18-6 18-11 18-7 18 3 18 13 18 26 18 49 18 42 18-186 18-127 18-9 18 177 18 221 18 75 18-107 18-118 18-46 18-27 18-18 18-36 18-3 18 33 18 24 18 14 18 0 18 1 18 11 18 14 18 13 18 15 18 22 18 7 18-41 18-85 18-6 18 22 18 32 18-22 18-9 18 8 18 28 18 42 18 20 18-19 18-12 18-1 18 8 18-2 18-12 18-11 18-7 18-3 18 2 18 5 18 6 18 6 18 3 18 0 18-4 18-7 18-8 18-5 18 0 18 5 18 11 18 7 18-4 18-9 18-2 18 12 18 8 18 15" fill="none" stroke="#A2142F" stroke-width="7" stroke-linejoin="round" stroke-linecap="round" transform="scale(.1)"/>
<path d="M2008 1798l18-4 18 1 18 5 18 5 18 0 18-3 18-5 18-6 18-6 18-2 18 5 18 11 18 15 18 26 18 52 18-75 18-176 18-65 18 84 18 212 18 149 18-20 18-119 18-68 18-35 18-19 18-18 18-26 18 20 18 16 18 8 18 1 18 1 18 14 18 21 18 15 18 11 18 17 18 17 18-13 18-67 18-42 18 4 18 33 18-4 18-17 18 2 18 15 18 35 18 36 18 0 18-16 18-11 18-3 18-1 18-3 18 0 18 4 18 2 18-5 18-8 18-6 18-1 18 3 18 3 18-2 18-3 18-3 18 2 18 7 18 7 18 8 18 5 18-5 18-13 18-10 18-17 18-7 18 10" fill="none" stroke="#0072BD" stroke-width="7" stroke-linejoin="round" stroke-linecap="round" transform="scale(.1)"/>
<path d="M2008 1809l18 5 18-2 18-8 18-6 18 2 18 12 18 10 18-1 18-11 18-10 18-3 18 7 18 29 18 73 18-69 18-228 18-82 18 97 18 274 18 199 18-14 18-152 18-87 18-44 18-34 18-37 18-55 18 20 18 34 18 30 18 18 18 5 18 9 18 14 18 12 18 14 18 24 18 28 18-10 18-81 18-60 18 5 18 40 18-6 18-29 18 1 18 21 18 46 18 46 18-4 18-23 18-10 18 9 18 13 18-2 18-7 18-9 18-7 18-7 18-5 18-3 18-2 18-1 18-1 18 0 18 0 18 2 18 4 18 8 18 10 18 12 18 8 18-7 18-20 18-18 18-6 18-19 18 9 18 19" fill="none" stroke="#D95319" stroke-width="7" stroke-linejoin="round" stroke-linecap="round" transform="scale(.1)"/>
<path d="M2008 1793l18 6 18 4 18-1 18-2 18 0 18 4 18 2 18-7 18-9 18 0 18 7 18 17 18 31 18 69 18-94 18-234 18-83 18 111 18 285 18 200 18-23 18-156 18-87 18-45 18-30 18-34 18-48 18 24 18 29 18 21 18 6 18-1 18 10 18 24 18 24 18 25 18 30 18 25 18-21 18-95 18-63 18 3 18 43 18-5 18-26 18 3 18 22 18 49 18 50 18-1 18-18 18-8 18 6 18 3 18-11 18-15 18-10 18-4 18 0 18 1 18 0 18 0 18-1 18 0 18 1 18 2 18 2 18 1 18 2 18 3 18 7 18 6 18-5 18-15 18-12 18-2 18-4 18 12 18 22" fill="none" stroke="#EDB120" stroke-width="7" stroke-linejoin="round" stroke-linecap="round" transform="scale(.1)"/>
<path d="M2008 1792l18 5 18 4 18-1 18-5 18-4 18 1 18 2 18-3 18-8 18-3 18 6 18 14 18 25 18 45 18 44 18-213 18-158 18-18 18 202 18 271 18 109 18-109 18-139 18-60 18-40 18-29 18-45 18-10 18 39 18 31 18 20 18 3 18 0 18 12 18 15 18 15 18 19 18 27 18 11 18-42 18-98 18-12 18 21 18 36 18-27 18-15 18 9 18 32 18 53 18 30 18-19 18-16 18-5 18 4 18-4 18-12 18-8 18-1 18 3 18 3 18 1 18-1 18-4 18-4 18-3 18-1 18 0 18 1 18 3 18 5 18 8 18 8 18 2 18-12 18-16 18-7 18-9 18 16 18 27" fill="none" stroke="#7E2F8E" stroke-width="7" stroke-linejoin="round" stroke-linecap="round" transform="scale(.1)"/>
<path d="M2008 1768l18 5 18 2 18-3 18-3 18 1 18 3 18-1 18-9 18-8 18 0 18 10 18 21 18 36 18 63 18-147 18-167 18-48 18 140 18 246 18 132 18-69 18-133 18-61 18-39 18-25 18-32 18-18 18 38 18 30 18 19 18-1 18-8 18 3 18 13 18 15 18 20 18 27 18 18 18-26 18-88 18-21 18 13 18 40 18-20 18-20 18 1 18 20 18 44 18 34 18-12 18-13 18-5 18 7 18 2 18-6 18-7 18-4 18-4 18-5 18-4 18-3 18 1 18 4 18 5 18 3 18-2 18-5 18-5 18-1 18 6 18 13 18 11 18-3 18-13 18-11 18-5 18-10 18 9 18 16" fill="none" stroke="#77AC30" stroke-width="7" stroke-linejoin="round" stroke-linecap="round" transform="scale(.1)"/>
<path d="M2008 1773l18-2 18 3 18 5 18 2 18 1 18 2 18 2 18-1 18-7 18-5 18 4 18 10 18 17 18 27 18 54 18-111 18-182 18-57 18 115 18 241 18 148 18-44 18-134 18-69 18-35 18-19 18-22 18-24 18 29 18 23 18 11 18-4 18-8 18 6 18 19 18 20 18 21 18 25 18 17 18-23 18-82 18-36 18 13 18 43 18-6 18-20 18 0 18 13 18 35 18 33 18-9 18-14 18-5 18 7 18 3 18-8 18-8 18-3 18 3 18 5 18 3 18 0 18-4 18-8 18-8 18-5 18-3 18 1 18 4 18 5 18 7 18 9 18 7 18-3 18-9 18-5 18 22 18 6 18 1" fill="none" stroke="#4DBEEE" stroke-width="7" stroke-linejoin="round" stroke-linecap="round" transform="scale(.1)"/>
<path d="M2008 1796l18 4 18-3 18-7 18-6 18 0 18 6 18 5 18-5 18-11 18-5 18 8 18 18 18 27 18 48 18 17 18-233 18-125 18 18 18 226 18 246 18 63 18-134 18-127 18-49 18-25 18-15 18-43 18-1 18 27 18 21 18 15 18 4 18 3 18 12 18 13 18 16 18 27 18 34 18 7 18-55 18-102 18-12 18 24 18 34 18-17 18 0 18 10 18 28 18 41 18 14 18-23 18-10 18 2 18 8 18-3 18-8 18-4 18 1 18 0 18-4 18-9 18-8 18-2 18 5 18 9 18 6 18-2 18-9 18-7 18 1 18 12 18 19 18 8 18-12 18-20 18-10 18-11 18 14 18 21" fill="none" stroke="#A2142F" stroke-width="7" stroke-linejoin="round" stroke-linecap="round" transform="scale(.1)"/>
<path d="M2008 1806l18 0 18-5 18-9 18-8 18 1 18 9 18 8 18-2 18-8 18-5 18 2 18 11 18 30 18 68 18-46 18-238 18-95 18 79 18 268 18 213 18 1 18-159 18-103 18-44 18-25 18-23 18-44 18 20 18 32 18 20 18 7 18-5 18 7 18 21 18 20 18 21 18 23 18 24 18-12 18-80 18-70 18 8 18 45 18 8 18-28 18-5 18 13 18 40 18 47 18 3 18-22 18-9 18 7 18 10 18-4 18-9 18-8 18-5 18-4 18-3 18-3 18-1 18 0 18 2 18 3 18 1 18-2 18-3 18-1 18 3 18 11 18 13 18 3 18-12 18-14 18-8 18-14 18-2 18 17" fill="none" stroke="#0072BD" stroke-width="7" stroke-linejoin="round" stroke-linecap="round" transform="scale(.1)"/>
<path d="M2008 1784l18 13 18 8 18-1 18-7 18-6 18-4 18-5 18-10 18-6 18 6 18 16 18 24 18 37 18 73 18-114 18-250 18-87 18 128 18 309 18 210 18-34 18-174 18-99 18-53 18-34 18-32 18-39 18 38 18 41 18 26 18 5 18-9 18 2 18 16 18 19 18 24 18 32 18 29 18-20 18-99 18-59 18 8 18 51 18-5 18-25 18 3 18 21 18 47 18 44 18-11 18-26 18-9 18 11 18 13 18-1 18-6 18-6 18-6 18-8 18-8 18-7 18-4 18 1 18 5 18 6 18 5 18 1 18-2 18-1 18 2 18 8 18 10 18-1 18-14 18-12 18-4 18-10 18 1 18 16" fill="none" stroke="#D95319" stroke-width="7" stroke-linejoin="round" stroke-linecap="round" transform="scale(.1)"/>
<path d="M2008 1822l18 1 18 2 18-1 18-2 18 0 18 6 18 6 18-2 18-9 18-5 18 2 18 11 18 27 18 62 18 3 18-258 18-129 18 39 18 265 18 265 18 53 18-152 18-133 18-60 18-40 18-29 18-47 18 16 18 44 18 30 18 12 18-4 18 1 18 16 18 17 18 17 18 21 18 29 18 2 18-61 18-88 18 3 18 35 18 19 18-36 18-11 18 10 18 40 18 53 18 14 18-22 18-8 18 8 18 13 18-4 18-15 18-13 18-8 18-4 18-1 18-1 18-1 18 0 18 2 18 5 18 4 18 0 18-4 18-4 18-1 18 7 18 12 18 5 18-11 18-13 18-4 18 4 18 9 18 20" fill="none" stroke="#EDB120" stroke-width="7" stroke-linejoin="round" stroke-linecap="round" transform="scale(.1)"/>
<path d="M2008 1801l18 4 18 2 18-1 18 0 18 3 18 5 18 0 18-12 18-14 18-5 18 6 18 18 18 36 18 73 18-80 18-219 18-77 18 104 18 267 18 185 18-29 18-158 18-93 18-48 18-29 18-25 18-33 18 35 18 41 18 28 18 7 18-6 18 0 18 10 18 10 18 15 18 22 18 25 18-14 18-79 18-49 18 14 18 47 18-3 18-28 18-5 18 11 18 39 18 42 18-2 18-16 18-4 18 11 18 8 18-6 18-12 18-10 18-6 18-5 18-3 18-3 18-1 18 1 18 4 18 6 18 5 18 3 18-1 18-1 18-1 18 3 18 4 18-4 18-14 18-10 18 0 18-4 18 18 18 27" fill="none" stroke="#7E2F8E" stroke-width="7" stroke-linejoin="round" stroke-linecap="round" transform="scale(.1)"/>
<path d="M2008 1806l18 2 18 0 18-4 18-5 18-2 18 0 18-1 18-6 18-3 18 5 18 9 18 19 18 37 18 64 18-168 18-171 18-43 18 162 18 265 18 133 18-85 18-143 18-65 18-43 18-28 18-37 18-15 18 44 18 35 18 20 18-1 18-6 18 8 18 16 18 14 18 15 18 20 18 12 18-31 18-90 18-10 18 22 18 44 18-26 18-23 18 2 18 24 18 47 18 31 18-20 18-17 18-3 18 13 18 7 18-6 18-11 18-9 18-4 18 1 18 3 18 1 18-2 18-5 18-4 18 0 18 1 18 1 18-1 18-1 18 2 18 12 18 13 18 2 18-9 18-10 18-8 18-11 18-1 18 13" fill="none" stroke="#77AC30" stroke-width="7" stroke-linejoin="round" stroke-linecap="round" transform="scale(.1)"/>
<path d="M2008 1805l18 7 18 3 18-3 18-7 18-5 18-1 18-1 18-8 18-9 18 2 18 15 18 24 18 38 18 71 18-36 18-283 18-131 18 61 18 292 18 265 18 37 18-161 18-120 18-55 18-39 18-36 18-60 18 14 18 39 18 29 18 16 18 1 18 9 18 21 18 22 18 21 18 25 18 28 18-9 18-84 18-91 18 2 18 43 18 16 18-29 18-2 18 20 18 48 18 56 18 6 18-30 18-18 18 1 18 9 18-3 18-7 18-3 18-1 18-1 18-5 18-7 18-7 18-4 18-1 18 5 18 6 18 5 18 3 18 1 18 2 18 5 18 7 18-2 18-16 18-15 18-4 18-8 18 12 18 25" fill="none" stroke="#4DBEEE" stroke-width="7" stroke-linejoin="round" stroke-linecap="round" transform="scale(.1)"/>
<path d="M2008 1794l18 4 18 3 18-2 18-5 18-2 18 4 18 3 18-5 18-10 18-6 18 6 18 16 18 30 18 60 18 32 18-274 18-150 18 12 18 262 18 295 18 82 18-152 18-148 18-61 18-40 18-28 18-54 18 5 18 43 18 31 18 16 18-2 18 1 18 17 18 20 18 20 18 25 18 32 18 5 18-60 18-110 18-4 18 31 18 34 18-35 18-10 18 11 18 41 18 58 18 23 18-27 18-15 18 0 18 10 18-3 18-11 18-9 18-4 18-2 18-2 18-2 18-2 18-1 18 0 18 2 18 1 18 0 18-1 18 0 18 3 18 7 18 12 18 3 18-12 18-16 18-7 18-6 18 7 18 21" fill="none" stroke="#A2142F" stroke-width="7" stroke-linejoin="round" stroke-linecap="round" transform="scale(.1)"/>
<path d="M2008 1800l18-3 18-2 18 0 18 3 18 7 18 6 18-3 18-13 18-14 18-2 18 10 18 24 18 41 18 73 18-114 18-215 18-77 18 117 18 269 18 177 18-38 18-143 18-73 18-41 18-32 18-41 18-45 18 27 18 34 18 31 18 14 18 3 18 7 18 11 18 8 18 12 18 24 18 27 18-15 18-84 18-42 18 8 18 40 18-14 18-25 18 3 18 23 18 47 18 41 18-10 18-20 18-6 18 9 18 6 18-7 18-11 18-8 18-4 18 0 18 0 18 0 18-2 18-1 18 0 18 2 18-1 18-3 18-4 18 0 18 6 18 16 18 16 18 0 18-18 18-21 18-12 18-34 18 29 18 53" fill="none" stroke="#0072BD" stroke-width="7" stroke-linejoin="round" stroke-linecap="round" transform="scale(.1)"/>
<path d="M2008 1775l18 0 18 2 18 2 18-1 18-1 18-2 18-3 18-6 18-4 18 6 18 14 18 14 18 20 18 49 18 0 18-244 18-121 18 34 18 245 18 250 18 56 18-137 18-119 18-53 18-40 18-34 18-51 18 12 18 43 18 30 18 12 18-7 18 0 18 18 18 22 18 22 18 22 18 24 18-1 18-60 18-87 18 0 18 27 18 16 18-33 18-3 18 21 18 47 18 52 18 8 18-32 18-18 18 3 18 14 18 0 18-10 18-9 18-5 18 0 18 1 18-2 18-5 18-4 18-1 18 6 18 6 18 0 18-6 18-8 18 0 18 11 18 19 18 9 18-11 18-18 18-11 18-9 18 12 18 24" fill="none" stroke="#D95319" stroke-width="7" stroke-linejoin="round" stroke-linecap="round" transform="scale(.1)"/>
<path d="M2008 1782l18-8 18-5 18-1 18 2 18 7 18 13 18 12 18 2 18-11 18-17 18-9 18 1 18 16 18 36 18 69 18-112 18-187 18-61 18 120 18 251 18 154 18-47 18-136 18-67 18-36 18-26 18-35 18-36 18 25 18 26 18 21 18 7 18 1 18 10 18 16 18 15 18 18 18 26 18 23 18-17 18-84 18-39 18 4 18 32 18-22 18-28 18 3 18 27 18 56 18 50 18 0 18-13 18-11 18-2 18-7 18-16 18-14 18-6 18 1 18 4 18 3 18 3 18 1 18 1 18 0 18 0 18-1 18-2 18-2 18 0 18 4 18 9 18 8 18-4 18-14 18-12 18-20 18-5 18 11" fill="none" stroke="#EDB120" stroke-width="7" stroke-linejoin="round" stroke-linecap="round" transform="scale(.1)"/>
<path d="M2008 1795l18 7 18-5 18-10 18-8 18-3 18 1 18 0 18-3 18-1 18 7 18 10 18 9 18 18 18 53 18-16 18-220 18-102 18 43 18 230 18 216 18 37 18-127 18-103 18-53 18-38 18-26 18-38 18 22 18 34 18 17 18 3 18-5 18 8 18 20 18 18 18 15 18 22 18 29 18-2 18-68 18-83 18-1 18 41 18 26 18-21 18-12 18-5 18 23 18 47 18 25 18-3 18-2 18-2 18-3 18-14 18-14 18-8 18-3 18 3 18 7 18 7 18 1 18-9 18-14 18-7 18 6 18 13 18 11 18-1 18-10 18-3 18 8 18 10 18-2 18-11 18-9 18-13 18 6 18 26" fill="none" stroke="#7E2F8E" stroke-width="7" stroke-linejoin="round" stroke-linecap="round" transform="scale(.1)"/>
<path d="M2008 1806l18 5 18 6 18 1 18-5 18-5 18 0 18 3 18-1 18-4 18 2 18 9 18 15 18 27 18 57 18-41 18-245 18-107 18 66 18 267 18 233 18 25 18-148 18-112 18-52 18-33 18-27 18-48 18 11 18 30 18 24 18 18 18 9 18 13 18 18 18 12 18 11 18 17 18 23 18-8 18-70 18-73 18 8 18 42 18 13 18-30 18-9 18 11 18 42 18 53 18 12 18-23 18-17 18-3 18 5 18-1 18-5 18-5 18-6 18-5 18 0 18 4 18 5 18 3 18-4 18-7 18-8 18-6 18-2 18 3 18 9 18 15 18 18 18 7 18-11 18-19 18-14 18-27 18-3 18 24" fill="none" stroke="#77AC30" stroke-width="7" stroke-linejoin="round" stroke-linecap="round" transform="scale(.1)"/>
<path d="M2008 1771l18 4 18 4 18 3 18 1 18 3 18 5 18 1 18-10 18-17 18-10 18 4 18 17 18 33 18 58 18 36 18-234 18-135 18 2 18 216 18 249 18 72 18-127 18-124 18-47 18-29 18-20 18-45 18 1 18 33 18 21 18 9 18-5 18 0 18 16 18 22 18 23 18 25 18 29 18 5 18-52 18-99 18-7 18 23 18 27 18-30 18-9 18 13 18 39 18 55 18 24 18-23 18-17 18-6 18 2 18-7 18-9 18-4 18 4 18 4 18 3 18-2 18-5 18-6 18-5 18-2 18 0 18 0 18 1 18 3 18 5 18 10 18 13 18 4 18-11 18-17 18-10 18-21 18-3 18 19" fill="none" stroke="#4DBEEE" stroke-width="7" stroke-linejoin="round" stroke-linecap="round" transform="scale(.1)"/>
<path d="M2008 1795l18 6 18 3 18-3 18-4 18-1 18 3 18 2 18-3 18-5 18 1 18 7 18 12 18 22 18 50 18-48 18-209 18-85 18 69 18 235 18 194 18 14 18-126 18-87 18-45 18-34 18-31 18-47 18 15 18 29 18 24 18 13 18 2 18 8 18 17 18 16 18 16 18 22 18 23 18-9 18-66 18-62 18 0 18 30 18-1 18-30 18-3 18 17 18 45 18 52 18 13 18-13 18-8 18-2 18-4 18-16 18-19 18-11 18-2 18 5 18 7 18 8 18 5 18 1 18-1 18-3 18-5 18-4 18-3 18 1 18 6 18 9 18 10 18-2 18-14 18-15 18-6 18-22 18 15 18 33" fill="none" stroke="#A2142F" stroke-width="7" stroke-linejoin="round" stroke-linecap="round" transform="scale(.1)"/>
<path d="M2008 1817l18-2 18 1 18-2 18-6 18-6 18 0 18 6 18 3 18-5 18-5 18 4 18 12 18 21 18 35 18 71 18-114 18-252 18-90 18 125 18 309 18 212 18-29 18-167 18-92 18-49 18-34 18-38 18-49 18 28 18 34 18 26 18 10 18 0 18 12 18 23 18 21 18 20 18 26 18 21 18-26 18-102 18-58 18 14 18 55 18-1 18-25 18 2 18 20 18 47 18 45 18-9 18-25 18-11 18 7 18 7 18-4 18-7 18-2 18-1 18-2 18-4 18-6 18-5 18-3 18 0 18 2 18 3 18 1 18 0 18 2 18 5 18 10 18 9 18-4 18-17 18-13 18-8 18 6 18 17" fill="none" stroke="#0072BD" stroke-width="7" stroke-linejoin="round" stroke-linecap="round" transform="scale(.1)"/>
<path d="M2008 1794l18 1 18-1 18-5 18-6 18-2 18 0 18 0 18-5 18-5 18 2 18 10 18 16 18 24 18 51 18-15 18-219 18-102 18 42 18 227 18 213 18 35 18-128 18-103 18-46 18-33 18-28 18-46 18 12 18 37 18 28 18 15 18-1 18 3 18 14 18 16 18 15 18 16 18 19 18-7 18-61 18-71 18 8 18 37 18 18 18-27 18-7 18 11 18 34 18 44 18 7 18-23 18-12 18 4 18 10 18-1 18-9 18-9 18-6 18-2 18 1 18 1 18 2 18-1 18 0 18 0 18 1 18-1 18-3 18-5 18-2 18 5 18 11 18 7 18-4 18-8 18-2 18 14 18 3 18 11" fill="none" stroke="#D95319" stroke-width="7" stroke-linejoin="round" stroke-linecap="round" transform="scale(.1)"/>
<path d="M2008 1799l18 7 18 2 18-4 18-6 18-4 18 3 18 3 18-4 18-10 18-3 18 7 18 17 18 29 18 51 18 30 18-241 18-143 18 3 18 225 18 266 18 84 18-126 18-131 18-54 18-35 18-26 18-50 18-4 18 34 18 25 18 18 18 4 18 6 18 17 18 17 18 16 18 19 18 26 18 5 18-52 18-101 18-6 18 28 18 36 18-24 18-7 18 9 18 30 18 47 18 18 18-24 18-12 18 0 18 10 18-2 18-9 18-6 18-1 18 1 18-2 18-4 18-5 18-4 18-1 18 1 18 2 18-1 18-1 18 1 18 6 18 10 18 13 18 3 18-12 18-18 18-8 18-11 18 4 18 16" fill="none" stroke="#EDB120" stroke-width="7" stroke-linejoin="round" stroke-linecap="round" transform="scale(.1)"/>
<path d="M2008 1813l18 0 18-7 18-5 18 3 18 11 18 8 18-6 18-18 18-17 18 1 18 16 18 22 18 29 18 62 18-42 18-235 18-97 18 67 18 255 18 212 18 12 18-145 18-98 18-48 18-33 18-25 18-41 18 25 18 31 18 14 18 1 18-4 18 14 18 26 18 19 18 11 18 17 18 27 18 2 18-66 18-73 18-4 18 30 18 5 18-25 18 1 18 15 18 41 18 49 18 11 18-16 18-11 18-4 18 0 18-7 18-6 18-2 18-4 18-7 18-3 18 4 18 8 18 4 18-6 18-10 18-6 18 1 18 8 18 5 18-1 18 1 18 7 18 8 18-1 18-7 18-7 18-7 18-16 18 12" fill="none" stroke="#7E2F8E" stroke-width="7" stroke-linejoin="round" stroke-linecap="round" transform="scale(.1)"/>
<path d="M2008 1777l18 5 18 4 18 0 18-3 18 0 18 3 18 2 18-5 18-8 18-5 18 1 18 10 18 24 18 56 18-48 18-179 18-67 18 71 18 209 18 156 18-7 18-119 18-72 18-35 18-24 18-25 18-39 18 17 18 26 18 21 18 9 18 0 18 7 18 16 18 17 18 16 18 17 18 14 18-17 18-67 18-48 18 10 18 38 18 1 18-24 18-3 18 12 18 35 18 40 18 3 18-15 18-7 18 3 18 3 18-7 18-11 18-8 18-4 18-1 18 1 18 2 18 2 18 2 18 1 18 0 18-2 18-3 18-1 18 2 18 5 18 8 18 4 18-5 18-13 18-10 18 1 18 2 18 14 18 17" fill="none" stroke="#77AC30" stroke-width="7" stroke-linejoin="round" stroke-linecap="round" transform="scale(.1)"/>
<path d="M2008 1820l18 2 18 4 18-1 18-5 18-5 18 2 18 5 18 2 18-9 18-11 18-3 18 9 18 22 18 43 18 79 18-136 18-224 18-75 18 142 18 297 18 182 18-57 18-164 18-82 18-46 18-30 18-36 18-37 18 35 18 34 18 25 18 8 18 0 18 12 18 18 18 14 18 14 18 22 18 21 18-24 18-98 18-38 18 16 18 51 18-13 18-23 18 3 18 23 18 48 18 39 18-16 18-24 18-10 18 9 18 8 18-4 18-5 18 0 18 2 18 1 18-4 18-8 18-11 18-9 18-3 18 2 18 5 18 4 18 3 18 5 18 7 18 12 18 11 18-3 18-17 18-15 18-13 18-14 18 1" fill="none" stroke="#4DBEEE" stroke-width="7" stroke-linejoin="round" stroke-linecap="round" transform="scale(.1)"/>
<path d="M2008 1816l18-2 18-4 18-5 18-2 18 6 18 9 18 4 18-8 18-12 18-6 18 7 18 17 18 34 18 67 18-66 18-228 18-85 18 88 18 261 18 194 18-11 18-149 18-89 18-44 18-26 18-23 18-40 18 24 18 28 18 17 18 2 18-4 18 9 18 25 18 24 18 21 18 20 18 17 18-20 18-83 18-58 18 12 18 48 18 3 18-27 18-3 18 14 18 42 18 44 18-1 18-22 18-12 18 4 18 8 18-1 18-4 18-3 18-4 18-8 18-8 18-6 18 0 18 4 18 8 18 5 18 0 18-7 18-7 18-3 18 5 18 14 18 15 18 2 18-14 18-16 18-7 18-11 18 11 18 24" fill="none" stroke="#A2142F" stroke-width="7" stroke-linejoin="round" stroke-linecap="round" transform="scale(.1)"/>
<path d="M2008 1799l18-4 18-7 18-5 18 0 18 8 18 11 18 5 18-10 18-20 18-13 18 4 18 19 18 32 18 47 18 38 18-188 18-140 18-17 18 174 18 230 18 90 18-97 18-119 18-47 18-25 18-15 18-36 18-12 18 23 18 16 18 12 18 3 18 5 18 13 18 14 18 13 18 19 18 29 18 17 18-33 18-88 18-20 18 7 18 26 18-18 18-2 18 15 18 26 18 35 18 12 18-22 18-7 18 11 18 20 18 6 18-12 18-18 18-14 18-8 18-2 18 0 18 0 18 0 18 3 18 5 18 8 18 4 18-1 18-5 18-5 18 1 18 9 18 8 18-4 18-13 18-11 18-27 18 1 18 30" fill="none" stroke="#0072BD" stroke-width="7" stroke-linejoin="round" stroke-linecap="round" transform="scale(.1)"/>
<path d="M2008 1769l18 7 18-4 18-14 18-14 18-3 18 11 18 15 18 5 18-6 18-7 18 2 18 14 18 36 18 74 18-39 18-270 18-126 18 60 18 283 18 252 18 33 18-150 18-110 18-55 18-42 18-34 18-51 18 24 18 41 18 23 18 0 18-15 18-1 18 22 18 32 18 34 18 34 18 28 18-14 18-85 18-80 18 10 18 48 18 7 18-42 18-19 18 6 18 45 18 63 18 21 18-15 18-10 18 1 18 6 18-4 18-6 18-3 18-6 18-12 18-16 18-14 18-3 18 6 18 13 18 11 18 4 18-3 18-4 18 1 18 10 18 15 18 11 18-7 18-28 18-26 18-9 18-33 18 40 18 49" fill="none" stroke="#D95319" stroke-width="7" stroke-linejoin="round" stroke-linecap="round" transform="scale(.1)"/>
<path d="M2008 1786l18 0 18-1 18-5 18-9 18-8 18 1 18 9 18 7 18 2 18-2 18-4 18 3 18 22 18 58 18-37 18-174 18-72 18 58 18 199 18 155 18-2 18-116 18-74 18-36 18-22 18-20 18-35 18 17 18 29 18 28 18 17 18 1 18-3 18-2 18 2 18 12 18 23 18 24 18-9 18-63 18-48 18 11 18 40 18 7 18-23 18-6 18 8 18 31 18 35 18-1 18-19 18-9 18 6 18 8 18-6 18-12 18-7 18 2 18 9 18 9 18 0 18-10 18-11 18-5 18 4 18 7 18 1 18-6 18-6 18 1 18 10 18 14 18 4 18-8 18-8 18-3 18 4 18-12 18-4" fill="none" stroke="#EDB120" stroke-width="7" stroke-linejoin="round" stroke-linecap="round" transform="scale(.1)"/>
<path d="M2008 1797l18 2 18 6 18 4 18-1 18-4 18-2 18 1 18-1 18-4 18 0 18 6 18 11 18 23 18 52 18 46 18-234 18-164 18-18 18 217 18 283 18 109 18-116 18-139 18-59 18-41 18-29 18-47 18-5 18 39 18 24 18 11 18-5 18 0 18 19 18 24 18 22 18 24 18 31 18 10 18-50 18-109 18-15 18 23 18 40 18-23 18-9 18 9 18 27 18 46 18 23 18-20 18-9 18 2 18 9 18-5 18-11 18-4 18 2 18 3 18-3 18-9 18-9 18-5 18 0 18 2 18 1 18-1 18-1 18 5 18 10 18 12 18 12 18 0 18-16 18-19 18-8 18-6 18 5 18 12" fill="none" stroke="#7E2F8E" stroke-width="7" stroke-linejoin="round" stroke-linecap="round" transform="scale(.1)"/>
<path d="M2008 1770l18 10 18 12 18 1 18-11 18-11 18 2 18 10 18 4 18-11 18-13 18 0 18 17 18 34 18 51 18 61 18-222 18-201 18-38 18 211 18 315 18 143 18-114 18-167 18-68 18-37 18-26 18-48 18-25 18 41 18 35 18 22 18-1 18-8 18 11 18 26 18 29 18 27 18 26 18 8 18-48 18-111 18-15 18 23 18 45 18-31 18-18 18 12 18 36 18 54 18 27 18-28 18-16 18 4 18 19 18 2 18-18 18-18 18-6 18 4 18 5 18-1 18-6 18-5 18-1 18 3 18 1 18-3 18-4 18 2 18 10 18 11 18 10 18-1 18-14 18-16 18-2 18 11 18 1 18-2" fill="none" stroke="#77AC30" stroke-width="7" stroke-linejoin="round" stroke-linecap="round" transform="scale(.1)"/>
<path d="M2008 1804l18 1 18-1 18-3 18-3 18 1 18 7 18 5 18-5 18-10 18-5 18 5 18 14 18 28 18 59 18 0 18-249 18-124 18 38 18 254 18 254 18 51 18-147 18-127 18-56 18-36 18-27 18-48 18 13 18 41 18 28 18 14 18-2 18 2 18 15 18 17 18 17 18 22 18 26 18-1 18-62 18-88 18 3 18 37 18 22 18-32 18-10 18 9 18 38 18 51 18 16 18-22 18-11 18 3 18 9 18-4 18-11 18-9 18-5 18-3 18-2 18-1 18 0 18 1 18 2 18 3 18 1 18-2 18-4 18-4 18 0 18 7 18 12 18 5 18-8 18-11 18-3 18 12 18 6 18 14" fill="none" stroke="#4DBEEE" stroke-width="7" stroke-linejoin="round" stroke-linecap="round" transform="scale(.1)"/>
<path d="M2008 1794l12 2 12 3 12 2 12 0 12-3 12-2 12-2 12 1 12 3 12 2 12 1 12-3 12-6 12-5 12-2 12 3 12 7 12 10 12 16 12 22 12 39 12 44 12-87 12-169 12-104 12-50 12 28 12 132 12 199 12 153 12 77 12-36 12-92 12-99 12-47 12-32 12-25 12-19 12-18 12-31 12-29 12 9 12 25 12 19 12 17 12 12 12 5 12 0 12 1 12 8 12 13 12 14 12 12 12 12 12 12 12 16 12 16 12 6 12-18 12-42 12-80 12-24 12 3 12 13 12 39 12 11 12-17 12-14 12-1 12 6 12 12 12 25 12 32 12 27 12 4 12-18 12-13 12-9 12-1 12 6 12 7 12 2 12-4 12-6 12-4 12-3 12-2 12-1 12-1 12-2 12-2 12-2 12-2 12-2 12-2 12-1 12 0 12 1 12 2 12 1 12 1 12 1 12 1 12 1 12 2 12 3 12 6 12 5 12 3 12-3 12-8 12-9 12-7 12-1 12 0 12 2 12 4 12 7 12 12" fill="none" stroke="#ff0000" stroke-width="20" stroke-linejoin="round" stroke-linecap="round" transform="scale(.1)"/>
</g>
<rect x="198.7" y="251.2" width="159.9" height="72.9" fill="none" stroke="#8a8a8a" stroke-width="1.1"/>
<line x1="198.7" y1="324.1" x2="198.7" y2="322.1" stroke="#8a8a8a" stroke-width="0.9"/>
<line x1="198.7" y1="251.2" x2="198.7" y2="253.2" stroke="#8a8a8a" stroke-width="0.9"/>
<text x="198.7" y="335.4" font-family="Liberation Sans" font-size="6.2" text-anchor="middle" font-weight="normal" fill="#262626" stroke="#262626" stroke-width="0.12">0</text>
<line x1="230.7" y1="324.1" x2="230.7" y2="322.1" stroke="#8a8a8a" stroke-width="0.9"/>
<line x1="230.7" y1="251.2" x2="230.7" y2="253.2" stroke="#8a8a8a" stroke-width="0.9"/>
<text x="230.7" y="335.4" font-family="Liberation Sans" font-size="6.2" text-anchor="middle" font-weight="normal" fill="#262626" stroke="#262626" stroke-width="0.12">200</text>
<line x1="262.7" y1="324.1" x2="262.7" y2="322.1" stroke="#8a8a8a" stroke-width="0.9"/>
<line x1="262.7" y1="251.2" x2="262.7" y2="253.2" stroke="#8a8a8a" stroke-width="0.9"/>
<text x="262.7" y="335.4" font-family="Liberation Sans" font-size="6.2" text-anchor="middle" font-weight="normal" fill="#262626" stroke="#262626" stroke-width="0.12">400</text>
<line x1="294.6" y1="324.1" x2="294.6" y2="322.1" stroke="#8a8a8a" stroke-width="0.9"/>
<line x1="294.6" y1="251.2" x2="294.6" y2="253.2" stroke="#8a8a8a" stroke-width="0.9"/>
<text x="294.6" y="335.4" font-family="Liberation Sans" font-size="6.2" text-anchor="middle" font-weight="normal" fill="#262626" stroke="#262626" stroke-width="0.12">600</text>
<line x1="326.6" y1="324.1" x2="326.6" y2="322.1" stroke="#8a8a8a" stroke-width="0.9"/>
<line x1="326.6" y1="251.2" x2="326.6" y2="253.2" stroke="#8a8a8a" stroke-width="0.9"/>
<text x="326.6" y="335.4" font-family="Liberation Sans" font-size="6.2" text-anchor="middle" font-weight="normal" fill="#262626" stroke="#262626" stroke-width="0.12">800</text>
<line x1="358.6" y1="324.1" x2="358.6" y2="322.1" stroke="#8a8a8a" stroke-width="0.9"/>
<line x1="358.6" y1="251.2" x2="358.6" y2="253.2" stroke="#8a8a8a" stroke-width="0.9"/>
<text x="358.6" y="335.4" font-family="Liberation Sans" font-size="6.2" text-anchor="middle" font-weight="normal" fill="#262626" stroke="#262626" stroke-width="0.12">1000</text>
<line x1="198.7" y1="263" x2="200.7" y2="263" stroke="#8a8a8a" stroke-width="0.9"/>
<line x1="358.6" y1="263" x2="356.6" y2="263" stroke="#8a8a8a" stroke-width="0.9"/>
<text x="195.3" y="265.2" font-family="Liberation Sans" font-size="6.2" text-anchor="end" font-weight="normal" fill="#262626" stroke="#262626" stroke-width="0.12">1</text>
<line x1="198.7" y1="287.6" x2="200.7" y2="287.6" stroke="#8a8a8a" stroke-width="0.9"/>
<line x1="358.6" y1="287.6" x2="356.6" y2="287.6" stroke="#8a8a8a" stroke-width="0.9"/>
<text x="195.3" y="289.8" font-family="Liberation Sans" font-size="6.2" text-anchor="end" font-weight="normal" fill="#262626" stroke="#262626" stroke-width="0.12">0</text>
<line x1="198.7" y1="312.2" x2="200.7" y2="312.2" stroke="#8a8a8a" stroke-width="0.9"/>
<line x1="358.6" y1="312.2" x2="356.6" y2="312.2" stroke="#8a8a8a" stroke-width="0.9"/>
<text x="195.3" y="314.4" font-family="Liberation Sans" font-size="6.2" text-anchor="end" font-weight="normal" fill="#262626" stroke="#262626" stroke-width="0.12">-1</text>
<text x="284" y="247.2" font-family="Liberation Sans" font-size="6.9" text-anchor="middle" font-weight="bold" fill="#111" stroke="#111" stroke-width="0.15">Z axis</text>
<text x="280.2" y="346" font-family="Liberation Sans" font-size="6.9" text-anchor="middle" font-weight="normal" fill="#262626" stroke="#262626" stroke-width="0.12">time (ms)</text>
<text x="188.6" y="290.9" font-family="Liberation Sans" font-size="6.9" text-anchor="middle" font-weight="normal" fill="#262626" transform="rotate(-90 188.6 290.9)" stroke="#262626" stroke-width="0.12">angular Velocity (°/s)</text>
<clipPath id="cbz"><rect x="198.7" y="251.2" width="159.9" height="72.9"/></clipPath>
<g clip-path="url(#cbz)">
<path d="M1988 2805l18-4 18 22 18 36 18 35 18 23 18 10 18-5 18-32 18-36 18-20 18 3 18 19 18 19 18 8 18-5 18-17 18-74 18-62 18 84 18 146 18 99 18-66 18-121 18-72 18-46 18-45 18 24 18 43 18 41 18 45 18 40 18 32 18 27 18 33 18-3 18-46 18-68 18-78 18-62 18 4 18 80 18 98 18 80 18-4 18-92 18-91 18-12 18 46 18 47 18 22 18 4 18-11 18-10 18-14 18-21 18-22 18-15 18-21 18-14 18-2 18 6 18 29 18 49 18 54 18 31 18-22 18-63 18-58 18-23 18 27 18 51 18 41 18 15 18-11 18-23 18-24 18-16 18-3 18 18" fill="none" stroke="#0072BD" stroke-width="7" stroke-linejoin="round" stroke-linecap="round" transform="scale(.1)"/>
<path d="M1988 2862l18 2 18 6 18 8 18 6 18 6 18 0 18-13 18-11 18-5 18 2 18 3 18 5 18 8 18 10 18-4 18-71 18-49 18 69 18 115 18 66 18-80 18-97 18-48 18-29 18-21 18 42 18 38 18 27 18 24 18 24 18 25 18 27 18 31 18-13 18-47 18-60 18-61 18-44 18 20 18 71 18 86 18 69 18-21 18-86 18-89 18-9 18 39 18 53 18 39 18 17 18-11 18-26 18-38 18-36 18-22 18-8 18 7 18 17 18 17 18 5 18 4 18 6 18 19 18 26 18 11 18-8 18-22 18-30 18-20 18-10 18 9 18 25 18 33 18 27 18 11 18-11 18-24 18-21 18-7" fill="none" stroke="#D95319" stroke-width="7" stroke-linejoin="round" stroke-linecap="round" transform="scale(.1)"/>
<path d="M1988 2904l18-3 18 4 18 8 18 8 18 6 18 7 18 8 18-4 18-2 18-1 18-4 18-10 18-15 18-7 18 4 18 2 18-63 18-44 18 83 18 136 18 82 18-81 18-110 18-62 18-46 18-39 18 35 18 42 18 39 18 41 18 35 18 25 18 18 18 21 18-16 18-39 18-42 18-42 18-39 18 6 18 46 18 58 18 54 18-16 18-69 18-66 18 10 18 46 18 43 18 20 18 5 18-9 18-11 18-19 18-27 18-30 18-29 18-28 18-8 18 15 18 24 18 34 18 36 18 36 18 28 18 1 18-23 18-35 18-36 18-21 18-8 18 6 18 19 18 23 18 22 18 16 18 5 18 0 18 1" fill="none" stroke="#EDB120" stroke-width="7" stroke-linejoin="round" stroke-linecap="round" transform="scale(.1)"/>
<path d="M1988 2881l18-17 18 12 18 40 18 44 18 24 18-3 18-28 18-31 18-13 18 2 18 3 18-6 18-11 18-1 18 11 18-9 18-52 18 4 18 71 18 92 18 30 18-58 18-58 18-45 18-57 18-31 18 20 18 31 18 41 18 41 18 28 18 14 18 8 18 8 18-18 18-18 18-24 18-27 18-27 18 14 18 29 18 41 18 28 18-43 18-62 18-42 18 25 18 49 18 50 18 29 18-5 18-26 18-23 18-12 18 2 18-6 18-20 18-61 18-45 18-3 18 43 18 66 18 50 18 22 18 0 18-9 18 0 18-4 18-18 18-29 18-26 18-3 18 17 18 17 18-1 18-16 18-12 18 13 18 36" fill="none" stroke="#7E2F8E" stroke-width="7" stroke-linejoin="round" stroke-linecap="round" transform="scale(.1)"/>
<path d="M1988 2864l18-2 18 9 18 19 18 21 18 14 18 8 18-5 18-22 18-19 18-8 18 3 18 8 18 7 18 6 18 1 18-20 18-87 18-41 18 89 18 144 18 82 18-78 18-103 18-65 18-55 18-37 18 39 18 46 18 45 18 42 18 30 18 19 18 13 18 15 18-21 18-37 18-43 18-40 18-34 18 20 18 56 18 65 18 52 18-32 18-79 18-71 18 9 18 43 18 42 18 24 18 7 18-7 18-8 18-17 18-21 18-26 18-21 18-31 18-12 18 7 18 20 18 34 18 36 18 35 18 20 18-11 18-28 18-31 18-20 18 1 18 10 18 13 18 12 18 7 18 4 18 0 18-1 18 1 18 6" fill="none" stroke="#77AC30" stroke-width="7" stroke-linejoin="round" stroke-linecap="round" transform="scale(.1)"/>
<path d="M1988 2845l18-3 18 10 18 18 18 21 18 15 18 3 18-7 18-17 18-21 18-10 18 3 18 10 18 8 18 1 18-5 18-7 18-17 18-38 18 4 18 61 18 77 18 28 18-51 18-59 18-39 18-34 18-14 18 23 18 26 18 26 18 24 18 17 18 9 18 5 18 3 18-15 18-17 18-17 18-14 18-12 18 14 18 23 18 25 18 19 18-25 18-37 18-29 18 9 18 16 18 15 18 11 18 10 18 10 18 8 18-2 18-15 18-17 18-36 18-30 18-10 18 10 18 23 18 29 18 24 18 16 18 3 18-15 18-18 18-14 18-2 18 10 18 14 18 10 18 1 18-7 18-10 18-8 18 0 18 10" fill="none" stroke="#4DBEEE" stroke-width="7" stroke-linejoin="round" stroke-linecap="round" transform="scale(.1)"/>
<path d="M1988 2821l18-6 18 25 18 41 18 34 18 15 18-1 18-6 18-17 18-20 18-21 18-19 18-9 18 10 18 27 18 27 18 3 18-74 18-76 18 61 18 132 18 98 18-59 18-114 18-71 18-39 18-23 18 40 18 42 18 24 18 24 18 28 18 25 18 17 18 13 18-14 18-30 18-19 18-20 18-29 18-10 18 25 18 42 18 50 18-4 18-70 18-76 18-6 18 52 18 66 18 43 18 11 18-23 18-29 18-23 18-17 18-19 18-27 18-43 18-24 18 17 18 43 18 53 18 34 18 14 18 3 18-10 18-18 18-19 18-22 18-5 18 14 18 28 18 25 18-1 18-28 18-36 18-17 18 14 18 38" fill="none" stroke="#A2142F" stroke-width="7" stroke-linejoin="round" stroke-linecap="round" transform="scale(.1)"/>
<path d="M1988 2813l18-7 18 4 18 15 18 18 18 17 18 1 18-16 18-19 18-14 18-5 18 6 18 13 18 16 18 11 18-18 18-67 18-14 18 59 18 85 18 29 18-61 18-60 18-33 18-33 18-12 18 30 18 29 18 30 18 31 18 23 18 14 18 6 18-2 18-33 18-35 18-31 18-17 18-3 18 40 18 46 18 39 18 17 18-54 18-64 18-40 18 26 18 43 18 37 18 18 18-4 18-18 18-19 18-19 18-10 18-6 18-3 18 3 18-5 18-10 18-10 18 2 18 17 18 33 18 34 18 14 18-2 18-19 18-24 18-17 18-10 18-1 18 7 18 9 18 8 18 4 18 1 18 4 18 10 18 15" fill="none" stroke="#0072BD" stroke-width="7" stroke-linejoin="round" stroke-linecap="round" transform="scale(.1)"/>
<path d="M1988 2826l18-2 18 1 18 5 18 13 18 15 18 1 18-9 18-15 18-18 18-12 18 0 18 17 18 25 18 9 18-67 18-78 18 45 18 114 18 96 18-36 18-81 18-50 18-45 18-52 18 9 18 23 18 24 18 33 18 40 18 43 18 42 18 40 18-5 18-49 18-63 18-65 18-46 18 7 18 61 18 67 18 53 18-17 18-78 18-69 18 10 18 62 18 59 18 27 18-2 18-27 18-30 18-30 18-27 18-21 18-15 18-8 18 8 18 19 18 16 18 18 18 17 18 22 18 25 18 8 18-15 18-28 18-33 18-18 18-1 18 15 18 23 18 17 18 6 18-5 18-9 18-3 18 10 18 19 18 17" fill="none" stroke="#D95319" stroke-width="7" stroke-linejoin="round" stroke-linecap="round" transform="scale(.1)"/>
<path d="M1988 2864l18 4 18 3 18 4 18 5 18 4 18 0 18-16 18-18 18-7 18 5 18 8 18 3 18 3 18 10 18 16 18-28 18-64 18 20 18 71 18 72 18-14 18-66 18-49 18-42 18-48 18 5 18 43 18 44 18 37 18 25 18 16 18 16 18 22 18 2 18-37 18-47 18-48 18-33 18-2 18 44 18 49 18 50 18 19 18-47 18-56 18-25 18 22 18 31 18 27 18 17 18-5 18-20 18-25 18-22 18-10 18-6 18-5 18-12 18 0 18 11 18 23 18 24 18 18 18 13 18 0 18-16 18-20 18-24 18-10 18 8 18 23 18 25 18 9 18-10 18-14 18-5 18 11 18 15 18 2" fill="none" stroke="#EDB120" stroke-width="7" stroke-linejoin="round" stroke-linecap="round" transform="scale(.1)"/>
<path d="M1988 2847l18 3 18 9 18 13 18 10 18 3 18-3 18-9 18-21 18-13 18 2 18 15 18 16 18 11 18 5 18-2 18-19 18-89 18-65 18 79 18 144 18 97 18-70 18-107 18-65 18-50 18-42 18 37 18 47 18 45 18 43 18 37 18 25 18 15 18 15 18-26 18-52 18-53 18-44 18-30 18 26 18 70 18 77 18 59 18-27 18-92 18-90 18-5 18 42 18 48 18 31 18 15 18 0 18-2 18-11 18-23 18-34 18-37 18-49 18-26 18 10 18 35 18 57 18 56 18 43 18 17 18-23 18-47 18-43 18-25 18 6 18 19 18 21 18 16 18 6 18-1 18-2 18-4 18 0 18 8" fill="none" stroke="#7E2F8E" stroke-width="7" stroke-linejoin="round" stroke-linecap="round" transform="scale(.1)"/>
<path d="M1988 2867l18 1 18 3 18 6 18 7 18 9 18 15 18 2 18-12 18-9 18-6 18-3 18-2 18 2 18 6 18 5 18-48 18-117 18 14 18 145 18 170 18 32 18-134 18-119 18-67 18-62 18-8 18 57 18 43 18 41 18 44 18 46 18 45 18 44 18 22 18-51 18-70 18-82 18-66 18-36 18 53 18 82 18 94 18 65 18-63 18-92 18-66 18 24 18 41 18 35 18 25 18 7 18-8 18-19 18-35 18-31 18-25 18-9 18-15 18-4 18 1 18 15 18 38 18 46 18 40 18 9 18-34 18-35 18-19 18 12 18 26 18 7 18-12 18-22 18-9 18 12 18 22 18 17 18 6 18 3" fill="none" stroke="#77AC30" stroke-width="7" stroke-linejoin="round" stroke-linecap="round" transform="scale(.1)"/>
<path d="M1988 2894l18-9 18-5 18 2 18 11 18 10 18 5 18 5 18-6 18-11 18 1 18 3 18-2 18-7 18-2 18 12 18 13 18-57 18-138 18 15 18 155 18 184 18 28 18-139 18-119 18-72 18-71 18-2 18 65 18 46 18 37 18 38 18 42 18 51 18 58 18 32 18-50 18-75 18-92 18-76 18-39 18 59 18 90 18 102 18 61 18-81 18-109 18-66 18 39 18 62 18 53 18 34 18 0 18-24 18-37 18-47 18-35 18-25 18-20 18-17 18 7 18 25 18 43 18 49 18 35 18 15 18-13 18-40 18-24 18-8 18 10 18 16 18 4 18 3 18 2 18 4 18 2 18-3 18-3 18 8" fill="none" stroke="#4DBEEE" stroke-width="7" stroke-linejoin="round" stroke-linecap="round" transform="scale(.1)"/>
<path d="M1988 2820l18 9 18 14 18 16 18 10 18 3 18-2 18-17 18-20 18-12 18-2 18 6 18 12 18 15 18 13 18 2 18-48 18-68 18 27 18 85 18 79 18-16 18-68 18-48 18-36 18-39 18 6 18 31 18 32 18 36 18 32 18 21 18 10 18 5 18-13 18-34 18-31 18-26 18-17 18 6 18 44 18 43 18 35 18-6 18-67 18-64 18-14 18 40 18 51 18 36 18 18 18-9 18-21 18-29 18-29 18-20 18-11 18-4 18 3 18 9 18 7 18 10 18 15 18 19 18 22 18 10 18-9 18-16 18-21 18-11 18-5 18 1 18 7 18 9 18 11 18 12 18 8 18 3 18-2 18-6" fill="none" stroke="#A2142F" stroke-width="7" stroke-linejoin="round" stroke-linecap="round" transform="scale(.1)"/>
<path d="M1988 2911l18 8 18 9 18 9 18 4 18 0 18 2 18-5 18-14 18-9 18-1 18 3 18 5 18 6 18 8 18 7 18-18 18-76 18-23 18 74 18 109 18 46 18-74 18-75 18-40 18-42 18-26 18 26 18 28 18 36 18 42 18 40 18 29 18 18 18 6 18-36 18-47 18-48 18-36 18-22 18 32 18 55 18 59 18 42 18-40 18-66 18-51 18 21 18 38 18 30 18 11 18-6 18-12 18-7 18-8 18-10 18-18 18-20 18-35 18-19 18 6 18 28 18 47 18 45 18 34 18 6 18-29 18-41 18-34 18-14 18 10 18 17 18 16 18 12 18 5 18 3 18 3 18 1 18 3 18 5" fill="none" stroke="#0072BD" stroke-width="7" stroke-linejoin="round" stroke-linecap="round" transform="scale(.1)"/>
<path d="M1988 2880l18-9 18 5 18 18 18 19 18 10 18 3 18-10 18-20 18-8 18 3 18 4 18-1 18 0 18 10 18 18 18-15 18-107 18-38 18 99 18 152 18 64 18-109 18-110 18-60 18-61 18-32 18 56 18 57 18 57 18 49 18 34 18 22 18 23 18 27 18-30 18-58 18-78 18-74 18-51 18 47 18 96 18 107 18 74 18-64 18-111 18-87 18 28 18 63 18 52 18 20 18-8 18-21 18-15 18-21 18-26 18-33 18-32 18-27 18 10 18 35 18 38 18 34 18 20 18 15 18 10 18-12 18-20 18-27 18-22 18-4 18 9 18 20 18 21 18 10 18-1 18-8 18-4 18 10 18 21" fill="none" stroke="#D95319" stroke-width="7" stroke-linejoin="round" stroke-linecap="round" transform="scale(.1)"/>
<path d="M1988 2831l18 11 18 28 18 26 18 9 18-6 18-5 18 6 18 7 18 5 18-1 18-11 18-15 18-9 18 3 18 9 18 1 18-52 18-62 18 46 18 111 18 94 18-26 18-92 18-75 18-48 18-27 18 38 18 55 18 33 18 11 18 1 18 6 18 20 18 35 18 12 18-29 18-46 18-50 18-34 18 3 18 48 18 53 18 45 18 5 18-48 18-47 18-9 18 18 18 9 18-3 18 2 18 11 18 19 18 8 18-17 18-32 18-33 18-22 18 8 18 27 18 22 18 9 18-2 18 0 18 8 18 1 18-15 18-18 18-10 18 15 18 35 18 34 18 14 18-15 18-34 18-30 18-7 18 16 18 24" fill="none" stroke="#EDB120" stroke-width="7" stroke-linejoin="round" stroke-linecap="round" transform="scale(.1)"/>
<path d="M1988 2846l18-17 18-1 18 17 18 28 18 27 18 20 18-2 18-27 18-26 18-13 18 3 18 13 18 14 18 13 18 4 18-32 18-113 18-48 18 102 18 165 18 87 18-92 18-112 18-65 18-57 18-36 18 46 18 48 18 45 18 43 18 35 18 26 18 20 18 21 18-30 18-51 18-57 18-50 18-35 18 35 18 74 18 80 18 58 18-50 18-98 18-80 18 22 18 56 18 50 18 21 18-4 18-19 18-14 18-15 18-14 18-20 18-14 18-38 18-22 18 1 18 23 18 47 18 52 18 42 18 14 18-33 18-51 18-42 18-12 18 25 18 36 18 30 18 10 18-11 18-17 18-12 18 1 18 15 18 21" fill="none" stroke="#7E2F8E" stroke-width="7" stroke-linejoin="round" stroke-linecap="round" transform="scale(.1)"/>
<path d="M1988 2823l18-3 18 9 18 20 18 23 18 22 18 19 18-9 18-25 18-18 18-10 18-3 18-2 18 4 18 13 18 12 18-70 18-147 18 37 18 181 18 195 18 8 18-160 18-122 18-70 18-80 18-6 18 64 18 52 18 55 18 56 18 49 18 42 18 45 18 22 18-54 18-73 18-92 18-80 18-36 18 79 18 112 18 115 18 49 18-120 18-144 18-73 18 60 18 87 18 65 18 35 18-5 18-23 18-28 18-41 18-41 18-44 18-37 18-29 18 8 18 29 18 44 18 50 18 43 18 36 18 11 18-29 18-33 18-33 18-11 18 9 18 13 18 16 18 10 18 4 18-1 18-5 18-5 18 6 18 15" fill="none" stroke="#77AC30" stroke-width="7" stroke-linejoin="round" stroke-linecap="round" transform="scale(.1)"/>
<path d="M1988 2826l18 2 18 14 18 23 18 23 18 17 18 10 18-11 18-28 18-25 18-14 18-1 18 6 18 11 18 15 18 11 18-27 18-95 18-10 18 106 18 140 18 45 18-103 18-101 18-60 18-59 18-23 18 46 18 44 18 48 18 47 18 38 18 27 18 21 18 14 18-37 18-49 18-57 18-47 18-33 18 38 18 62 18 70 18 49 18-58 18-79 18-55 18 35 18 51 18 40 18 17 18-5 18-17 18-16 18-24 18-22 18-25 18-23 18-27 18-6 18 12 18 29 18 44 18 45 18 38 18 15 18-25 18-39 18-40 18-22 18 3 18 13 18 18 18 13 18 8 18 3 18 1 18 1 18 8 18 14" fill="none" stroke="#4DBEEE" stroke-width="7" stroke-linejoin="round" stroke-linecap="round" transform="scale(.1)"/>
<path d="M1988 2867l18-13 18-3 18 6 18 10 18 7 18 3 18-2 18-8 18-5 18 4 18 13 18 15 18 9 18 1 18-8 18-18 18-48 18-45 18 27 18 69 18 62 18-8 18-44 18-34 18-29 18-29 18 7 18 24 18 24 18 26 18 20 18 11 18 3 18 3 18-10 18-22 18-21 18-19 18-16 18 1 18 25 18 31 18 29 18 4 18-30 18-30 18-3 18 20 18 17 18 4 18-6 18-12 18-10 18-7 18-6 18-5 18-4 18-5 18 0 18 10 18 15 18 19 18 15 18 7 18-5 18-21 18-31 18-23 18-9 18 12 18 25 18 26 18 19 18 7 18-4 18-8 18-7 18-4 18 2" fill="none" stroke="#A2142F" stroke-width="7" stroke-linejoin="round" stroke-linecap="round" transform="scale(.1)"/>
<path d="M1988 2845l18-11 18 0 18 14 18 30 18 38 18 17 18-12 18-26 18-34 18-29 18-12 18 11 18 34 18 36 18-32 18-119 18-1 18 117 18 142 18 15 18-121 18-87 18-40 18-51 18-11 18 41 18 27 18 32 18 42 18 49 18 48 18 47 18 21 18-49 18-71 18-81 18-64 18-25 18 69 18 93 18 89 18 36 18-101 18-119 18-60 18 59 18 85 18 65 18 27 18-17 18-41 18-43 18-40 18-23 18-12 18-7 18 6 18 3 18 2 18 5 18 17 18 27 18 37 18 27 18-5 18-15 18-21 18-13 18-1 18-1 18 1 18 2 18 2 18 5 18 4 18 2 18 7 18 13 18 17" fill="none" stroke="#0072BD" stroke-width="7" stroke-linejoin="round" stroke-linecap="round" transform="scale(.1)"/>
<path d="M1988 2895l18 2 18 5 18 4 18 2 18 4 18-4 18-7 18-4 18-5 18-6 18-2 18 10 18 20 18 19 18-38 18-83 18 19 18 89 18 90 18-15 18-89 18-61 18-34 18-34 18 13 18 40 18 28 18 27 18 29 18 32 18 30 18 28 18 0 18-47 18-58 18-59 18-41 18-6 18 55 18 68 18 66 18 28 18-59 18-72 18-36 18 23 18 34 18 29 18 19 18 0 18-16 18-27 18-33 18-22 18-9 18 0 18 12 18 10 18 6 18 11 18 18 18 21 18 16 18-6 18-28 18-22 18-9 18 10 18 13 18 2 18-4 18-2 18 13 18 24 18 19 18 1 18-16 18-19 18-10" fill="none" stroke="#D95319" stroke-width="7" stroke-linejoin="round" stroke-linecap="round" transform="scale(.1)"/>
<path d="M1988 2843l18 2 18 11 18 16 18 14 18 9 18 7 18 2 18-17 18-14 18-4 18 3 18 0 18-2 18 3 18 7 18-6 18-109 18-91 18 108 18 200 18 135 18-101 18-152 18-86 18-63 18-61 18 44 18 56 18 49 18 51 18 49 18 43 18 38 18 42 18-16 18-63 18-75 18-76 18-62 18 14 18 88 18 102 18 87 18-27 18-121 18-118 18 1 18 69 18 73 18 42 18 17 18-10 18-16 18-29 18-41 18-47 18-42 18-44 18-13 18 24 18 39 18 54 18 47 18 37 18 19 18-18 18-37 18-27 18-10 18 16 18 16 18 5 18-7 18-12 18-5 18 6 18 11 18 11 18 12" fill="none" stroke="#EDB120" stroke-width="7" stroke-linejoin="round" stroke-linecap="round" transform="scale(.1)"/>
<path d="M1988 2869l18-13 18-5 18 7 18 16 18 15 18 12 18 0 18-19 18-14 18-3 18 3 18-1 18-5 18-1 18 7 18-4 18-86 18-48 18 102 18 158 18 84 18-107 18-126 18-66 18-53 18-45 18 42 18 50 18 52 18 57 18 50 18 33 18 18 18 16 18-32 18-54 18-58 18-56 18-48 18 19 18 72 18 91 18 80 18-27 18-100 18-102 18-2 18 50 18 63 18 46 18 21 18-10 18-27 18-42 18-43 18-36 18-28 18-20 18 1 18 23 18 36 18 52 18 50 18 34 18 4 18-44 18-60 18-43 18-7 18 32 18 40 18 27 18 5 18-11 18-12 18-5 18 2 18 5 18 9" fill="none" stroke="#7E2F8E" stroke-width="7" stroke-linejoin="round" stroke-linecap="round" transform="scale(.1)"/>
<path d="M1988 2866l18 10 18 10 18 6 18 8 18 16 18 5 18-14 18-17 18-17 18-12 18 1 18 17 18 31 18 25 18-39 18-137 18-25 18 120 18 166 18 46 18-128 18-109 18-46 18-48 18-11 18 50 18 27 18 26 18 39 18 53 18 59 18 55 18 30 18-58 18-87 18-95 18-70 18-31 18 72 18 104 18 105 18 63 18-86 18-123 18-90 18 29 18 64 18 63 18 43 18 12 18-16 18-33 18-49 18-42 18-32 18-20 18-9 18 4 18 12 18 22 18 43 18 51 18 49 18 19 18-35 18-52 18-46 18-16 18 17 18 24 18 21 18 12 18 4 18 1 18-3 18-8 18-4 18 7 18 21" fill="none" stroke="#77AC30" stroke-width="7" stroke-linejoin="round" stroke-linecap="round" transform="scale(.1)"/>
<path d="M1988 2878l18 4 18 11 18 13 18 9 18 3 18-3 18-10 18-20 18-14 18-1 18 10 18 15 18 15 18 12 18 5 18-17 18-75 18-46 18 55 18 102 18 62 18-54 18-71 18-39 18-34 18-26 18 27 18 30 18 29 18 28 18 24 18 18 18 14 18 15 18-16 18-33 18-36 18-34 18-27 18 15 18 45 18 51 18 41 18-25 18-61 18-54 18 11 18 39 18 38 18 19 18 1 18-13 18-17 18-21 18-20 18-18 18-13 18-10 18 4 18 16 18 18 18 21 18 18 18 13 18 4 18-15 18-21 18-16 18-5 18 12 18 14 18 11 18 4 18-3 18-5 18-4 18-2 18 4 18 9" fill="none" stroke="#4DBEEE" stroke-width="7" stroke-linejoin="round" stroke-linecap="round" transform="scale(.1)"/>
<path d="M1988 2884l18 2 18 10 18 13 18 12 18 5 18-2 18-7 18-23 18-21 18-10 18 1 18 9 18 13 18 17 18 16 18 4 18-65 18-72 18 56 18 122 18 92 18-56 18-110 18-73 18-50 18-43 18 29 18 53 18 48 18 46 18 38 18 27 18 19 18 21 18-11 18-44 18-52 18-56 18-47 18-4 18 52 18 67 18 65 18 6 18-67 18-69 18-5 18 43 18 44 18 22 18 5 18-12 18-15 18-19 18-26 18-28 18-30 18-28 18-11 18 15 18 29 18 43 18 43 18 36 18 21 18-10 18-35 18-39 18-30 18-6 18 9 18 14 18 12 18 5 18 2 18 1 18 5 18 10 18 17" fill="none" stroke="#A2142F" stroke-width="7" stroke-linejoin="round" stroke-linecap="round" transform="scale(.1)"/>
<path d="M1988 2830l18-18 18-5 18 9 18 18 18 22 18 20 18 0 18-13 18-11 18-6 18-1 18 3 18 6 18 5 18-3 18-59 18-94 18 32 18 116 18 118 18 2 18-82 18-61 18-43 18-54 18-6 18 26 18 25 18 31 18 35 18 34 18 30 18 30 18 8 18-33 18-41 18-50 18-43 18-18 18 42 18 53 18 55 18 18 18-66 18-70 18-19 18 46 18 51 18 30 18 10 18-13 18-20 18-21 18-24 18-22 18-22 18-20 18-13 18 9 18 21 18 35 18 39 18 34 18 20 18-8 18-41 18-44 18-33 18-4 18 21 18 31 18 31 18 18 18 4 18-9 18-16 18-13 18-4 18 8" fill="none" stroke="#0072BD" stroke-width="7" stroke-linejoin="round" stroke-linecap="round" transform="scale(.1)"/>
<path d="M1988 2837l18-8 18 7 18 18 18 22 18 21 18 13 18-12 18-22 18-14 18-5 18 4 18 9 18 13 18 13 18 0 18-84 18-107 18 59 18 153 18 131 18-44 18-124 18-81 18-55 18-56 18 24 18 54 18 48 18 51 18 46 18 37 18 25 18 23 18-15 18-62 18-66 18-65 18-46 18 7 18 81 18 94 18 82 18 5 18-104 18-108 18-29 18 51 18 62 18 39 18 16 18-11 18-19 18-23 18-27 18-25 18-26 18-22 18-22 18 1 18 13 18 33 18 47 18 50 18 43 18 7 18-33 18-44 18-45 18-19 18 1 18 13 18 19 18 17 18 14 18 9 18 5 18 6 18 12 18 15" fill="none" stroke="#D95319" stroke-width="7" stroke-linejoin="round" stroke-linecap="round" transform="scale(.1)"/>
<path d="M1988 2892l18-14 18-3 18 11 18 19 18 15 18-3 18-20 18-16 18-3 18 11 18 13 18 5 18-3 18-8 18-24 18-48 18 7 18 64 18 73 18 14 18-61 18-50 18-21 18-25 18-14 18 12 18 12 18 26 18 39 18 40 18 26 18 6 18-13 18-41 18-37 18-29 18-15 18-6 18 28 18 40 18 43 18 32 18-31 18-51 18-44 18 3 18 22 18 28 18 24 18 9 18-8 18-19 18-24 18-17 18-7 18-1 18 4 18-1 18 0 18 6 18 18 18 22 18 18 18 0 18-25 18-29 18-18 18 5 18 22 18 22 18 15 18 5 18-3 18-5 18-8 18-13 18-13 18-7 18 5" fill="none" stroke="#EDB120" stroke-width="7" stroke-linejoin="round" stroke-linecap="round" transform="scale(.1)"/>
<path d="M1988 2883l18-3 18 6 18 13 18 15 18 15 18 5 18-17 18-21 18-13 18-1 18 7 18 12 18 16 18 11 18-12 18-104 18-84 18 80 18 161 18 115 18-69 18-108 18-62 18-57 18-59 18 25 18 36 18 39 18 47 18 49 18 43 18 34 18 31 18-21 18-58 18-65 18-63 18-48 18 17 18 73 18 85 18 72 18-23 18-94 18-92 18 4 18 54 18 55 18 27 18 2 18-19 18-18 18-19 18-18 18-16 18-18 18-13 18-20 18-7 18 1 18 20 18 33 18 44 18 40 18 9 18-18 18-27 18-25 18-6 18 3 18 8 18 9 18 4 18 1 18-3 18-4 18-2 18 9 18 16" fill="none" stroke="#7E2F8E" stroke-width="7" stroke-linejoin="round" stroke-linecap="round" transform="scale(.1)"/>
<path d="M1988 2895l18-13 18-2 18 10 18 18 18 18 18 14 18 3 18-15 18-15 18-11 18-8 18-7 18 0 18 15 18 24 18 1 18-94 18-67 18 78 18 145 18 91 18-84 18-104 18-56 18-56 18-48 18 36 18 45 18 45 18 45 18 39 18 32 18 30 18 33 18-21 18-57 18-73 18-68 18-48 18 34 18 87 18 95 18 68 18-46 18-109 18-95 18 13 18 60 18 60 18 32 18 9 18-11 18-17 18-29 18-37 18-38 18-30 18-16 18 10 18 26 18 21 18 20 18 19 18 28 18 32 18 6 18-17 18-33 18-33 18-12 18 3 18 16 18 18 18 10 18 6 18 5 18 6 18 6 18 5" fill="none" stroke="#77AC30" stroke-width="7" stroke-linejoin="round" stroke-linecap="round" transform="scale(.1)"/>
<path d="M1988 2845l18 6 18 10 18 11 18 12 18 16 18 10 18-12 18-15 18-13 18-10 18-8 18-3 18 10 18 17 18-9 18-109 18-56 18 116 18 185 18 98 18-119 18-141 18-76 18-65 18-46 18 50 18 53 18 51 18 57 18 54 18 45 18 37 18 30 18-37 18-73 18-83 18-75 18-52 18 36 18 94 18 107 18 83 18-46 18-115 18-103 18 18 18 66 18 63 18 29 18-2 18-27 18-27 18-29 18-23 18-19 18-18 18-9 18-12 18 1 18 8 18 27 18 37 18 45 18 36 18-5 18-30 18-38 18-28 18 0 18 13 18 23 18 21 18 13 18 2 18-9 18-18 18-15 18 0 18 15" fill="none" stroke="#4DBEEE" stroke-width="7" stroke-linejoin="round" stroke-linecap="round" transform="scale(.1)"/>
<path d="M1988 2835l18-4 18 18 18 31 18 29 18 18 18 8 18 0 18-20 18-24 18-14 18-5 18-1 18 1 18 4 18 11 18 6 18-70 18-99 18 68 18 160 18 139 18-39 18-131 18-95 18-74 18-75 18 18 18 67 18 66 18 58 18 38 18 20 18 21 18 40 18 15 18-40 18-66 18-84 18-68 18-6 18 79 18 89 18 72 18-2 18-99 18-86 18-2 18 65 18 52 18 17 18 4 18-3 18 0 18-13 18-42 18-53 18-51 18-29 18 2 18 28 18 28 18 35 18 46 18 54 18 42 18-5 18-60 18-69 18-49 18 2 18 35 18 36 18 21 18 3 18-3 18 4 18 10 18 11 18 9" fill="none" stroke="#A2142F" stroke-width="7" stroke-linejoin="round" stroke-linecap="round" transform="scale(.1)"/>
<path d="M1988 2863l18-7 18 4 18 14 18 21 18 23 18 7 18-6 18-10 18-11 18-10 18-10 18-5 18 2 18 4 18-37 18-70 18 35 18 105 18 102 18-6 18-88 18-62 18-35 18-40 18 1 18 26 18 15 18 19 18 26 18 33 18 37 18 39 18 17 18-31 18-48 18-58 18-47 18-16 18 47 18 62 18 57 18 17 18-72 18-78 18-31 18 41 18 56 18 42 18 22 18-6 18-20 18-25 18-30 18-25 18-23 18-18 18-12 18 8 18 18 18 28 18 32 18 27 18 19 18 0 18-22 18-20 18-15 18 1 18 8 18 2 18-4 18-9 18-7 18 2 18 11 18 17 18 19 18 15 18 8" fill="none" stroke="#0072BD" stroke-width="7" stroke-linejoin="round" stroke-linecap="round" transform="scale(.1)"/>
<path d="M1988 2886l18 4 18 16 18 21 18 19 18 12 18 3 18-16 18-24 18-17 18-5 18 5 18 11 18 14 18 12 18 3 18-56 18-89 18 29 18 103 18 102 18-9 18-79 18-52 18-34 18-42 18 4 18 28 18 22 18 24 18 26 18 25 18 22 18 24 18 5 18-31 18-37 18-41 18-32 18-4 18 50 18 58 18 53 18 8 18-76 18-82 18-32 18 32 18 42 18 30 18 19 18 2 18-1 18-1 18-9 18-11 18-21 18-18 18-39 18-28 18-16 18 8 18 31 18 48 18 54 18 34 18 1 18-18 18-31 18-24 18-13 18-4 18 5 18 9 18 9 18 6 18-1 18-3 18 2 18 9" fill="none" stroke="#D95319" stroke-width="7" stroke-linejoin="round" stroke-linecap="round" transform="scale(.1)"/>
<path d="M1988 2825l18 2 18 0 18 2 18 14 18 26 18 27 18 16 18-16 18-34 18-20 18 1 18 10 18 3 18-7 18-6 18 5 18-31 18-89 18 20 18 121 18 136 18 18 18-115 18-93 18-57 18-68 18-17 18 55 18 57 18 55 18 40 18 21 18 15 18 30 18 31 18-25 18-52 18-79 18-71 18-33 18 62 18 90 18 85 18 38 18-84 18-95 18-49 18 43 18 49 18 28 18 13 18 6 18 4 18-4 18-31 18-44 18-41 18-29 18-6 18 15 18 15 18 15 18 28 18 40 18 43 18 14 18-37 18-48 18-31 18 10 18 39 18 26 18 1 18-19 18-17 18 3 18 15 18 8 18-3" fill="none" stroke="#EDB120" stroke-width="7" stroke-linejoin="round" stroke-linecap="round" transform="scale(.1)"/>
<path d="M1988 2879l18-2 18 6 18 12 18 14 18 11 18 9 18-7 18-19 18-13 18-3 18 5 18 8 18 8 18 8 18 2 18-50 18-115 18 7 18 130 18 156 18 32 18-116 18-103 18-60 18-62 18-12 18 53 18 47 18 47 18 44 18 35 18 25 18 24 18 12 18-40 18-49 18-57 18-49 18-29 18 48 18 68 18 74 18 41 18-75 18-91 18-50 18 47 18 60 18 42 18 15 18-11 18-22 18-19 18-23 18-20 18-24 18-19 18-28 18-8 18 9 18 26 18 44 18 48 18 42 18 16 18-27 18-42 18-43 18-20 18 6 18 18 18 25 18 20 18 10 18 1 18-7 18-10 18-2 18 7" fill="none" stroke="#7E2F8E" stroke-width="7" stroke-linejoin="round" stroke-linecap="round" transform="scale(.1)"/>
<path d="M1988 2848l18-4 18 4 18 13 18 18 18 22 18 6 18-16 18-18 18-14 18-6 18 3 18 11 18 20 18 14 18-35 18-117 18-22 18 107 18 150 18 52 18-104 18-96 18-50 18-55 18-22 18 45 18 38 18 40 18 43 18 39 18 31 18 27 18 17 18-41 18-57 18-65 18-52 18-28 18 56 18 84 18 86 18 51 18-80 18-109 18-79 18 30 18 60 18 55 18 33 18 3 18-16 18-20 18-28 18-22 18-23 18-22 18-14 18-12 18-2 18 8 18 27 18 37 18 44 18 31 18-5 18-19 18-26 18-15 18 1 18 4 18 5 18 2 18-2 18-2 18-3 18-2 18 4 18 12 18 17" fill="none" stroke="#77AC30" stroke-width="7" stroke-linejoin="round" stroke-linecap="round" transform="scale(.1)"/>
<path d="M1988 2851l18-18 18-7 18 9 18 21 18 24 18 20 18-4 18-27 18-26 18-11 18 6 18 15 18 16 18 14 18 4 18-34 18-106 18-17 18 106 18 144 18 49 18-106 18-100 18-53 18-54 18-24 18 43 18 40 18 47 18 50 18 43 18 29 18 19 18 12 18-38 18-47 18-54 18-49 18-41 18 29 18 58 18 75 18 63 18-47 18-77 18-61 18 28 18 47 18 39 18 20 18-3 18-16 18-18 18-24 18-23 18-27 18-26 18-34 18-10 18 16 18 39 18 59 18 53 18 35 18 0 18-43 18-48 18-35 18-5 18 21 18 21 18 13 18 2 18-5 18-3 18 0 18 2 18 8 18 15" fill="none" stroke="#4DBEEE" stroke-width="7" stroke-linejoin="round" stroke-linecap="round" transform="scale(.1)"/>
<path d="M1988 2906l18-16 18-6 18 8 18 18 18 20 18 9 18-10 18-17 18-15 18-4 18 10 18 18 18 19 18 8 18-22 18-58 18-16 18 41 18 62 18 23 18-44 18-43 18-24 18-21 18-3 18 27 18 23 18 21 18 17 18 15 18 11 18 8 18-1 18-28 18-34 18-31 18-16 18 2 18 35 18 40 18 33 18 13 18-37 18-40 18-22 18 23 18 26 18 12 18-5 18-18 18-17 18-7 18 2 18 9 18 7 18 1 18 1 18-13 18-15 18-8 18 5 18 16 18 24 18 19 18 1 18-13 18-21 18-18 18-6 18 3 18 13 18 17 18 16 18 10 18 2 18-7 18-12 18-10 18-5" fill="none" stroke="#A2142F" stroke-width="7" stroke-linejoin="round" stroke-linecap="round" transform="scale(.1)"/>
<path d="M1988 2886l18 0 18 7 18 12 18 12 18 9 18 7 18 0 18-14 18-12 18-5 18 1 18 1 18 1 18 3 18 2 18-11 18-74 18-39 18 83 18 131 18 73 18-76 18-101 18-60 18-48 18-33 18 37 18 43 18 41 18 38 18 31 18 21 18 16 18 18 18-19 18-38 18-45 18-43 18-36 18 15 18 52 18 61 18 53 18-24 18-70 18-64 18 11 18 42 18 40 18 19 18 3 18-11 18-12 18-18 18-21 18-24 18-22 18-24 18-8 18 13 18 24 18 35 18 34 18 27 18 12 18-17 18-31 18-29 18-14 18 9 18 16 18 16 18 7 18-2 18-7 18-6 18 0 18 10 18 17" fill="none" stroke="#0072BD" stroke-width="7" stroke-linejoin="round" stroke-linecap="round" transform="scale(.1)"/>
<path d="M1988 2888l18 4 18 5 18 6 18 8 18 15 18 10 18-9 18-17 18-17 18-9 18 3 18 14 18 18 18 9 18-24 18-101 18-44 18 100 18 153 18 72 18-104 18-116 18-51 18-31 18-20 18 39 18 21 18 18 18 37 18 54 18 53 18 34 18 14 18-46 18-60 18-50 18-36 18-32 18 16 18 49 18 69 18 73 18-16 18-76 18-87 18-9 18 32 18 53 18 49 18 26 18-11 18-35 18-47 18-35 18-15 18-6 18-5 18-13 18-3 18 16 18 42 18 47 18 33 18 3 18-32 18-33 18-13 18 5 18 14 18 2 18-7 18-3 18 10 18 18 18 13 18-2 18-12 18-6 18 4" fill="none" stroke="#D95319" stroke-width="7" stroke-linejoin="round" stroke-linecap="round" transform="scale(.1)"/>
<path d="M1988 2866l18-6 18-1 18 8 18 19 18 26 18 22 18-9 18-28 18-24 18-9 18 7 18 14 18 14 18 8 18-5 18-84 18-103 18 67 18 157 18 130 18-46 18-125 18-76 18-50 18-60 18 12 18 45 18 46 18 55 18 53 18 37 18 20 18 20 18-9 18-48 18-54 18-62 18-54 18-5 18 75 18 93 18 83 18 1 18-112 18-113 18-25 18 64 18 73 18 41 18 12 18-16 18-18 18-17 18-24 18-30 18-37 18-32 18-19 18 12 18 22 18 31 18 33 18 38 18 41 18 16 18-22 18-40 18-43 18-16 18 11 18 24 18 21 18 5 18-8 18-7 18-1 18 9 18 15 18 13" fill="none" stroke="#EDB120" stroke-width="7" stroke-linejoin="round" stroke-linecap="round" transform="scale(.1)"/>
<path d="M1988 2912l18-12 18-2 18 10 18 19 18 21 18 15 18-3 18-28 18-28 18-13 18 10 18 25 18 26 18 17 18-3 18-36 18-103 18-49 18 86 18 144 18 82 18-76 18-103 18-63 18-48 18-26 18 46 18 45 18 39 18 35 18 29 18 22 18 16 18 12 18-30 18-45 18-43 18-33 18-24 18 21 18 47 18 54 18 48 18-23 18-58 18-55 18 11 18 31 18 27 18 14 18 7 18-4 18-10 18-24 18-28 18-24 18-13 18-8 18 2 18 8 18 10 18 24 18 34 18 38 18 21 18-19 18-44 18-44 18-20 18 14 18 29 18 27 18 11 18-3 18-6 18-2 18 5 18 7 18 6" fill="none" stroke="#7E2F8E" stroke-width="7" stroke-linejoin="round" stroke-linecap="round" transform="scale(.1)"/>
<path d="M1988 2879l18-3 18 6 18 13 18 14 18 11 18 5 18-5 18-18 18-15 18-6 18 2 18 7 18 7 18 5 18 1 18-15 18-55 18-18 18 63 18 92 18 45 18-55 18-70 18-46 18-39 18-21 18 30 18 34 18 33 18 28 18 20 18 11 18 7 18 8 18-16 18-26 18-28 18-26 18-19 18 18 18 38 18 41 18 29 18-30 18-56 18-45 18 12 18 34 18 35 18 20 18 4 18-10 18-12 18-16 18-13 18-12 18-8 18-19 18-14 18-6 18 4 18 21 18 34 18 38 18 27 18-2 18-26 18-34 18-27 18-4 18 13 18 22 18 18 18 4 18-10 18-18 18-14 18 2 18 19" fill="none" stroke="#77AC30" stroke-width="7" stroke-linejoin="round" stroke-linecap="round" transform="scale(.1)"/>
<path d="M1988 2832l18-6 18 9 18 20 18 22 18 19 18 12 18-8 18-17 18-13 18-6 18 0 18 4 18 9 18 7 18-5 18-63 18-80 18 38 18 110 18 103 18-11 18-75 18-54 18-42 18-48 18 5 18 30 18 30 18 32 18 30 18 23 18 17 18 16 18-6 18-36 18-36 18-33 18-23 18 6 18 50 18 51 18 41 18-6 18-73 18-70 18-14 18 40 18 44 18 26 18 9 18-7 18-8 18-9 18-13 18-13 18-18 18-14 18-24 18-11 18-3 18 15 18 31 18 40 18 38 18 13 18-19 18-31 18-30 18-11 18 8 18 16 18 16 18 9 18 1 18-5 18-8 18-4 18 3 18 10" fill="none" stroke="#4DBEEE" stroke-width="7" stroke-linejoin="round" stroke-linecap="round" transform="scale(.1)"/>
<path d="M1988 2867l18-7 18 6 18 12 18 10 18 8 18 13 18 12 18-7 18-9 18-7 18-1 18 5 18 10 18 13 18 3 18-33 18-138 18-78 18 118 18 203 18 120 18-109 18-139 18-74 18-55 18-40 18 54 18 48 18 41 18 43 18 44 18 38 18 29 18 28 18-32 18-60 18-64 18-59 18-52 18 24 18 81 18 101 18 90 18-34 18-112 18-112 18 4 18 57 18 64 18 35 18 4 18-23 18-25 18-25 18-21 18-21 18-15 18-34 18-15 18 16 18 33 18 46 18 36 18 21 18 3 18-27 18-35 18-26 18-10 18 15 18 26 18 31 18 26 18 9 18-10 18-23 18-23 18-7 18 14" fill="none" stroke="#A2142F" stroke-width="7" stroke-linejoin="round" stroke-linecap="round" transform="scale(.1)"/>
<path d="M1988 2823l18 13 18 21 18 20 18 12 18 5 18 0 18-17 18-19 18-12 18-6 18-2 18 2 18 10 18 16 18 6 18-73 18-98 18 57 18 148 18 131 18-32 18-113 18-81 18-64 18-68 18 9 18 45 18 44 18 49 18 47 18 43 18 38 18 39 18-1 18-54 18-71 18-77 18-59 18-3 18 73 18 88 18 78 18 6 18-93 18-94 18-17 18 54 18 59 18 33 18 9 18-13 18-18 18-21 18-30 18-30 18-30 18-22 18-6 18 17 18 23 18 26 18 26 18 28 18 28 18 9 18-18 18-27 18-30 18-13 18 4 18 11 18 14 18 6 18 2 18 0 18 4 18 10 18 15 18 13" fill="none" stroke="#0072BD" stroke-width="7" stroke-linejoin="round" stroke-linecap="round" transform="scale(.1)"/>
<path d="M1988 2833l18-4 18 9 18 19 18 19 18 11 18 5 18-11 18-22 18-11 18 3 18 12 18 12 18 5 18 1 18-7 18-40 18-100 18-10 18 111 18 147 18 53 18-99 18-101 18-57 18-50 18-15 18 50 18 41 18 33 18 27 18 20 18 19 18 27 18 31 18-13 18-32 18-52 18-55 18-48 18 22 18 55 18 72 18 57 18-48 18-78 18-62 18 25 18 48 18 45 18 29 18 8 18-10 18-21 18-37 18-41 18-39 18-34 18-11 18 21 18 39 18 42 18 39 18 25 18 13 18-5 18-31 18-33 18-27 18-11 18 8 18 11 18 15 18 16 18 17 18 17 18 12 18 2 18-9 18-15" fill="none" stroke="#D95319" stroke-width="7" stroke-linejoin="round" stroke-linecap="round" transform="scale(.1)"/>
<path d="M1988 2886l18-5 18-2 18 4 18 11 18 16 18 18 18 16 18-9 18-22 18-16 18-7 18 4 18 10 18 11 18 8 18-5 18-79 18-107 18 56 18 150 18 136 18-25 18-119 18-83 18-54 18-55 18 16 18 51 18 44 18 44 18 41 18 29 18 18 18 18 18-9 18-47 18-44 18-45 18-36 18-5 18 59 18 67 18 65 18 13 18-86 18-89 18-25 18 46 18 51 18 29 18 12 18-11 18-14 18-14 18-20 18-18 18-10 18-26 18-24 18-6 18 7 18 27 18 40 18 43 18 31 18-2 18-39 18-39 18-27 18 3 18 23 18 24 18 19 18 9 18 3 18 1 18-3 18-8 18-8" fill="none" stroke="#EDB120" stroke-width="7" stroke-linejoin="round" stroke-linecap="round" transform="scale(.1)"/>
<path d="M1988 2837l18-10 18 8 18 23 18 26 18 20 18 10 18-5 18-18 18-14 18-3 18 6 18 10 18 8 18 1 18-7 18-24 18-58 18-24 18 53 18 86 18 49 18-40 18-54 18-35 18-32 18-17 18 26 18 31 18 28 18 20 18 9 18-2 18-5 18 2 18-12 18-12 18-10 18-10 18-11 18 12 18 25 18 27 18 23 18-22 18-40 18-33 18 9 18 21 18 15 18 4 18-2 18-2 18 4 18 4 18-1 18-10 18-9 18-30 18-21 18-6 18 10 18 25 18 29 18 25 18 10 18-12 18-23 18-20 18-7 18 10 18 16 18 14 18 5 18-6 18-11 18-9 18-3 18 8 18 15" fill="none" stroke="#7E2F8E" stroke-width="7" stroke-linejoin="round" stroke-linecap="round" transform="scale(.1)"/>
<path d="M1988 2855l18-4 18 3 18 14 18 20 18 20 18 13 18 0 18-20 18-22 18-13 18-8 18-6 18-1 18 12 18 21 18 12 18-73 18-81 18 70 18 146 18 107 18-69 18-126 18-78 18-51 18-42 18 40 18 51 18 38 18 35 18 36 18 35 18 32 18 33 18-10 18-49 18-56 18-58 18-54 18-3 18 58 18 79 18 78 18-1 18-89 18-96 18-11 18 54 18 65 18 39 18 13 18-14 18-21 18-27 18-34 18-37 18-40 18-33 18-4 18 30 18 41 18 45 18 36 18 30 18 20 18-10 18-39 18-44 18-32 18 1 18 20 18 23 18 13 18 3 18 1 18 5 18 7 18 3 18 1" fill="none" stroke="#77AC30" stroke-width="7" stroke-linejoin="round" stroke-linecap="round" transform="scale(.1)"/>
<path d="M1988 2897l18-5 18 2 18 9 18 13 18 16 18 13 18-8 18-18 18-15 18-8 18 0 18 7 18 14 18 17 18 5 18-72 18-98 18 47 18 129 18 113 18-37 18-106 18-62 18-38 18-45 18 18 18 39 18 28 18 32 18 33 18 33 18 32 18 35 18 3 18-44 18-55 18-62 18-53 18-8 18 61 18 77 18 73 18 9 18-85 18-89 18-19 18 50 18 58 18 35 18 12 18-16 18-25 18-30 18-32 18-25 18-18 18-8 18 4 18 21 18 21 18 22 18 18 18 14 18 9 18-8 18-25 18-17 18-8 18 13 18 21 18 15 18 6 18-6 18-11 18-10 18-7 18 1 18 11 18 20" fill="none" stroke="#4DBEEE" stroke-width="7" stroke-linejoin="round" stroke-linecap="round" transform="scale(.1)"/>
<path d="M1988 2891l18-10 18-5 18 6 18 18 18 25 18 20 18-6 18-24 18-25 18-17 18-5 18 7 18 16 18 22 18 14 18-52 18-84 18 38 18 104 18 90 18-37 18-93 18-49 18-26 18-40 18 9 18 27 18 24 18 34 18 41 18 37 18 27 18 23 18-6 18-45 18-50 18-53 18-43 18-4 18 61 18 77 18 72 18 9 18-90 18-100 18-35 18 42 18 65 18 54 18 29 18-8 18-29 18-37 18-38 18-26 18-16 18-10 18-1 18 14 18 19 18 24 18 23 18 20 18 15 18 0 18-16 18-15 18-17 18-9 18-5 18-1 18 10 18 20 18 23 18 15 18-1 18-14 18-16 18-8" fill="none" stroke="#A2142F" stroke-width="7" stroke-linejoin="round" stroke-linecap="round" transform="scale(.1)"/>
<path d="M1988 2843l18 6 18 20 18 23 18 17 18 6 18 1 18-10 18-23 18-14 18-2 18 4 18 8 18 8 18 14 18 10 18-30 18-125 18-46 18 113 18 179 18 90 18-102 18-119 18-74 18-77 18-48 18 46 18 57 18 63 18 62 18 48 18 29 18 21 18 18 18-38 18-59 18-71 18-64 18-46 18 43 18 91 18 103 18 75 18-63 18-120 18-101 18 19 18 65 18 68 18 40 18 7 18-21 18-27 18-33 18-29 18-26 18-20 18-31 18-13 18 8 18 27 18 48 18 50 18 43 18 17 18-25 18-39 18-34 18-13 18 9 18 10 18 7 18 2 18 3 18 10 18 12 18 10 18 7 18 5" fill="none" stroke="#0072BD" stroke-width="7" stroke-linejoin="round" stroke-linecap="round" transform="scale(.1)"/>
<path d="M1988 2867l18 4 18 1 18 2 18 10 18 22 18 26 18-1 18-19 18-26 18-22 18-8 18 8 18 23 18 24 18 0 18-99 18-106 18 73 18 171 18 137 18-57 18-127 18-82 18-64 18-63 18 25 18 49 18 45 18 50 18 50 18 44 18 34 18 33 18-15 18-59 18-65 18-65 18-53 18 4 18 69 18 83 18 79 18-2 18-93 18-97 18-12 18 50 18 58 18 37 18 21 18-4 18-19 18-36 18-49 18-42 18-27 18-9 18 14 18 23 18 12 18 14 18 22 18 40 18 47 18 16 18-29 18-53 18-55 18-19 18 18 18 42 18 42 18 19 18-6 18-22 18-18 18-1 18 19 18 22" fill="none" stroke="#D95319" stroke-width="7" stroke-linejoin="round" stroke-linecap="round" transform="scale(.1)"/>
<path d="M1988 2809l18 4 18 9 18 12 18 15 18 18 18 17 18 13 18-8 18-24 18-28 18-21 18-8 18 7 18 16 18 17 18 7 18-40 18-61 18 34 18 94 18 90 18-8 18-79 18-71 18-55 18-47 18 10 18 46 18 44 18 37 18 23 18 9 18 6 18 16 18 10 18-15 18-26 18-41 18-43 18-21 18 30 18 48 18 54 18 20 18-50 18-60 18-25 18 26 18 39 18 30 18 16 18-4 18-13 18-15 18-17 18-14 18-14 18-28 18-31 18-15 18 6 18 37 18 58 18 60 18 38 18-4 18-46 18-55 18-43 18-10 18 16 18 23 18 17 18 2 18-2 18 2 18 14 18 20 18 18" fill="none" stroke="#EDB120" stroke-width="7" stroke-linejoin="round" stroke-linecap="round" transform="scale(.1)"/>
<path d="M1988 2835l18-6 18 6 18 14 18 16 18 10 18 7 18-7 18-18 18-9 18 1 18 7 18 7 18 4 18 3 18 0 18-32 18-92 18-6 18 98 18 127 18 36 18-97 18-87 18-42 18-39 18-10 18 42 18 31 18 29 18 32 18 30 18 28 18 27 18 16 18-36 18-51 18-57 18-44 18-23 18 47 18 68 18 69 18 42 18-62 18-83 18-56 18 31 18 48 18 36 18 15 18-6 18-15 18-12 18-17 18-17 18-22 18-20 18-25 18-2 18 16 18 31 18 39 18 32 18 19 18-2 18-31 18-33 18-24 18-3 18 15 18 17 18 14 18 10 18 6 18 7 18 5 18-1 18-6 18-6" fill="none" stroke="#7E2F8E" stroke-width="7" stroke-linejoin="round" stroke-linecap="round" transform="scale(.1)"/>
<path d="M1988 2859l18-12 18 2 18 15 18 24 18 28 18 10 18-17 18-26 18-23 18-8 18 10 18 20 18 21 18 5 18-36 18-105 18-28 18 102 18 145 18 58 18-98 18-100 18-44 18-34 18-17 18 31 18 15 18 20 18 41 18 57 18 49 18 26 18 2 18-52 18-55 18-44 18-28 18-21 18 30 18 52 18 65 18 53 18-45 18-83 18-72 18 14 18 48 18 50 18 34 18 7 18-15 18-23 18-30 18-25 18-18 18-14 18-5 18-7 18-7 18-4 18 17 18 40 18 57 18 44 18-2 18-37 18-47 18-26 18 9 18 20 18 11 18-9 18-15 18-1 18 17 18 23 18 10 18-4 18-7" fill="none" stroke="#77AC30" stroke-width="7" stroke-linejoin="round" stroke-linecap="round" transform="scale(.1)"/>
<path d="M1988 2854l18 4 18 12 18 13 18 9 18 1 18-5 18-1 18-8 18-14 18-6 18 0 18 4 18 6 18 8 18 14 18 12 18-29 18-103 18-18 18 96 18 133 18 39 18-103 18-94 18-47 18-42 18-6 18 57 18 43 18 32 18 22 18 15 18 16 18 28 18 33 18-16 18-37 18-62 18-62 18-47 18 34 18 73 18 86 18 62 18-57 18-90 18-68 18 25 18 47 18 38 18 18 18-4 18-14 18-9 18-13 18-12 18-10 18-34 18-38 18-16 18 8 18 30 18 45 18 38 18 27 18 4 18-26 18-25 18-15 18 2 18 13 18 6 18 0 18-6 18-3 18 3 18 6 18 6 18 7" fill="none" stroke="#4DBEEE" stroke-width="7" stroke-linejoin="round" stroke-linecap="round" transform="scale(.1)"/>
<path d="M1988 2815l18-5 18 3 18 10 18 15 18 18 18 12 18-7 18-16 18-14 18-8 18-1 18 6 18 13 18 11 18-5 18-73 18-66 18 58 18 122 18 90 18-48 18-88 18-56 18-48 18-46 18 23 18 39 18 40 18 42 18 35 18 24 18 14 18 14 18-16 18-40 18-42 18-43 18-35 18 8 18 52 18 65 18 58 18-8 18-68 18-72 18-7 18 33 18 38 18 22 18 8 18-7 18-10 18-15 18-19 18-18 18-17 18-11 18-9 18 2 18 6 18 15 18 22 18 28 18 27 18 6 18-14 18-22 18-22 18-7 18 3 18 11 18 15 18 10 18 3 18-5 18-12 18-9 18 3 18 15" fill="none" stroke="#A2142F" stroke-width="7" stroke-linejoin="round" stroke-linecap="round" transform="scale(.1)"/>
<path d="M1988 2868l18-10 18 0 18 9 18 17 18 22 18 17 18-2 18-16 18-23 18-22 18-10 18 8 18 26 18 27 18 4 18-57 18-47 18 27 18 71 18 53 18-28 18-40 18-26 18-37 18-39 18 7 18 19 18 30 18 35 18 32 18 20 18 11 18 9 18-18 18-32 18-37 18-34 18-25 18 17 18 47 18 55 18 43 18-21 18-60 18-58 18-3 18 28 18 38 18 26 18 8 18-11 18-18 18-21 18-14 18-7 18-3 18-1 18-7 18-4 18 0 18 13 18 19 18 22 18 13 18-4 18-12 18-9 18-1 18 7 18 1 18-9 18-14 18-10 18 5 18 18 18 21 18 13 18 1 18-9" fill="none" stroke="#0072BD" stroke-width="7" stroke-linejoin="round" stroke-linecap="round" transform="scale(.1)"/>
<path d="M1988 2825l18 5 18 15 18 14 18 6 18-1 18-2 18-6 18-21 18-16 18-2 18 15 18 22 18 17 18 6 18-7 18-21 18-85 18-60 18 82 18 139 18 85 18-83 18-112 18-57 18-35 18-30 18 44 18 50 18 39 18 30 18 19 18 11 18 16 18 34 18 2 18-35 18-55 18-67 18-55 18 11 18 74 18 90 18 73 18-16 18-90 18-91 18-10 18 37 18 45 18 32 18 20 18 2 18-12 18-31 18-40 18-33 18-16 18-1 18 12 18 14 18 8 18 13 18 18 18 24 18 19 18-6 18-21 18-17 18-11 18 2 18 2 18 4 18 15 18 22 18 20 18 3 18-20 18-28 18-16" fill="none" stroke="#D95319" stroke-width="7" stroke-linejoin="round" stroke-linecap="round" transform="scale(.1)"/>
<path d="M1988 2818l18-3 18 10 18 21 18 25 18 22 18 11 18 2 18-14 18-28 18-22 18-10 18 0 18 5 18 5 18 8 18 8 18-19 18-88 18-14 18 109 18 147 18 53 18-110 18-115 18-64 18-53 18-21 18 52 18 46 18 40 18 37 18 31 18 28 18 29 18 29 18-23 18-47 18-62 18-60 18-47 18 29 18 66 18 80 18 63 18-47 18-84 18-69 18 24 18 50 18 45 18 24 18 0 18-17 18-20 18-28 18-27 18-25 18-24 18-20 18 2 18 20 18 33 18 44 18 39 18 29 18 4 18-37 18-49 18-44 18-17 18 17 18 32 18 34 18 22 18 7 18-3 18-7 18-5 18 4" fill="none" stroke="#EDB120" stroke-width="7" stroke-linejoin="round" stroke-linecap="round" transform="scale(.1)"/>
<path d="M1988 2849l18 2 18 9 18 16 18 17 18 13 18 7 18 0 18-18 18-20 18-16 18-7 18 1 18 7 18 14 18 15 18 4 18-51 18-52 18 44 18 92 18 66 18-46 18-76 18-44 18-30 18-29 18 21 18 30 18 25 18 25 18 24 18 22 18 19 18 23 18-5 18-31 18-40 18-43 18-37 18-1 18 42 18 55 18 53 18 2 18-52 18-57 18-7 18 27 18 27 18 13 18 3 18-8 18-8 18-8 18-11 18-11 18-8 18-17 18-12 18 1 18 8 18 17 18 21 18 21 18 15 18-3 18-18 18-19 18-12 18 3 18 11 18 13 18 11 18 5 18 1 18-3 18-6 18-6 18-4" fill="none" stroke="#7E2F8E" stroke-width="7" stroke-linejoin="round" stroke-linecap="round" transform="scale(.1)"/>
<path d="M1988 2907l18-21 18-12 18 5 18 22 18 23 18 13 18-7 18-27 18-19 18 4 18 19 18 19 18 4 18-6 18-10 18-20 18-74 18-34 18 83 18 121 18 59 18-86 18-92 18-38 18-30 18-27 18 31 18 30 18 33 18 41 18 38 18 26 18 12 18 7 18-29 18-43 18-39 18-35 18-29 18 18 18 52 18 62 18 55 18-25 18-70 18-66 18 8 18 37 18 35 18 18 18 6 18-5 18-7 18-18 18-26 18-31 18-27 18-20 18 4 18 21 18 22 18 26 18 23 18 28 18 25 18-1 18-26 18-41 18-40 18-13 18 12 18 33 18 34 18 15 18-6 18-16 18-9 18 12 18 26" fill="none" stroke="#77AC30" stroke-width="7" stroke-linejoin="round" stroke-linecap="round" transform="scale(.1)"/>
<path d="M1988 2843l18-8 18 2 18 2 18 0 18 2 18 12 18 18 18 5 18-4 18-5 18 3 18 12 18 9 18-6 18-23 18-33 18-62 18-34 18 64 18 104 18 72 18-31 18-57 18-35 18-36 18-46 18-2 18 18 18 31 18 38 18 27 18 9 18 2 18 13 18 4 18-10 18-23 18-33 18-31 18 3 18 36 18 38 18 24 18-22 18-51 18-37 18 15 18 34 18 24 18 8 18 7 18 7 18 5 18-9 18-25 18-31 18-28 18-25 18-18 18-5 18 12 18 43 18 64 18 61 18 26 18-24 18-56 18-52 18-29 18-5 18 4 18 8 18 18 18 29 18 31 18 17 18-4 18-14 18-6" fill="none" stroke="#4DBEEE" stroke-width="7" stroke-linejoin="round" stroke-linecap="round" transform="scale(.1)"/>
<path d="M1988 2855l18 2 18 3 18 4 18 4 18 7 18 11 18-11 18-21 18-12 18-5 18 1 18 5 18 13 18 19 18 14 18-84 18-148 18 65 18 192 18 179 18-39 18-178 18-122 18-71 18-73 18 24 18 78 18 63 18 63 18 58 18 49 18 37 18 39 18-1 18-73 18-85 18-94 18-73 18-15 18 98 18 120 18 116 18 35 18-131 18-145 18-58 18 64 18 85 18 60 18 32 18-9 18-28 18-37 18-49 18-43 18-37 18-23 18-9 18 23 18 31 18 37 18 36 18 30 18 25 18 0 18-33 18-27 18-20 18 8 18 20 18 15 18 7 18-4 18-8 18-5 18-2 18 3 18 11 18 18" fill="none" stroke="#A2142F" stroke-width="7" stroke-linejoin="round" stroke-linecap="round" transform="scale(.1)"/>
<path d="M1988 2849l18-2 18 8 18 17 18 22 18 21 18 16 18-5 18-23 18-22 18-15 18-8 18-2 18 3 18 9 18 11 18-31 18-80 18 22 18 111 18 121 18 12 18-104 18-86 18-52 18-53 18-12 18 38 18 36 18 41 18 45 18 40 18 31 18 27 18 10 18-37 18-50 18-61 18-55 18-32 18 40 18 67 18 78 18 49 18-54 18-78 18-48 18 26 18 44 18 34 18 16 18-8 18-22 18-25 18-27 18-16 18-9 18 1 18-2 18 6 18 8 18 14 18 20 18 19 18 14 18-6 18-32 18-29 18-15 18 12 18 32 18 31 18 21 18 6 18-6 18-10 18-13 18-16 18-13 18-9" fill="none" stroke="#0072BD" stroke-width="7" stroke-linejoin="round" stroke-linecap="round" transform="scale(.1)"/>
<path d="M1988 2830l18 4 18 0 18 3 18 13 18 22 18 23 18-5 18-29 18-27 18-10 18 9 18 13 18 8 18 3 18 2 18-32 18-85 18 11 18 101 18 116 18 14 18-101 18-77 18-41 18-51 18-18 18 43 18 47 18 50 18 41 18 23 18 12 18 20 18 19 18-27 18-48 18-67 18-59 18-25 18 59 18 83 18 76 18 34 18-76 18-87 18-46 18 39 18 46 18 26 18 11 18 1 18-3 18-10 18-30 18-35 18-29 18-10 18 3 18 14 18 9 18 7 18 22 18 33 18 34 18 5 18-39 18-44 18-25 18 11 18 33 18 23 18 8 18-1 18 4 18 11 18 4 18-15 18-23 18-15" fill="none" stroke="#D95319" stroke-width="7" stroke-linejoin="round" stroke-linecap="round" transform="scale(.1)"/>
<path d="M1988 2846l18-2 18 14 18 26 18 28 18 17 18 4 18-13 18-35 18-28 18-8 18 11 18 17 18 12 18 3 18-4 18-16 18-88 18-72 18 95 18 172 18 120 18-75 18-138 18-89 18-59 18-47 18 40 18 54 18 40 18 35 18 32 18 33 18 37 18 46 18 4 18-45 18-64 18-74 18-65 18-4 18 65 18 84 18 77 18-6 18-91 18-90 18-1 18 59 18 61 18 31 18 3 18-21 18-21 18-20 18-20 18-20 18-19 18-40 18-32 18-5 18 19 18 50 18 61 18 54 18 29 18-16 18-48 18-43 18-20 18 15 18 28 18 17 18-4 18-23 18-26 18-10 18 12 18 33 18 41" fill="none" stroke="#EDB120" stroke-width="7" stroke-linejoin="round" stroke-linecap="round" transform="scale(.1)"/>
<path d="M1988 2861l18-6 18 5 18 16 18 18 18 11 18 2 18-9 18-16 18-11 18-7 18-3 18 4 18 11 18 18 18 10 18-19 18-62 18-16 18 53 18 80 18 28 18-57 18-58 18-26 18-16 18-1 18 24 18 9 18 9 18 21 18 29 18 23 18 11 18-3 18-28 18-23 18-17 18-13 18-18 18 9 18 26 18 40 18 35 18-25 18-48 18-41 18 11 18 30 18 30 18 13 18-4 18-12 18-9 18-8 18-9 18-14 18-13 18-15 18 0 18 7 18 8 18 14 18 19 18 27 18 19 18-10 18-27 18-30 18-10 18 15 18 19 18 9 18-8 18-11 18 1 18 12 18 11 18-2 18-8" fill="none" stroke="#7E2F8E" stroke-width="7" stroke-linejoin="round" stroke-linecap="round" transform="scale(.1)"/>
<path d="M1988 2846l18-20 18-2 18 18 18 30 18 33 18 28 18 5 18-24 18-27 18-21 18-9 18 1 18 9 18 15 18 12 18-27 18-109 18-31 18 112 18 166 18 76 18-103 18-115 18-70 18-70 18-41 18 44 18 50 18 57 18 60 18 50 18 32 18 19 18 10 18-46 18-59 18-61 18-47 18-32 18 41 18 73 18 79 18 57 18-56 18-92 18-70 18 28 18 52 18 41 18 15 18-4 18-12 18-5 18-10 18-17 18-29 18-31 18-49 18-24 18 8 18 35 18 58 18 57 18 44 18 14 18-31 18-44 18-38 18-14 18 13 18 17 18 11 18 0 18-5 18-1 18 9 18 18 18 21 18 19" fill="none" stroke="#77AC30" stroke-width="7" stroke-linejoin="round" stroke-linecap="round" transform="scale(.1)"/>
<path d="M1988 2913l18 4 18 4 18 3 18 4 18 5 18 10 18 3 18-7 18-5 18-4 18-5 18-4 18-3 18 5 18 6 18-24 18-77 18 1 18 90 18 113 18 30 18-83 18-75 18-41 18-44 18-18 18 30 18 24 18 28 18 35 18 35 18 33 18 31 18 18 18-29 18-46 18-57 18-48 18-30 18 34 18 57 18 64 18 41 18-50 18-69 18-45 18 29 18 46 18 36 18 16 18-6 18-18 18-20 18-25 18-21 18-19 18-15 18-13 18 4 18 14 18 23 18 33 18 33 18 28 18 8 18-25 18-38 18-40 18-21 18 4 18 19 18 30 18 28 18 18 18 6 18-7 18-16 18-14 18-5" fill="none" stroke="#4DBEEE" stroke-width="7" stroke-linejoin="round" stroke-linecap="round" transform="scale(.1)"/>
<path d="M1988 2843l18 13 18 32 18 29 18 12 18 3 18-4 18-17 18-17 18-16 18-9 18 8 18 28 18 41 18 25 18-29 18-138 18-90 18 91 18 177 18 110 18-90 18-122 18-65 18-49 18-36 18 39 18 31 18 33 18 51 18 63 18 54 18 30 18 10 18-48 18-62 18-55 18-47 18-44 18 16 18 65 18 85 18 76 18-36 18-105 18-93 18 24 18 84 18 82 18 34 18-20 18-55 18-46 18-30 18-12 18-11 18-19 18-17 18-1 18 20 18 22 18 18 18 14 18 30 18 45 18 29 18-2 18-40 18-57 18-38 18-9 18 15 18 19 18 9 18 6 18 16 18 28 18 29 18 13 18-8" fill="none" stroke="#A2142F" stroke-width="7" stroke-linejoin="round" stroke-linecap="round" transform="scale(.1)"/>
<path d="M1988 2876l18 5 18 8 18 7 18 4 18 9 18 16 18 3 18-8 18-13 18-18 18-16 18-3 18 13 18 25 18 14 18-69 18-117 18 48 18 151 18 149 18-17 18-130 18-104 18-72 18-65 18 22 18 67 18 56 18 46 18 38 18 33 18 33 18 36 18 1 18-61 18-75 18-77 18-51 18 4 18 86 18 92 18 77 18 10 18-104 18-104 18-32 18 53 18 61 18 36 18 17 18-6 18-10 18-16 18-30 18-35 18-39 18-34 18-18 18 16 18 32 18 41 18 40 18 32 18 22 18 0 18-29 18-31 18-32 18-15 18 3 18 14 18 28 18 27 18 17 18-1 18-18 18-21 18-5 18 15" fill="none" stroke="#0072BD" stroke-width="7" stroke-linejoin="round" stroke-linecap="round" transform="scale(.1)"/>
<path d="M1988 2838l18-12 18 6 18 20 18 28 18 27 18 23 18 7 18-18 18-23 18-18 18-10 18-4 18 1 18 9 18 10 18-9 18-85 18-48 18 90 18 148 18 85 18-87 18-113 18-65 18-51 18-35 18 47 18 51 18 45 18 37 18 26 18 14 18 10 18 17 18-18 18-35 18-38 18-35 18-31 18 21 18 57 18 62 18 48 18-40 18-91 18-78 18 14 18 55 18 53 18 29 18 7 18-11 18-12 18-18 18-22 18-25 18-20 18-34 18-18 18 2 18 16 18 34 18 39 18 38 18 25 18-8 18-27 18-27 18-16 18 7 18 12 18 11 18 4 18-5 18-6 18-4 18 3 18 11 18 19" fill="none" stroke="#D95319" stroke-width="7" stroke-linejoin="round" stroke-linecap="round" transform="scale(.1)"/>
<path d="M1988 2838l18-6 18-2 18 4 18 11 18 14 18 17 18 3 18-8 18-11 18-11 18-12 18-8 18-3 18 5 18 9 18-24 18-57 18 29 18 92 18 91 18-3 18-87 18-71 18-46 18-42 18 1 18 40 18 38 18 39 18 33 18 23 18 11 18 9 18-2 18-30 18-30 18-32 18-26 18-11 18 32 18 39 18 38 18 14 18-52 18-52 18-14 18 41 18 44 18 23 18 1 18-19 18-22 18-15 18-10 18-5 18-8 18-7 18-22 18-15 18-5 18 14 18 35 18 45 18 43 18 19 18-19 18-38 18-46 18-30 18-5 18 13 18 26 18 26 18 17 18 4 18-6 18-9 18-3 18 9" fill="none" stroke="#EDB120" stroke-width="7" stroke-linejoin="round" stroke-linecap="round" transform="scale(.1)"/>
<path d="M1988 2857l18-8 18 9 18 22 18 26 18 20 18 11 18-16 18-31 18-19 18-5 18 7 18 10 18 14 18 16 18 9 18-64 18-147 18 7 18 159 18 190 18 33 18-145 18-123 18-71 18-72 18-8 18 66 18 53 18 51 18 51 18 46 18 38 18 36 18 15 18-56 18-68 18-78 18-61 18-30 18 67 18 93 18 98 18 52 18-101 18-125 18-71 18 53 18 79 18 60 18 28 18-11 18-26 18-26 18-31 18-26 18-31 18-28 18-39 18-10 18 13 18 36 18 55 18 56 18 52 18 23 18-29 18-47 18-51 18-26 18 7 18 22 18 27 18 14 18 1 18-6 18-4 18 3 18 15 18 21" fill="none" stroke="#7E2F8E" stroke-width="7" stroke-linejoin="round" stroke-linecap="round" transform="scale(.1)"/>
<path d="M1988 2854l18 12 18 17 18 11 18 1 18-7 18-9 18-18 18-12 18-2 18 4 18 4 18 6 18 14 18 20 18 11 18-64 18-87 18 40 18 109 18 92 18-44 18-92 18-50 18-37 18-46 18 16 18 38 18 38 18 44 18 40 18 28 18 16 18 17 18-13 18-41 18-43 18-45 18-40 18-3 18 52 18 65 18 63 18 2 18-76 18-80 18-14 18 43 18 52 18 36 18 19 18-6 18-19 18-32 18-41 18-35 18-24 18-16 18 7 18 22 18 21 18 26 18 29 18 33 18 31 18 3 18-32 18-46 18-45 18-17 18 10 18 29 18 34 18 22 18 6 18-6 18-10 18-2 18 7 18 11" fill="none" stroke="#77AC30" stroke-width="7" stroke-linejoin="round" stroke-linecap="round" transform="scale(.1)"/>
<path d="M1988 2821l18 10 18 12 18 10 18 2 18-4 18-6 18-16 18-18 18-5 18 8 18 14 18 15 18 13 18 9 18 0 18-55 18-105 18 8 18 105 18 123 18 15 18-90 18-69 18-38 18-46 18-6 18 36 18 28 18 32 18 35 18 31 18 25 18 23 18 7 18-37 18-42 18-46 18-35 18-13 18 48 18 57 18 53 18 17 18-78 18-82 18-33 18 51 18 62 18 44 18 18 18-10 18-21 18-23 18-31 18-28 18-29 18-28 18-17 18 11 18 29 18 44 18 46 18 35 18 17 18-12 18-45 18-44 18-30 18-1 18 25 18 30 18 26 18 15 18 1 18-7 18-13 18-14 18-6 18 2" fill="none" stroke="#4DBEEE" stroke-width="7" stroke-linejoin="round" stroke-linecap="round" transform="scale(.1)"/>
<path d="M1988 2854l18 2 18 10 18 15 18 17 18 16 18 15 18-13 18-24 18-18 18-11 18-2 18 6 18 15 18 19 18 7 18-93 18-132 18 67 18 183 18 162 18-42 18-147 18-94 18-62 18-72 18 15 18 51 18 43 18 51 18 57 18 55 18 48 18 47 18-1 18-68 18-84 18-91 18-71 18-8 18 90 18 112 18 106 18 19 18-119 18-128 18-39 18 59 18 72 18 46 18 20 18-12 18-21 18-24 18-32 18-30 18-32 18-25 18-26 18 1 18 15 18 35 18 48 18 52 18 43 18 8 18-35 18-43 18-40 18-10 18 11 18 19 18 22 18 15 18 9 18 2 18-5 18-6 18-1 18 6" fill="none" stroke="#A2142F" stroke-width="7" stroke-linejoin="round" stroke-linecap="round" transform="scale(.1)"/>
<path d="M1988 2818l18 4 18 15 18 22 18 23 18 21 18 13 18-22 18-32 18-25 18-12 18-1 18 7 18 17 18 21 18 3 18-115 18-130 18 103 18 225 18 178 18-80 18-179 18-117 18-86 18-87 18 30 18 67 18 66 18 74 18 74 18 65 18 51 18 47 18-17 18-87 18-101 18-106 18-84 18-1 18 104 18 131 18 123 18 10 18-128 18-136 18-22 18 71 18 78 18 41 18 10 18-25 18-31 18-34 18-38 18-31 18-30 18-19 18-13 18 15 18 24 18 40 18 46 18 45 18 35 18-5 18-44 18-46 18-36 18-2 18 17 18 23 18 24 18 16 18 10 18 5 18-2 18-4 18 1 18 4" fill="none" stroke="#0072BD" stroke-width="7" stroke-linejoin="round" stroke-linecap="round" transform="scale(.1)"/>
<path d="M1988 2838l18-3 18 10 18 19 18 22 18 19 18 14 18-9 18-22 18-17 18-9 18-1 18 6 18 9 18 11 18 3 18-61 18-107 18 34 18 131 18 136 18-1 18-107 18-80 18-51 18-57 18 1 18 43 18 37 18 39 18 39 18 33 18 25 18 26 18 4 18-41 18-47 18-53 18-42 18-12 18 57 18 69 18 67 18 18 18-89 18-95 18-38 18 47 18 61 18 42 18 22 18-5 18-15 18-17 18-27 18-25 18-29 18-25 18-26 18-4 18 12 18 29 18 42 18 44 18 38 18 11 18-26 18-35 18-34 18-13 18 7 18 15 18 18 18 12 18 5 18-1 18-5 18-6 18 1 18 8" fill="none" stroke="#D95319" stroke-width="7" stroke-linejoin="round" stroke-linecap="round" transform="scale(.1)"/>
<path d="M1988 2885l18 5 18 8 18 8 18 7 18 4 18 7 18-3 18-19 18-14 18-5 18 3 18 9 18 11 18 17 18 13 18-32 18-129 18-39 18 115 18 172 18 69 18-120 18-118 18-57 18-54 18-24 18 58 18 46 18 42 18 40 18 34 18 30 18 30 18 30 18-33 18-55 18-69 18-62 18-44 18 47 18 87 18 97 18 67 18-75 18-120 18-96 18 26 18 67 18 66 18 44 18 13 18-13 18-22 18-39 18-41 18-42 18-35 18-29 18 1 18 23 18 37 18 48 18 45 18 38 18 16 18-25 18-37 18-36 18-18 18 7 18 11 18 12 18 7 18 4 18 7 18 9 18 8 18 8 18 7" fill="none" stroke="#EDB120" stroke-width="7" stroke-linejoin="round" stroke-linecap="round" transform="scale(.1)"/>
<path d="M1988 2821l18 13 18 12 18 9 18 3 18 5 18 5 18-10 18-12 18-6 18-2 18-1 18 1 18 6 18 9 18-1 18-84 18-93 18 68 18 156 18 126 18-47 18-116 18-74 18-57 18-61 18 16 18 42 18 42 18 47 18 49 18 40 18 31 18 31 18-10 18-53 18-61 18-64 18-52 18 1 18 69 18 85 18 78 18 0 18-97 18-102 18-20 18 52 18 63 18 44 18 22 18-8 18-22 18-34 18-41 18-36 18-27 18-15 18 3 18 21 18 21 18 25 18 23 18 26 18 26 18 4 18-19 18-23 18-22 18-7 18 3 18 5 18 7 18 5 18 5 18 5 18 5 18 6 18 11 18 11" fill="none" stroke="#7E2F8E" stroke-width="7" stroke-linejoin="round" stroke-linecap="round" transform="scale(.1)"/>
<path d="M1988 2866l18 7 18 13 18 14 18 13 18 13 18 2 18-20 18-22 18-17 18-9 18-3 18 7 18 21 18 28 18-2 18-111 18-65 18 109 18 175 18 87 18-130 18-145 18-68 18-52 18-35 18 59 18 55 18 47 18 50 18 50 18 44 18 40 18 34 18-38 18-77 18-89 18-79 18-52 18 43 18 103 18 113 18 83 18-56 18-129 18-113 18 20 18 78 18 81 18 45 18 6 18-30 18-42 18-49 18-44 18-34 18-21 18-11 18 12 18 30 18 35 18 43 18 39 18 33 18 13 18-31 18-52 18-50 18-28 18 11 18 29 18 37 18 32 18 17 18 5 18-8 18-14 18-13 18-2 18 5" fill="none" stroke="#77AC30" stroke-width="7" stroke-linejoin="round" stroke-linecap="round" transform="scale(.1)"/>
<path d="M1988 2844l18-3 18-4 18 1 18 9 18 12 18 14 18-2 18-21 18-11 18 1 18 5 18-2 18-2 18 10 18 18 18-23 18-139 18-48 18 133 18 204 18 91 18-137 18-149 18-85 18-79 18-34 18 78 18 70 18 58 18 47 18 41 18 40 18 46 18 40 18-46 18-84 18-99 18-79 18-48 18 60 18 108 18 118 18 88 18-73 18-133 18-115 18 19 18 68 18 74 18 51 18 14 18-22 18-36 18-49 18-40 18-34 18-26 18-31 18-2 18 31 18 52 18 62 18 39 18 15 18-10 18-39 18-32 18-19 18-4 18 14 18 16 18 22 18 21 18 11 18-3 18-15 18-15 18-1 18 12" fill="none" stroke="#4DBEEE" stroke-width="7" stroke-linejoin="round" stroke-linecap="round" transform="scale(.1)"/>
<path d="M1988 2864l18 1 18 8 18 12 18 14 18 14 18 16 18-4 18-16 18-12 18-8 18-5 18-2 18 4 18 12 18 8 18-72 18-127 18 55 18 168 18 164 18-17 18-142 18-100 18-65 18-73 18 2 18 52 18 44 18 51 18 57 18 55 18 47 18 47 18 8 18-62 18-81 18-96 18-80 18-26 18 80 18 112 18 116 18 49 18-99 18-122 18-61 18 37 18 57 18 44 18 28 18 1 18-11 18-22 18-38 18-37 18-36 18-24 18-14 18 16 18 25 18 33 18 33 18 27 18 23 18 0 18-30 18-23 18-15 18 11 18 23 18 15 18 3 18-12 18-18 18-13 18-4 18 10 18 24 18 31" fill="none" stroke="#A2142F" stroke-width="7" stroke-linejoin="round" stroke-linecap="round" transform="scale(.1)"/>
<path d="M1988 2879l18-9 18 0 18 13 18 21 18 21 18 14 18-5 18-23 18-21 18-11 18 1 18 6 18 6 18 1 18-5 18-29 18-59 18 11 18 87 18 101 18 27 18-70 18-70 18-42 18-37 18-12 18 25 18 17 18 17 18 20 18 26 18 29 18 31 18 20 18-20 18-34 18-42 18-32 18-17 18 29 18 39 18 36 18 17 18-48 18-54 18-27 18 32 18 42 18 27 18 8 18-8 18-12 18-6 18-8 18-8 18-16 18-14 18-26 18-10 18 4 18 17 18 27 18 25 18 17 18 3 18-18 18-18 18-11 18 4 18 17 18 15 18 9 18 0 18-6 18-7 18-7 18-7 18-6 18-2" fill="none" stroke="#0072BD" stroke-width="7" stroke-linejoin="round" stroke-linecap="round" transform="scale(.1)"/>
<path d="M1988 2847l18 0 18 21 18 25 18 11 18-5 18-5 18-2 18-4 18 2 18 4 18-2 18-10 18-9 18 1 18 10 18-8 18-86 18-36 18 91 18 137 18 68 18-89 18-91 18-46 18-55 18-52 18 23 18 36 18 52 18 58 18 45 18 24 18 17 18 23 18-17 18-37 18-56 18-66 18-58 18 18 18 68 18 87 18 70 18-38 18-87 18-74 18 19 18 48 18 43 18 22 18 6 18-8 18-15 18-33 18-39 18-33 18-17 18-2 18 16 18 15 18 9 18 16 18 26 18 34 18 24 18-14 18-33 18-34 18-15 18 14 18 23 18 24 18 14 18-2 18-14 18-21 18-16 18 4 18 26" fill="none" stroke="#D95319" stroke-width="7" stroke-linejoin="round" stroke-linecap="round" transform="scale(.1)"/>
<path d="M1988 2854l18 2 18 10 18 16 18 16 18 9 18 7 18-7 18-28 18-24 18-8 18 5 18 13 18 15 18 18 18 14 18-19 18-128 18-73 18 116 18 193 18 105 18-125 18-150 18-79 18-59 18-38 18 67 18 67 18 55 18 48 18 37 18 27 18 25 18 31 18-28 18-59 18-71 18-68 18-56 18 30 18 90 18 107 18 87 18-44 18-119 18-111 18 10 18 61 18 61 18 34 18 8 18-11 18-12 18-22 18-30 18-36 18-32 18-49 18-24 18 9 18 32 18 59 18 64 18 58 18 30 18-25 18-57 18-59 18-37 18 5 18 27 18 37 18 31 18 15 18 2 18-10 18-16 18-9 18 3" fill="none" stroke="#EDB120" stroke-width="7" stroke-linejoin="round" stroke-linecap="round" transform="scale(.1)"/>
<path d="M1988 2866l18-12 18-12 18-3 18 10 18 19 18 21 18 15 18-10 18-29 18-25 18-10 18 6 18 18 18 20 18 15 18 3 18-48 18-102 18 6 18 110 18 130 18 19 18-107 18-92 18-49 18-40 18 7 18 57 18 40 18 26 18 18 18 15 18 21 18 35 18 31 18-20 18-43 18-66 18-65 18-40 18 42 18 77 18 87 18 53 18-61 18-91 18-63 18 21 18 45 18 41 18 25 18 3 18-11 18-16 18-24 18-22 18-19 18-27 18-26 18-5 18 12 18 31 18 46 18 44 18 30 18-3 18-42 18-46 18-33 18 3 18 34 18 36 18 25 18 0 18-19 18-24 18-15 18 0 18 17" fill="none" stroke="#7E2F8E" stroke-width="7" stroke-linejoin="round" stroke-linecap="round" transform="scale(.1)"/>
<path d="M1988 2874l18-14 18-7 18 7 18 17 18 17 18 12 18-7 18-26 18-15 18 4 18 19 18 18 18 7 18-5 18-14 18-40 18-102 18-14 18 124 18 159 18 52 18-130 18-126 18-51 18-28 18 1 18 61 18 34 18 19 18 21 18 31 18 37 18 39 18 29 18-34 18-59 18-67 18-54 18-35 18 40 18 77 18 86 18 65 18-53 18-98 18-85 18 14 18 50 18 51 18 32 18 6 18-17 18-22 18-27 18-19 18-16 18-7 18-28 18-19 18-4 18 17 18 44 18 49 18 41 18 12 18-33 18-44 18-35 18-8 18 25 18 31 18 29 18 12 18-6 18-18 18-23 18-14 18 5 18 24" fill="none" stroke="#77AC30" stroke-width="7" stroke-linejoin="round" stroke-linecap="round" transform="scale(.1)"/>
<path d="M1988 2819l18-5 18 11 18 22 18 24 18 20 18 9 18-16 18-26 18-20 18-10 18 2 18 9 18 16 18 18 18 6 18-64 18-87 18 49 18 123 18 104 18-40 18-109 18-70 18-45 18-44 18 22 18 50 18 44 18 44 18 39 18 27 18 15 18 13 18-17 18-52 18-49 18-44 18-29 18 12 18 68 18 71 18 57 18-7 18-93 18-91 18-20 18 49 18 58 18 38 18 16 18-7 18-15 18-18 18-25 18-25 18-29 18-28 18-23 18 1 18 19 18 38 18 46 18 44 18 32 18-2 18-35 18-41 18-36 18-11 18 9 18 19 18 24 18 18 18 11 18 2 18-8 18-12 18-6 18 1" fill="none" stroke="#4DBEEE" stroke-width="7" stroke-linejoin="round" stroke-linecap="round" transform="scale(.1)"/>
<path d="M1988 2867l18-7 18 1 18 10 18 15 18 14 18 10 18-11 18-21 18-16 18-7 18 4 18 11 18 15 18 15 18 5 18-55 18-92 18 33 18 109 18 109 18-11 18-92 18-68 18-48 18-52 18 3 18 39 18 38 18 43 18 41 18 32 18 21 18 19 18-3 18-41 18-43 18-48 18-39 18-12 18 45 18 56 18 56 18 18 18-66 18-69 18-19 18 43 18 49 18 28 18 10 18-11 18-16 18-19 18-24 18-24 18-26 18-25 18-16 18 6 18 21 18 36 18 41 18 38 18 28 18 2 18-29 18-36 18-34 18-16 18 0 18 6 18 11 18 12 18 12 18 13 18 11 18 9 18 8 18 8" fill="none" stroke="#A2142F" stroke-width="7" stroke-linejoin="round" stroke-linecap="round" transform="scale(.1)"/>
<path d="M1988 2854l18-4 18 8 18 14 18 18 18 15 18 11 18 9 18-5 18-19 18-13 18-7 18-3 18-2 18-1 18 6 18 7 18-36 18-100 18 8 18 126 18 152 18 36 18-117 18-105 18-59 18-59 18-16 18 47 18 37 18 38 18 39 18 37 18 35 18 39 18 30 18-29 18-49 18-68 18-66 18-47 18 35 18 68 18 83 18 57 18-61 18-86 18-59 18 35 18 53 18 43 18 23 18 1 18-13 18-17 18-30 18-34 18-35 18-37 18-26 18 4 18 26 18 41 18 48 18 42 18 31 18 7 18-31 18-36 18-33 18-12 18 8 18 11 18 11 18 4 18 1 18 3 18 5 18 8 18 12" fill="none" stroke="#0072BD" stroke-width="7" stroke-linejoin="round" stroke-linecap="round" transform="scale(.1)"/>
<path d="M1988 2870l18-8 18-7 18 1 18 10 18 20 18 28 18 9 18-9 18-15 18-18 18-14 18-6 18 8 18 20 18 16 18-59 18-114 18 31 18 129 18 132 18-10 18-106 18-69 18-40 18-57 18-2 18 33 18 27 18 38 18 46 18 47 18 38 18 32 18-2 18-57 18-64 18-63 18-42 18 1 18 76 18 84 18 71 18 10 18-107 18-110 18-38 18 56 18 72 18 47 18 19 18-13 18-23 18-22 18-24 18-16 18-19 18-12 18-27 18-14 18-4 18 17 18 37 18 49 18 48 18 20 18-22 18-35 18-37 18-14 18 10 18 20 18 23 18 12 18-1 18-13 18-18 18-13 18 2 18 18" fill="none" stroke="#D95319" stroke-width="7" stroke-linejoin="round" stroke-linecap="round" transform="scale(.1)"/>
<path d="M1988 2889l18-12 18-4 18 6 18 12 18 11 18 9 18 0 18-11 18-4 18 2 18 3 18 0 18-3 18 2 18 4 18-24 18-92 18-26 18 91 18 137 18 65 18-81 18-90 18-55 18-55 18-30 18 39 18 38 18 36 18 35 18 31 18 27 18 29 18 26 18-24 18-48 18-59 18-52 18-35 18 33 18 63 18 69 18 50 18-45 18-75 18-58 18 23 18 41 18 33 18 17 18 1 18-10 18-11 18-21 18-23 18-22 18-11 18-16 18-4 18 4 18 11 18 24 18 32 18 33 18 17 18-17 18-28 18-23 18-5 18 16 18 15 18 7 18-3 18-7 18-3 18-1 18 1 18 2 18 8" fill="none" stroke="#EDB120" stroke-width="7" stroke-linejoin="round" stroke-linecap="round" transform="scale(.1)"/>
<path d="M1988 2798l18 3 18 23 18 33 18 29 18 14 18 0 18-21 18-26 18-12 18 0 18 5 18 0 18-4 18-3 18 1 18-37 18-69 18 42 18 112 18 104 18-14 18-102 18-73 18-35 18-35 18 7 18 33 18 20 18 20 18 27 18 31 18 34 18 36 18 12 18-35 18-47 18-53 18-40 18-11 18 50 18 60 18 54 18 12 18-78 18-83 18-32 18 44 18 60 18 45 18 24 18-4 18-17 18-23 18-29 18-26 18-24 18-23 18-22 18-4 18 8 18 25 18 42 18 48 18 44 18 17 18-24 18-41 18-43 18-21 18 4 18 18 18 20 18 10 18-3 18-9 18-6 18 6 18 20 18 25" fill="none" stroke="#7E2F8E" stroke-width="7" stroke-linejoin="round" stroke-linecap="round" transform="scale(.1)"/>
<path d="M1988 2830l18-11 18-1 18 18 18 34 18 41 18 29 18-12 18-37 18-30 18-11 18 7 18 10 18 3 18-5 18-10 18-71 18-96 18 70 18 158 18 140 18-23 18-118 18-80 18-57 18-74 18-12 18 34 18 43 18 59 18 58 18 41 18 24 18 26 18 8 18-32 18-44 18-66 18-69 18-34 18 54 18 83 18 86 18 23 18-96 18-102 18-27 18 66 18 75 18 41 18 7 18-22 18-23 18-17 18-26 18-32 18-43 18-43 18-16 18 29 18 44 18 45 18 31 18 23 18 25 18 12 18-20 18-35 18-49 18-30 18 0 18 23 18 33 18 21 18 6 18-1 18 3 18 13 18 16 18 5" fill="none" stroke="#77AC30" stroke-width="7" stroke-linejoin="round" stroke-linecap="round" transform="scale(.1)"/>
<path d="M1988 2835l18 2 18 18 18 25 18 24 18 19 18-1 18-19 18-17 18-12 18-10 18-6 18 2 18 14 18 19 18-33 18-105 18 9 18 120 18 142 18 18 18-120 18-94 18-46 18-55 18-18 18 38 18 31 18 45 18 58 18 60 18 48 18 33 18 1 18-68 18-79 18-76 18-48 18-11 18 75 18 92 18 87 18 40 18-91 18-112 18-68 18 35 18 58 18 49 18 32 18 9 18-6 18-13 18-34 18-41 18-46 18-40 18-26 18 15 18 36 18 44 18 42 18 31 18 21 18 5 18-25 18-27 18-29 18-16 18-1 18 7 18 19 18 23 18 23 18 12 18-6 18-21 18-22 18-7 18 14" fill="none" stroke="#4DBEEE" stroke-width="7" stroke-linejoin="round" stroke-linecap="round" transform="scale(.1)"/>
<path d="M1988 2836l18 6 18 8 18 8 18 5 18 2 18-1 18-4 18-15 18-14 18-4 18 4 18 8 18 7 18 9 18 7 18-6 18-69 18-57 18 60 18 113 18 79 18-58 18-87 18-51 18-37 18-34 18 30 18 37 18 33 18 31 18 26 18 19 18 14 18 18 18-14 18-36 18-40 18-39 18-30 18 15 18 56 18 64 18 52 18-18 18-76 18-80 18-13 18 29 18 39 18 28 18 20 18 9 18 6 18-4 18-15 18-26 18-25 18-48 18-37 18-14 18 5 18 30 18 44 18 52 18 45 18 19 18-7 18-18 18-24 18-17 18-18 18-18 18-15 18-11 18 0 18 12 18 24 18 30 18 32" fill="none" stroke="#A2142F" stroke-width="7" stroke-linejoin="round" stroke-linecap="round" transform="scale(.1)"/>
<path d="M1988 2884l18 3 18 10 18 13 18 12 18 9 18 8 18-12 18-17 18-9 18-1 18 2 18 1 18 3 18 9 18 9 18-62 18-110 18 53 18 145 18 133 18-31 18-132 18-85 18-47 18-53 18 13 18 52 18 42 18 46 18 46 18 38 18 27 18 25 18-4 18-52 18-53 18-57 18-48 18-15 18 59 18 73 18 76 18 27 18-87 18-92 18-31 18 51 18 56 18 32 18 13 18-10 18-17 18-18 18-29 18-28 18-30 18-25 18-22 18 6 18 22 18 39 18 49 18 45 18 29 18-9 18-49 18-49 18-31 18 9 18 36 18 35 18 18 18-7 18-23 18-20 18-5 18 14 18 29 18 28" fill="none" stroke="#0072BD" stroke-width="7" stroke-linejoin="round" stroke-linecap="round" transform="scale(.1)"/>
<path d="M1988 2807l18-4 18 4 18 16 18 21 18 18 18 10 18-7 18-26 18-21 18-8 18 5 18 10 18 10 18 10 18 3 18-21 18-84 18-34 18 84 18 129 18 65 18-81 18-97 18-55 18-43 18-21 18 42 18 39 18 33 18 33 18 30 18 26 18 17 18 10 18-33 18-45 18-39 18-27 18-20 18 23 18 45 18 51 18 48 18-25 18-62 18-62 18 3 18 26 18 32 18 26 18 16 18-3 18-13 18-23 18-20 18-13 18-1 18-24 18-27 18-18 18 6 18 40 18 56 18 47 18 15 18-30 18-41 18-26 18 0 18 20 18 15 18 2 18-4 18-3 18 3 18 3 18-3 18-5 18 3" fill="none" stroke="#D95319" stroke-width="7" stroke-linejoin="round" stroke-linecap="round" transform="scale(.1)"/>
<path d="M1988 2836l18-6 18-1 18 6 18 11 18 12 18 10 18-11 18-21 18-13 18-2 18 8 18 11 18 12 18 10 18-2 18-71 18-101 18 49 18 136 18 125 18-24 18-114 18-78 18-47 18-49 18 15 18 45 18 33 18 32 18 34 18 34 18 35 18 39 18 9 18-44 18-60 18-70 18-57 18-12 18 63 18 80 18 76 18 18 18-87 18-92 18-27 18 50 18 60 18 36 18 11 18-16 18-23 18-22 18-23 18-19 18-21 18-16 18-18 18 2 18 15 18 29 18 35 18 32 18 22 18-2 18-28 18-22 18-14 18 6 18 14 18 7 18-1 18-8 18-5 18 2 18 6 18 8 18 8 18 7" fill="none" stroke="#EDB120" stroke-width="7" stroke-linejoin="round" stroke-linecap="round" transform="scale(.1)"/>
<path d="M1988 2851l18-10 18-1 18 9 18 19 18 23 18 17 18-7 18-23 18-25 18-18 18-4 18 10 18 23 18 23 18 5 18-65 18-74 18 37 18 102 18 90 18-27 18-70 18-46 18-45 18-53 18 4 18 25 18 33 18 43 18 43 18 31 18 17 18 13 18-16 18-37 18-36 18-33 18-28 18 2 18 40 18 45 18 42 18-6 18-59 18-56 18 0 18 37 18 36 18 17 18 5 18-4 18-2 18-6 18-16 18-25 18-33 18-35 18-23 18 5 18 24 18 38 18 40 18 32 18 20 18-5 18-21 18-21 18-15 18-3 18 0 18-3 18-4 18-1 18 4 18 10 18 11 18 7 18 6 18 4" fill="none" stroke="#7E2F8E" stroke-width="7" stroke-linejoin="round" stroke-linecap="round" transform="scale(.1)"/>
<path d="M1988 2877l18-6 18-1 18 2 18 4 18 7 18 12 18 3 18-12 18-9 18-5 18-1 18 1 18 4 18 11 18 9 18-34 18-115 18-17 18 122 18 169 18 61 18-118 18-119 18-68 18-67 18-27 18 53 18 49 18 50 18 48 18 42 18 35 18 32 18 27 18-37 18-57 18-72 18-64 18-46 18 42 18 76 18 86 18 60 18-68 18-97 18-67 18 42 18 67 18 54 18 23 18-8 18-24 18-26 18-33 18-30 18-31 18-26 18-21 18 6 18 25 18 33 18 40 18 32 18 27 18 10 18-23 18-27 18-25 18-9 18 11 18 11 18 9 18 1 18-6 18-8 18-6 18-1 18 14 18 27" fill="none" stroke="#77AC30" stroke-width="7" stroke-linejoin="round" stroke-linecap="round" transform="scale(.1)"/>
<path d="M1988 2871l12 1 12 1 12 1 12 2 12 2 12 2 12 3 12 5 12 8 12 4 12-4 12-7 12-6 12-4 12-3 12-3 12-2 12-1 12 1 12 4 12 7 12 8 12 4 12-23 12-61 12-60 12 16 12 55 12 90 12 78 12 50 12-41 12-70 12-69 12-38 12-26 12-25 12-29 12 0 12 29 12 26 12 20 12 18 12 20 12 20 12 20 12 20 12 21 12 20 12 25 12 14 12-14 12-29 12-33 12-41 12-42 12-36 12-31 12-3 12 34 12 45 12 53 12 51 12 46 12 4 12-51 12-55 12-63 12-37 12 10 12 28 12 34 12 33 12 22 12 18 12 6 12-4 12-10 12-12 12-17 12-23 12-21 12-21 12-19 12-14 12-12 12-5 12 7 12 14 12 16 12 17 12 19 12 17 12 13 12 12 12 10 12 5 12-5 12-16 12-14 12-13 12-10 12-5 12 4 12 8 12 6 12 6 12 5 12 3 12 1 12 2 12 2 12 3 12 2 12 0 12 0 12 0 12 0 12 0" fill="none" stroke="#ff0000" stroke-width="22" stroke-linejoin="round" stroke-linecap="round" transform="scale(.1)"/>
</g>
<rect x="395" y="33.8" width="277.4" height="46.2" fill="none" stroke="#8a8a8a" stroke-width="1.1"/>
<line x1="399.3" y1="80" x2="399.3" y2="78" stroke="#8a8a8a" stroke-width="0.9"/>
<line x1="399.3" y1="33.8" x2="399.3" y2="35.8" stroke="#8a8a8a" stroke-width="0.9"/>
<text x="399.3" y="88.8" font-family="Liberation Sans" font-size="6.0" text-anchor="middle" font-weight="normal" fill="#262626" stroke="#262626" stroke-width="0.12">18</text>
<line x1="430.6" y1="80" x2="430.6" y2="78" stroke="#8a8a8a" stroke-width="0.9"/>
<line x1="430.6" y1="33.8" x2="430.6" y2="35.8" stroke="#8a8a8a" stroke-width="0.9"/>
<text x="430.6" y="88.8" font-family="Liberation Sans" font-size="6.0" text-anchor="middle" font-weight="normal" fill="#262626" stroke="#262626" stroke-width="0.12">18.5</text>
<line x1="461.8" y1="80" x2="461.8" y2="78" stroke="#8a8a8a" stroke-width="0.9"/>
<line x1="461.8" y1="33.8" x2="461.8" y2="35.8" stroke="#8a8a8a" stroke-width="0.9"/>
<text x="461.8" y="88.8" font-family="Liberation Sans" font-size="6.0" text-anchor="middle" font-weight="normal" fill="#262626" stroke="#262626" stroke-width="0.12">19</text>
<line x1="493.1" y1="80" x2="493.1" y2="78" stroke="#8a8a8a" stroke-width="0.9"/>
<line x1="493.1" y1="33.8" x2="493.1" y2="35.8" stroke="#8a8a8a" stroke-width="0.9"/>
<text x="493.1" y="88.8" font-family="Liberation Sans" font-size="6.0" text-anchor="middle" font-weight="normal" fill="#262626" stroke="#262626" stroke-width="0.12">19.5</text>
<line x1="524.3" y1="80" x2="524.3" y2="78" stroke="#8a8a8a" stroke-width="0.9"/>
<line x1="524.3" y1="33.8" x2="524.3" y2="35.8" stroke="#8a8a8a" stroke-width="0.9"/>
<text x="524.3" y="88.8" font-family="Liberation Sans" font-size="6.0" text-anchor="middle" font-weight="normal" fill="#262626" stroke="#262626" stroke-width="0.12">20</text>
<line x1="555.5" y1="80" x2="555.5" y2="78" stroke="#8a8a8a" stroke-width="0.9"/>
<line x1="555.5" y1="33.8" x2="555.5" y2="35.8" stroke="#8a8a8a" stroke-width="0.9"/>
<text x="555.5" y="88.8" font-family="Liberation Sans" font-size="6.0" text-anchor="middle" font-weight="normal" fill="#262626" stroke="#262626" stroke-width="0.12">20.5</text>
<line x1="586.8" y1="80" x2="586.8" y2="78" stroke="#8a8a8a" stroke-width="0.9"/>
<line x1="586.8" y1="33.8" x2="586.8" y2="35.8" stroke="#8a8a8a" stroke-width="0.9"/>
<text x="586.8" y="88.8" font-family="Liberation Sans" font-size="6.0" text-anchor="middle" font-weight="normal" fill="#262626" stroke="#262626" stroke-width="0.12">21</text>
<line x1="618" y1="80" x2="618" y2="78" stroke="#8a8a8a" stroke-width="0.9"/>
<line x1="618" y1="33.8" x2="618" y2="35.8" stroke="#8a8a8a" stroke-width="0.9"/>
<text x="618" y="88.8" font-family="Liberation Sans" font-size="6.0" text-anchor="middle" font-weight="normal" fill="#262626" stroke="#262626" stroke-width="0.12">21.5</text>
<line x1="649.3" y1="80" x2="649.3" y2="78" stroke="#8a8a8a" stroke-width="0.9"/>
<line x1="649.3" y1="33.8" x2="649.3" y2="35.8" stroke="#8a8a8a" stroke-width="0.9"/>
<text x="649.3" y="88.8" font-family="Liberation Sans" font-size="6.0" text-anchor="middle" font-weight="normal" fill="#262626" stroke="#262626" stroke-width="0.12">22</text>
<line x1="395" y1="39.8" x2="397" y2="39.8" stroke="#8a8a8a" stroke-width="0.9"/>
<line x1="672.4" y1="39.8" x2="670.4" y2="39.8" stroke="#8a8a8a" stroke-width="0.9"/>
<text x="392.3" y="42" font-family="Liberation Sans" font-size="6.0" text-anchor="end" font-weight="normal" fill="#262626" stroke="#262626" stroke-width="0.12">5</text>
<line x1="395" y1="58.5" x2="397" y2="58.5" stroke="#8a8a8a" stroke-width="0.9"/>
<line x1="672.4" y1="58.5" x2="670.4" y2="58.5" stroke="#8a8a8a" stroke-width="0.9"/>
<text x="392.3" y="60.7" font-family="Liberation Sans" font-size="6.0" text-anchor="end" font-weight="normal" fill="#262626" stroke="#262626" stroke-width="0.12">0</text>
<line x1="395" y1="77.2" x2="397" y2="77.2" stroke="#8a8a8a" stroke-width="0.9"/>
<line x1="672.4" y1="77.2" x2="670.4" y2="77.2" stroke="#8a8a8a" stroke-width="0.9"/>
<text x="392.3" y="79.4" font-family="Liberation Sans" font-size="6.0" text-anchor="end" font-weight="normal" fill="#262626" stroke="#262626" stroke-width="0.12">-5</text>
<text x="533.6" y="30.7" font-family="Liberation Sans" font-size="6.8" text-anchor="middle" font-weight="bold" fill="#111" stroke="#111" stroke-width="0.15">Murata SCC1300 d02</text>
<text x="533.9" y="98.8" font-family="Liberation Sans" font-size="6.9" text-anchor="middle" font-weight="normal" fill="#262626" stroke="#262626" stroke-width="0.12">time (sec)</text>
<text x="383.4" y="58.9" font-family="Liberation Sans" font-size="7.15" text-anchor="middle" font-weight="normal" fill="#262626" transform="rotate(-90 383.4 58.9)" stroke="#262626" stroke-width="0.12">angular Velocity (°/s)</text>
<path d="M3954 561l5-1 4-1 5-1 5-1 5 0 6 1 6 2 6 3 7 2 6 1 6 0 7-2 6-2 7-1 6 0 7 2 6 2 7 4 6 3 6 1 5 0 5 0 4-1 5-1 4-2 4-5 5-7 3-8 4-6 3-2 4 5 2 10 3 14 3 13 4 10 4 5 4 3 4 4 5 2 4 2 4 1 4 1 4 1 4-1 3-2 6-13 3-22 2-28 1-30 1-26 2-27 1-30 1-28 2-21 1-8 2 12 3 30 2 41 3 43 2 36 2 27 1 28 2 26 2 25 2 21 1 13 2 13 2 12 1 9 2 3 2-7 2-19 2-25 2-25 3-22 3-16 2-15 3-15 4-14 4-11 3-6 4-5 4-4 4-4 4-5 4-7 5-7 4-7 4-6 4-2 3 1 3 4 3 5 3 6 3 5 3 6 3 8 3 7 3 6 4 5 3 1 3 1 4 0 3 0 3 2 4 6 3 8 2 10 3 8 4 6 3 2 3 2 3 1 4 0 3 0 5-1 5-2 5-2 5-3 4-3 3-2 3-3 3-2 3-3 3-3 3-5 3-6 4-5 3-5 3-2 3 1 3 2 4 4 3 4 3 4 4 8 4 12 4 11 3 9 4 3 4-7 5-17 4-21 4-17 4-7 3 3 3 6 4 10 3 10 3 9 3 9 3 9 2 10 3 9 4 7 4 5 4 5 4 4 4 3 5 2 5 0 5-2 6-4 6-3 5-2 5-1 5-1 5 0 4-1 5-2 5-4 5-5 5-6 4-6 5-6 5-5 4-6 4-6 5-4 5-3 5 0 4 2 5 2 5 3 5 1 5 0 4 0 5-1 5-2 5-1 6-2 7-4 6-3 7-2 6-1 5 1 4 3 5 3 4 3 5 2 5 1 4 1 5 1 5 1 5 0 6 1 7 0 7 1 6 0 6-2 6-4 5-6 5-7 4-5 4-1 4 4 2 7 3 10 2 10 4 8 4 6 5 5 5 5 5 4 5 4 3 3 4 2 3 2 3 1 3 0 6-12 3-26 1-33 2-34 1-30 2-28 1-32 1-29 1-22 1-8 2 12 3 31 3 42 3 44 2 38 2 30 1 31 2 30 1 27 2 24 1 14 2 13 2 12 1 9 2 3 2-9 2-22 2-29 3-29 3-25 3-17 3-16 4-16 4-13 5-9 3-3 3-1 4-1 3-1 3-2 4-7 4-10 3-11 4-9 3-3 4 3 3 8 3 11 4 11 4 9 4 7 5 8 5 7 5 7 5 7 6 9 6 11 6 10 6 7 7 4 6-1 6-4 6-6 7-6 6-6 8-7 7-7 8-8 8-5 7-1 6 5 6 12 6 12 5 11 5 4 6-7 5-16 5-19 5-16 5-7 3 3 4 7 3 10 3 11 3 10 4 14 3 17 3 16 4 13 6 7 5 0 5-2 5-3 6-4 5-3 5-2 5-1 5-1 5-1 4-3 5-6 4-8 5-9 4-8 5-8 6-7 6-7 6-7 6-5 7-2 6 1 6 3 6 4 6 4 7 4 7 3 8 3 8 3 8 2 7 1 6 0 7 0 6-1 6-1 6-1 5-1 5-2 5-1 4-1 5 0 5 2 4 2 5 3 4 3 5 1 6-2 7-4 7-5 6-4 5 0 4 5 3 9 1 11 3 11 4 7 5 4 6 3 6 2 6 0 5-1 6-9 4-15 2-19 2-21 2-21 3-32 2-40 1-39 2-29 2-12 2 10 2 25 3 33 2 36 2 32 2 29 2 30 2 29 2 28 2 24 1 16 2 16 1 15 1 10 2 4 2-7 1-17 2-23 3-25 3-20 4-15 4-14 4-14 6-14 5-13 6-14 6-15 6-14 7-10 6-4 5 3 5 6 4 9 5 10 5 9 6 9 6 9 6 9 6 8 7 8 6 6 6 6 6 6 7 4 6 1 6-2 6-4 6-6 6-6 6-5 6-4 7-3 6-4 6-3 6-4 5-5 5-6 5-5 5-4 4-1 4 7 3 13 3 16 2 14 3 5 4-8 5-20 5-24 4-21 5-8 4 5 4 12 4 17 4 17 4 14 2 10 2 10 2 9 3 9 4 8 5 6 5 7 7 6 6 3 5 1 5-3 4-7 5-9 4-10 4-9 5-11 4-13 5-12 5-11 6-8 5-3 5-2 5-2 6 0 5 0 5 1 4 2 5 3 4 3 5 3 5 3 4 4 4 4 5 3 5 2 6 1 6-1 6-2 6-1 7-2 8-2 8-3 8-3 7-2 8-1 6 0 7 2 6 2 6 1 6 1 6 0 6-1 7 0 6-1 6-1 6-1 6-1 6-1 6-1 6 1 6 2 7 3 6 5 6 4 6 5 5 6 5 8 5 8 5 6 4 3 3-1 3-4 3-5 3-4 3-2 4 1 4 2 4 3 4 2 3 0 5-13 3-26 0-32 0-33 1-28 2-20 1-21 2-19 1-15 2-5 2 9 2 23 2 31 2 33 2 31 2 34 3 36 2 37 3 34 3 29 2 16 2 17 3 15 2 10 2 4 2-8 2-21 2-28 3-28 3-24 3-15 3-15 4-14 4-13 5-12 4-9 5-8 4-7 5-8 5-7 4-7 5-9 5-7 4-6 5-2 5 2 4 5 5 8 5 8 4 8 5 10 4 13 4 12 5 11 5 8 4 3 5 3 5 1 4 1 5 0 5-1 5-3 4-3 5-4 5-4 6-5 6-5 7-6 6-6 6-6 6-7 6-9 5-8 5-5 5-2 5 10 4 23 3 26 3 22 4 9 5-10 5-24 5-28 6-24 5-10 4 3 4 9 4 13 4 13 4 11 3 9 3 10 3 9 3 10 4 9 4 11 5 12 5 11 4 9 5 3 5-5 4-11 4-14 5-14 5-10 3-4 4-3 4-3 3-3 4-3" fill="none" stroke="#1f6fa8" stroke-width="9.5" stroke-linejoin="round" stroke-linecap="round" transform="scale(.1)"/>
<rect x="394.8" y="113.2" width="277.6" height="48.1" fill="none" stroke="#8a8a8a" stroke-width="1.1"/>
<line x1="403.5" y1="161.3" x2="403.5" y2="159.3" stroke="#8a8a8a" stroke-width="0.9"/>
<line x1="403.5" y1="113.2" x2="403.5" y2="115.2" stroke="#8a8a8a" stroke-width="0.9"/>
<text x="403.5" y="171" font-family="Liberation Sans" font-size="6.0" text-anchor="middle" font-weight="normal" fill="#262626" stroke="#262626" stroke-width="0.12">4.5</text>
<line x1="441.7" y1="161.3" x2="441.7" y2="159.3" stroke="#8a8a8a" stroke-width="0.9"/>
<line x1="441.7" y1="113.2" x2="441.7" y2="115.2" stroke="#8a8a8a" stroke-width="0.9"/>
<text x="441.7" y="171" font-family="Liberation Sans" font-size="6.0" text-anchor="middle" font-weight="normal" fill="#262626" stroke="#262626" stroke-width="0.12">5</text>
<line x1="479.9" y1="161.3" x2="479.9" y2="159.3" stroke="#8a8a8a" stroke-width="0.9"/>
<line x1="479.9" y1="113.2" x2="479.9" y2="115.2" stroke="#8a8a8a" stroke-width="0.9"/>
<text x="479.9" y="171" font-family="Liberation Sans" font-size="6.0" text-anchor="middle" font-weight="normal" fill="#262626" stroke="#262626" stroke-width="0.12">5.5</text>
<line x1="518.1" y1="161.3" x2="518.1" y2="159.3" stroke="#8a8a8a" stroke-width="0.9"/>
<line x1="518.1" y1="113.2" x2="518.1" y2="115.2" stroke="#8a8a8a" stroke-width="0.9"/>
<text x="518.1" y="171" font-family="Liberation Sans" font-size="6.0" text-anchor="middle" font-weight="normal" fill="#262626" stroke="#262626" stroke-width="0.12">6</text>
<line x1="556.3" y1="161.3" x2="556.3" y2="159.3" stroke="#8a8a8a" stroke-width="0.9"/>
<line x1="556.3" y1="113.2" x2="556.3" y2="115.2" stroke="#8a8a8a" stroke-width="0.9"/>
<text x="556.3" y="171" font-family="Liberation Sans" font-size="6.0" text-anchor="middle" font-weight="normal" fill="#262626" stroke="#262626" stroke-width="0.12">6.5</text>
<line x1="594.5" y1="161.3" x2="594.5" y2="159.3" stroke="#8a8a8a" stroke-width="0.9"/>
<line x1="594.5" y1="113.2" x2="594.5" y2="115.2" stroke="#8a8a8a" stroke-width="0.9"/>
<text x="594.5" y="171" font-family="Liberation Sans" font-size="6.0" text-anchor="middle" font-weight="normal" fill="#262626" stroke="#262626" stroke-width="0.12">7</text>
<line x1="632.7" y1="161.3" x2="632.7" y2="159.3" stroke="#8a8a8a" stroke-width="0.9"/>
<line x1="632.7" y1="113.2" x2="632.7" y2="115.2" stroke="#8a8a8a" stroke-width="0.9"/>
<text x="632.7" y="171" font-family="Liberation Sans" font-size="6.0" text-anchor="middle" font-weight="normal" fill="#262626" stroke="#262626" stroke-width="0.12">7.5</text>
<line x1="670.9" y1="161.3" x2="670.9" y2="159.3" stroke="#8a8a8a" stroke-width="0.9"/>
<line x1="670.9" y1="113.2" x2="670.9" y2="115.2" stroke="#8a8a8a" stroke-width="0.9"/>
<text x="670.9" y="171" font-family="Liberation Sans" font-size="6.0" text-anchor="middle" font-weight="normal" fill="#262626" stroke="#262626" stroke-width="0.12">8</text>
<line x1="394.8" y1="122.4" x2="396.8" y2="122.4" stroke="#8a8a8a" stroke-width="0.9"/>
<line x1="672.4" y1="122.4" x2="670.4" y2="122.4" stroke="#8a8a8a" stroke-width="0.9"/>
<text x="392.3" y="124.6" font-family="Liberation Sans" font-size="6.0" text-anchor="end" font-weight="normal" fill="#262626" stroke="#262626" stroke-width="0.12">4</text>
<line x1="394.8" y1="131.1" x2="396.8" y2="131.1" stroke="#8a8a8a" stroke-width="0.9"/>
<line x1="672.4" y1="131.1" x2="670.4" y2="131.1" stroke="#8a8a8a" stroke-width="0.9"/>
<line x1="394.8" y1="139.8" x2="396.8" y2="139.8" stroke="#8a8a8a" stroke-width="0.9"/>
<line x1="672.4" y1="139.8" x2="670.4" y2="139.8" stroke="#8a8a8a" stroke-width="0.9"/>
<text x="392.3" y="142" font-family="Liberation Sans" font-size="6.0" text-anchor="end" font-weight="normal" fill="#262626" stroke="#262626" stroke-width="0.12">0</text>
<line x1="394.8" y1="148.5" x2="396.8" y2="148.5" stroke="#8a8a8a" stroke-width="0.9"/>
<line x1="672.4" y1="148.5" x2="670.4" y2="148.5" stroke="#8a8a8a" stroke-width="0.9"/>
<line x1="394.8" y1="157.2" x2="396.8" y2="157.2" stroke="#8a8a8a" stroke-width="0.9"/>
<line x1="672.4" y1="157.2" x2="670.4" y2="157.2" stroke="#8a8a8a" stroke-width="0.9"/>
<text x="392.3" y="159.4" font-family="Liberation Sans" font-size="6.0" text-anchor="end" font-weight="normal" fill="#262626" stroke="#262626" stroke-width="0.12">-4</text>
<text x="532.9" y="109.6" font-family="Liberation Sans" font-size="6.8" text-anchor="middle" font-weight="bold" fill="#111" stroke="#111" stroke-width="0.15">Bosch BMI160</text>
<text x="533.5" y="179.9" font-family="Liberation Sans" font-size="6.9" text-anchor="middle" font-weight="normal" fill="#262626" stroke="#262626" stroke-width="0.12">time (sec)</text>
<text x="383.6" y="137.6" font-family="Liberation Sans" font-size="7.15" text-anchor="middle" font-weight="normal" fill="#262626" transform="rotate(-90 383.6 137.6)" stroke="#262626" stroke-width="0.12">angular Velocity (°/s)</text>
<path d="M3946 1398l5 1 4 0 5 1 5 0 5 1 6 1 6 0 7 1 6 0 6 1 6 1 5 2 6 1 5 1 5 0 4-1 3-2 3-3 3-2 3-3 3-4 4-4 3-4 3-3 3-1 4 4 3 8 3 10 3 11 3 10 3 8 3 8 3 8 3 7 4 5 3 2 3 2 3 1 3 0 3-1 5-11 3-21 2-26 1-28 2-25 2-26 2-29 2-27 2-21 3-8 2 2 2 5 3 7 2 8 2 9 3 22 2 28 2 32 1 32 2 29 2 24 1 25 2 24 2 21 2 17 1 8 2 7 1 7 2 4 1 2 2-6 2-16 2-21 3-22 3-19 3-14 3-13 4-13 4-13 5-10 4-7 5-6 5-5 5-5 5-4 4-4 4-3 4-3 5-2 4-1 5 1 5 3 6 4 5 4 6 4 6 3 6 4 6 3 7 3 6 3 6 2 7 2 6 1 7 2 6 1 5 1 5 1 5 0 5 1 4 2 4 3 4 3 4 4 4 4 3 5 3 9 3 11 2 12 3 8 2 4 2-3 3-6 2-9 2-9 3-9 3-10 3-11 3-11 4-8 3-3 3 3 3 6 3 8 3 7 4 3 3-1 3-2 3-4 3-3 4-1 5 1 5 4 6 4 5 5 6 5 7 7 7 8 8 9 7 6 7 2 6-3 5-6 5-8 6-9 5-6 5-4 5-3 4-3 5-3 5-3 5-4 5-5 5-5 4-5 5-5 4-5 4-5 4-5 4-3 4-2 5 1 5 3 6 4 6 4 5 3 5 2 5 1 5 2 4 0 5 0 5-2 5-4 4-5 5-3 5-2 6 1 6 4 6 5 7 4 6 2 5 0 6-2 5-3 6-2 5-1 6 1 6 2 6 2 5 2 6 1 5-1 5-2 4-2 5-2 5-1 6 1 6 3 6 4 7 3 6 2 6 0 7 0 6-1 7-2 6-2 8-4 7-5 8-6 8-4 6-1 5 2 4 3 3 4 4 5 3 6 4 11 4 15 3 15 3 12 5 6 4 0 4-1 4-2 4-4 4-4 6-19 2-28 1-33 0-33 2-28 2-19 3-19 2-18 3-13 2-5 3 8 3 20 2 27 3 29 2 26 2 25 2 26 2 25 1 26 2 24 1 23 2 25 1 23 2 17 2 7 2-4 2-11 2-16 3-17 2-15 3-19 2-22 2-21 4-19 5-14 4-4 4-3 4-3 4-2 4-4 5-9 4-12 4-12 4-10 4-4 4 3 4 8 4 11 5 10 5 8 5 4 5 4 6 2 6 3 6 2 6 2 7 2 6 2 7 1 6 1 6 1 7 0 6 1 6 0 6 1 5 0 5 1 6 0 4 1 4 3 4 7 2 11 1 12 2 9 2 4 2-2 2-5 2-7 3-7 3-6 4-5 5-6 5-5 5-4 5-1 5 2 5 6 4 7 5 7 5 7 6 6 6 7 6 6 6 5 7 4 6 2 7 2 6 0 7 0 6-1 6-2 7-2 6-4 6-4 6-4 7-7 6-8 7-9 6-8 6-7 5-4 4-4 5-4 4-3 5-1 5 0 4 2 5 2 5 3 5 1 6 0 6 0 6-1 7-1 6-1 6-2 7-2 7-3 6-1 6-1 5 1 5 2 4 2 5 2 5 2 6 1 6 1 6 1 7 0 6 0 6-1 7-2 6-2 7-2 6-1 6 0 6 2 7 2 6 1 6 0 7-2 7-4 6-4 7-3 5 0 4 2 3 5 3 5 2 6 3 6 4 11 4 13 4 14 4 11 5 6 4 1 4-1 4-2 4-2 3-4 6-18 2-30 1-35 0-35 2-31 2-23 3-26 2-23 3-17 2-6 2 8 3 19 2 27 2 29 2 27 2 30 2 33 2 33 2 32 2 30 2 25 1 27 1 25 2 18 2 7 2-5 2-13 2-17 2-19 3-17 3-19 4-20 4-20 5-19 7-16 6-11 7-10 8-9 8-7 7-2 6 3 6 6 6 8 6 9 6 6 6 4 6 3 6 3 6 3 7 2 8 2 8 2 8 2 8 1 8 1 7 0 7-2 6-2 6 0 5 1 4 4 3 5 2 6 2 6 2 6 1 5 2 5 1 5 1 4 1 1 2-3 2-8 3-12 3-11 3-10 4-9 4-10 5-10 5-7 5-3 6 2 6 5 7 8 7 8 6 8 6 8 6 9 6 9 6 8 7 6 6 4 7 4 6 3 7 1 6 0 7-3 6-5 7-6 6-7 6-7 6-7 6-7 6-8 6-6 7-4 7-1 8 0 9 2 8 2 8 1 8 1 8 1 7 1 8 1 8 0 8 0 8-1 7-1 8-1 8 0 8 0 8 1 8 0 8 1 8 1 8 1 8 1 8 1 7 1 8 1 7 1 6 1 7 1 6 1 6-1 6-3 6-4 6-5 5-3 5-1 4 2 4 4 4 6 4 6 3 6 4 8 3 11 3 10 3 8 3 3 3-1 4-4 3-5 3-7 3-7 4-23 3-31 1-35 1-34 2-27 2-15 1-14 2-13 2-9 2-4 2 5 3 12 2 17 2 19 2 18 2 28 2 33 2 35 2 33 2 29 1 20 2 21 1 18 2 14 2 5 2-3 2-8 2-12 2-12 3-12 3-14 3-15 4-15 4-14 5-13 5-9 5-9 6-7 6-8 6-6 5-5 6-5 5-4 6-4 5-1 5 0 4 2 5 3 4 3 5 3 5 3 5 4 4 3 5 3 5 3 5 2 5 1 5 1 5 2 4 1 3 1 4 2 3 2 3 1 3 2" fill="none" stroke="#1f6fa8" stroke-width="9.5" stroke-linejoin="round" stroke-linecap="round" transform="scale(.1)"/>
<rect x="394.6" y="192.6" width="277.8" height="48.5" fill="none" stroke="#8a8a8a" stroke-width="1.1"/>
<line x1="406.5" y1="241.1" x2="406.5" y2="239.1" stroke="#8a8a8a" stroke-width="0.9"/>
<line x1="406.5" y1="192.6" x2="406.5" y2="194.6" stroke="#8a8a8a" stroke-width="0.9"/>
<text x="406.5" y="250.8" font-family="Liberation Sans" font-size="6.0" text-anchor="middle" font-weight="normal" fill="#262626" stroke="#262626" stroke-width="0.12">44.5</text>
<line x1="443.4" y1="241.1" x2="443.4" y2="239.1" stroke="#8a8a8a" stroke-width="0.9"/>
<line x1="443.4" y1="192.6" x2="443.4" y2="194.6" stroke="#8a8a8a" stroke-width="0.9"/>
<text x="443.4" y="250.8" font-family="Liberation Sans" font-size="6.0" text-anchor="middle" font-weight="normal" fill="#262626" stroke="#262626" stroke-width="0.12">45</text>
<line x1="480.2" y1="241.1" x2="480.2" y2="239.1" stroke="#8a8a8a" stroke-width="0.9"/>
<line x1="480.2" y1="192.6" x2="480.2" y2="194.6" stroke="#8a8a8a" stroke-width="0.9"/>
<text x="480.2" y="250.8" font-family="Liberation Sans" font-size="6.0" text-anchor="middle" font-weight="normal" fill="#262626" stroke="#262626" stroke-width="0.12">45.5</text>
<line x1="517" y1="241.1" x2="517" y2="239.1" stroke="#8a8a8a" stroke-width="0.9"/>
<line x1="517" y1="192.6" x2="517" y2="194.6" stroke="#8a8a8a" stroke-width="0.9"/>
<text x="517" y="250.8" font-family="Liberation Sans" font-size="6.0" text-anchor="middle" font-weight="normal" fill="#262626" stroke="#262626" stroke-width="0.12">46</text>
<line x1="553.9" y1="241.1" x2="553.9" y2="239.1" stroke="#8a8a8a" stroke-width="0.9"/>
<line x1="553.9" y1="192.6" x2="553.9" y2="194.6" stroke="#8a8a8a" stroke-width="0.9"/>
<text x="553.9" y="250.8" font-family="Liberation Sans" font-size="6.0" text-anchor="middle" font-weight="normal" fill="#262626" stroke="#262626" stroke-width="0.12">46.5</text>
<line x1="590.8" y1="241.1" x2="590.8" y2="239.1" stroke="#8a8a8a" stroke-width="0.9"/>
<line x1="590.8" y1="192.6" x2="590.8" y2="194.6" stroke="#8a8a8a" stroke-width="0.9"/>
<text x="590.8" y="250.8" font-family="Liberation Sans" font-size="6.0" text-anchor="middle" font-weight="normal" fill="#262626" stroke="#262626" stroke-width="0.12">47</text>
<line x1="627.6" y1="241.1" x2="627.6" y2="239.1" stroke="#8a8a8a" stroke-width="0.9"/>
<line x1="627.6" y1="192.6" x2="627.6" y2="194.6" stroke="#8a8a8a" stroke-width="0.9"/>
<text x="627.6" y="250.8" font-family="Liberation Sans" font-size="6.0" text-anchor="middle" font-weight="normal" fill="#262626" stroke="#262626" stroke-width="0.12">47.5</text>
<line x1="664.5" y1="241.1" x2="664.5" y2="239.1" stroke="#8a8a8a" stroke-width="0.9"/>
<line x1="664.5" y1="192.6" x2="664.5" y2="194.6" stroke="#8a8a8a" stroke-width="0.9"/>
<text x="664.5" y="250.8" font-family="Liberation Sans" font-size="6.0" text-anchor="middle" font-weight="normal" fill="#262626" stroke="#262626" stroke-width="0.12">48</text>
<line x1="394.6" y1="198.6" x2="396.6" y2="198.6" stroke="#8a8a8a" stroke-width="0.9"/>
<line x1="672.4" y1="198.6" x2="670.4" y2="198.6" stroke="#8a8a8a" stroke-width="0.9"/>
<text x="392.3" y="200.8" font-family="Liberation Sans" font-size="6.0" text-anchor="end" font-weight="normal" fill="#262626" stroke="#262626" stroke-width="0.12">5</text>
<line x1="394.6" y1="218.2" x2="396.6" y2="218.2" stroke="#8a8a8a" stroke-width="0.9"/>
<line x1="672.4" y1="218.2" x2="670.4" y2="218.2" stroke="#8a8a8a" stroke-width="0.9"/>
<text x="392.3" y="220.4" font-family="Liberation Sans" font-size="6.0" text-anchor="end" font-weight="normal" fill="#262626" stroke="#262626" stroke-width="0.12">0</text>
<line x1="394.6" y1="237.8" x2="396.6" y2="237.8" stroke="#8a8a8a" stroke-width="0.9"/>
<line x1="672.4" y1="237.8" x2="670.4" y2="237.8" stroke="#8a8a8a" stroke-width="0.9"/>
<text x="392.3" y="240" font-family="Liberation Sans" font-size="6.0" text-anchor="end" font-weight="normal" fill="#262626" stroke="#262626" stroke-width="0.12">-5</text>
<text x="538.4" y="189.5" font-family="Liberation Sans" font-size="6.8" text-anchor="middle" font-weight="bold" fill="#111" stroke="#111" stroke-width="0.15">MAXIM Integerated MAX21000</text>
<text x="532.7" y="260.1" font-family="Liberation Sans" font-size="6.9" text-anchor="middle" font-weight="normal" fill="#262626" stroke="#262626" stroke-width="0.12">time (sec)</text>
<text x="383.4" y="217.1" font-family="Liberation Sans" font-size="7.15" text-anchor="middle" font-weight="normal" fill="#262626" transform="rotate(-90 383.4 217.1)" stroke="#262626" stroke-width="0.12">angular Velocity (°/s)</text>
<path d="M3946 2182l9 3 10-1 9-3 7 7 7 12 10 0 9-6 8-4 8-6 7-12 9-2 5 13 3 10 2 10 3 6 3 14 4 8 5 7 7 8 5-8 2-10 3-12 2-9 1-10 2-10 1-10 1-10 1-10 1-10 0-10 1-10 0-10 1-10 0-10 1-10 0-10 1-10 0-10 1-10 0-10 1-10 1-10 1-10 1-9 3 0 2 8 1 10 1 10 0 10 1 10 1 10 0 10 1 10 1 10 0 10 0 10 1 10 0 10 1 10 0 10 0 10 1 11 0 10 1 10 0 10 1 10 0 10 1 10 0 10 1 10 1 10 0 10 1 10 1 10 0 10 1 10 1 10 1 10 1 10 1 9 3 2 3-2 2-9 1-10 2-10 1-10 2-10 1-10 2-10 2-10 1-10 2-10 2-10 1-9 3-10 2-13 3-7 4-10 4-10 4-6 5-11 5-6 5-5 7-12 9-9 8 10 7 14 9 0 9 2 9 7 10 5 9 3 8 7 7 1 7 10 7 7 6 9 8-3 9 13 10-5 9 14 7 7 4 10 6 4 4-13 3-8 1-11 2-9 2-13 5-7 5 13 3 11 3 7 3 13 4 10 3 2 4 12 4-9 2-8 2-10 1-10 1-9 2-10 3-9 6 1 4 9 4 10 3 10 4 8 6 10 5 1 6 17 4 11 4 5 6 1 7 9 5-16 4-16 5-1 5-6 6-9 6-4 8-8 10-5 7-16 4-3 4-6 3-8 6-15 9 2 9 10 10-9 10-1 10 6 10 1 9-1 10-4 9 13 10-7 10 7 10-5 10 2 10 4 9-2 10 8 10 3 10-3 10 5 10-10 10 6 10-4 10-6 10 4 10-4 9-4 8-3 9-1 9-6 7 9 5 3 4 14 4 11 3 9 3 9 5 5 9-3 7-3 6-12 3-7 2-8 2-10 1-10 0-10 1-10 1-10 0-10 0-10 0-10 0-10 0-11 1-10 0-10 0-10 0-10 0-10 1-10 0-10 1-10 1-10 1-10 1-10 1-11 3 12 2 6 1 10 1 10 1 10 1 10 0 10 1 10 1 10 1 10 0 10 1 10 0 10 1 10 0 10 1 10 0 10 0 10 1 10 0 10 0 10 1 10 0 10 0 10 1 10 0 10 1 10 0 10 1 10 0 10 1 10 0 10 1 10 1 10 0 10 1 10 0 10 1 10 1 10 1 10 2 15 3-9 2-7 1-10 1-10 1-10 1-10 1-10 2-10 1-10 1-10 1-10 1-10 1-10 1-10 1-10 0-10 1-10 1-10 1-10 2-10 1-9 3-10 4-6 5-21 10 16 10-10 10-2 9 9 9 14 9-3 8-2 8 9 10 11 9-10 9 11 7 7 7 18 7-4 7 14 8-3 10 2 9 4 7-9 7-17 5 1 5-8 6 3 3 12 7-1 3-12 4-10 5-9 4 12 2 10 2 10 2 6 6 12 7-7 6-13 6 1 9 7 6 4 5-1 5 19 7 3 6 7 8 3 8 0 6-2 7-11 10-8 9-3 9-3 8-2 7-1 5-20 3-7 3-11 6-10 9 6 9 5 9-5 10 3 10 10 10-3 10 2 10-3 10 2 10 4 10-6 10-5 10 3 10 3 10-9 10 10 10 0 10-6 10 5 10 1 9 4 10 1 11-10 9-1 10 9 10-5 10 0 10-2 10 4 9-9 5 16 2 6 4 13 4 11 4-1 7 15 8-10 5-8 4-8 3-11 3-9 2-9 1-10 1-10 1-10 0-10 1-10 0-10 1-10 0-10 1-10 0-10 1-10 1-10 1-10 1-10 1-10 0-10 1-10 1-10 2-11 2 3 2 10 0 10 1 10 1 10 0 10 1 10 1 10 0 10 1 10 0 10 1 10 0 10 1 10 1 10 0 10 1 10 0 10 1 10 0 10 1 10 0 10 1 10 0 10 1 10 0 10 1 10 1 10 1 10 0 10 1 10 1 10 1 10 1 10 2 10 2 3 4-1 2-8 2-10 1-10 2-10 1-10 2-10 2-10 1-10 1-10 1-10 1-10 1-10 2-9 2-10 2-10 3-9 5-13 6-8 8-1 9-4 10-12 9 12 10 8 9-4 8 10 10-6 10 8 9-9 9 5 6 11 6 20 7-6 7 5 7 14 9 4 10 7 10-14 9-6 6-2 4-7 4-9 3-9 3-13 2-9 3-9 4-5 4 5 2 9 1 10 2 10 1 10 2 11 2 8 4 14 5-19 4-8 3-9 4-10 7-5 5 11 4 11 3 8 5 12 5 7 6 8 6 14 7 2 9 4 10-3 9-4 8-4 8-12 6 0 5-7 6-9 6-15 7-13 8-1 9-1 10 5 9-1 10 3 9 10 10-9 10 9 10-1 10-9 10 7 10-2 10-1 10-4 10 2 10 8 10-5 10 1 10-7 10 2 10 1 10-5 10 0 10 10 10 0 10-5 10 3 10 4 10 5 10-12 10 7 10 6 10-8 10 7 10-16 10 21 8-2 7-1 5 19 3 10 5 11 8-2 5-14 4-10 2-9 2-10 2-10 1-10 1-10 1-9 0-10 1-10 1-10 0-10 1-11 1-10 1-9 1-10 1-10 1-10 2-10 1-10 2-10 2-11 4 0 2 6 1 10 1 10 0 10 1 10 1 10 0 10 1 10 0 10 1 10 1 10 0 10 1 10 1 10 0 10 1 10 1 10 0 10 1 10 0 10 1 10 1 10 1 10 0 10 1 10 1 10 1 10 2 10 1 10 2 9 2 17 5-2 2-15 2-10 2-10 2-11 3-8 2-10 2-10 3-10 2-11 2-8 3-10 3-13 5-5 7-5 9-8 9 0 7-7 6-18 8-1 10 3 9 5 9 7 9-13 10 8 10 1 10 0" fill="none" stroke="#1f6fa8" stroke-width="11" stroke-linejoin="round" stroke-linecap="round" transform="scale(.1)"/>
<rect x="395.6" y="276.2" width="277.6" height="47.5" fill="none" stroke="#8a8a8a" stroke-width="1.1"/>
<line x1="424.3" y1="323.7" x2="424.3" y2="321.7" stroke="#8a8a8a" stroke-width="0.9"/>
<line x1="424.3" y1="276.2" x2="424.3" y2="278.2" stroke="#8a8a8a" stroke-width="0.9"/>
<text x="424.3" y="333.2" font-family="Liberation Sans" font-size="6.0" text-anchor="middle" font-weight="normal" fill="#262626" stroke="#262626" stroke-width="0.12">30</text>
<line x1="464.4" y1="323.7" x2="464.4" y2="321.7" stroke="#8a8a8a" stroke-width="0.9"/>
<line x1="464.4" y1="276.2" x2="464.4" y2="278.2" stroke="#8a8a8a" stroke-width="0.9"/>
<text x="464.4" y="333.2" font-family="Liberation Sans" font-size="6.0" text-anchor="middle" font-weight="normal" fill="#262626" stroke="#262626" stroke-width="0.12">30.5</text>
<line x1="504.4" y1="323.7" x2="504.4" y2="321.7" stroke="#8a8a8a" stroke-width="0.9"/>
<line x1="504.4" y1="276.2" x2="504.4" y2="278.2" stroke="#8a8a8a" stroke-width="0.9"/>
<text x="504.4" y="333.2" font-family="Liberation Sans" font-size="6.0" text-anchor="middle" font-weight="normal" fill="#262626" stroke="#262626" stroke-width="0.12">31</text>
<line x1="544.5" y1="323.7" x2="544.5" y2="321.7" stroke="#8a8a8a" stroke-width="0.9"/>
<line x1="544.5" y1="276.2" x2="544.5" y2="278.2" stroke="#8a8a8a" stroke-width="0.9"/>
<text x="544.5" y="333.2" font-family="Liberation Sans" font-size="6.0" text-anchor="middle" font-weight="normal" fill="#262626" stroke="#262626" stroke-width="0.12">31.5</text>
<line x1="584.5" y1="323.7" x2="584.5" y2="321.7" stroke="#8a8a8a" stroke-width="0.9"/>
<line x1="584.5" y1="276.2" x2="584.5" y2="278.2" stroke="#8a8a8a" stroke-width="0.9"/>
<text x="584.5" y="333.2" font-family="Liberation Sans" font-size="6.0" text-anchor="middle" font-weight="normal" fill="#262626" stroke="#262626" stroke-width="0.12">32</text>
<line x1="624.5" y1="323.7" x2="624.5" y2="321.7" stroke="#8a8a8a" stroke-width="0.9"/>
<line x1="624.5" y1="276.2" x2="624.5" y2="278.2" stroke="#8a8a8a" stroke-width="0.9"/>
<text x="624.5" y="333.2" font-family="Liberation Sans" font-size="6.0" text-anchor="middle" font-weight="normal" fill="#262626" stroke="#262626" stroke-width="0.12">32.5</text>
<line x1="664.6" y1="323.7" x2="664.6" y2="321.7" stroke="#8a8a8a" stroke-width="0.9"/>
<line x1="664.6" y1="276.2" x2="664.6" y2="278.2" stroke="#8a8a8a" stroke-width="0.9"/>
<text x="664.6" y="333.2" font-family="Liberation Sans" font-size="6.0" text-anchor="middle" font-weight="normal" fill="#262626" stroke="#262626" stroke-width="0.12">33</text>
<line x1="395.6" y1="283" x2="397.6" y2="283" stroke="#8a8a8a" stroke-width="0.9"/>
<line x1="673.2" y1="283" x2="671.2" y2="283" stroke="#8a8a8a" stroke-width="0.9"/>
<text x="392.3" y="285.2" font-family="Liberation Sans" font-size="6.0" text-anchor="end" font-weight="normal" fill="#262626" stroke="#262626" stroke-width="0.12">5</text>
<line x1="395.6" y1="302.6" x2="397.6" y2="302.6" stroke="#8a8a8a" stroke-width="0.9"/>
<line x1="673.2" y1="302.6" x2="671.2" y2="302.6" stroke="#8a8a8a" stroke-width="0.9"/>
<text x="392.3" y="304.8" font-family="Liberation Sans" font-size="6.0" text-anchor="end" font-weight="normal" fill="#262626" stroke="#262626" stroke-width="0.12">0</text>
<line x1="395.6" y1="322.2" x2="397.6" y2="322.2" stroke="#8a8a8a" stroke-width="0.9"/>
<line x1="673.2" y1="322.2" x2="671.2" y2="322.2" stroke="#8a8a8a" stroke-width="0.9"/>
<text x="392.3" y="324.4" font-family="Liberation Sans" font-size="6.0" text-anchor="end" font-weight="normal" fill="#262626" stroke="#262626" stroke-width="0.12">-5</text>
<text x="534.2" y="271.4" font-family="Liberation Sans" font-size="6.8" text-anchor="middle" font-weight="bold" fill="#111" stroke="#111" stroke-width="0.15">SONY Xperia Z3 Compact</text>
<text x="535.7" y="341.4" font-family="Liberation Sans" font-size="6.9" text-anchor="middle" font-weight="normal" fill="#262626" stroke="#262626" stroke-width="0.12">time (sec)</text>
<text x="384.2" y="300.7" font-family="Liberation Sans" font-size="7.15" text-anchor="middle" font-weight="normal" fill="#262626" transform="rotate(-90 384.2 300.7)" stroke="#262626" stroke-width="0.12">angular Velocity (°/s)</text>
<path d="M3955 3034l10-13 9 6 9 1 8 17 7-6 7 22 8 5 8-5 6-24 7 13 4 16 3 3 4 12 5 9 7 13 9 0 9-5 6-12 4-6 4-10 2-9 2-10 0-10 1-10 1-10 0-10 0-10 0-10 0-10 0-10 0-10 0-10 1-10 0-10 1-10 0-10 1-10 1-10 0-10 1-10 1-10 0-10 1-9 2-12 2 15 1 10 0 10 1 10 1 10 0 10 1 10 0 10 1 10 1 10 1 10 1 10 1 10 2 10 1 10 2 9 1 10 1 10 0 10 1 10 1 10 0 10 1 10 0 10 1 10 0 10 1 10 0 10 1 10 1 10 1 10 2 10 1 10 1 10 2 14 4 4 3-15 1-10 2-10 1-10 1-10 2-10 2-10 3-10 2-8 3-13 2-9 4-9 4-7 4-16 6 4 6-16 7-7 6-8 6-10 5-10 7 4 7-12 9-5 10 9 8-5 7 15 5 5 5 6 4 15 4 0 5 18 5 1 6 15 6 14 8-2 8-13 6-4 7-10 7-11 9-5 8 1 7-4 6-21 5 1 6-5 8-9 9-11 10 13 8-8 7 18 7 13 8-15 8 20 8 6 7 6 6 3 5 12 4 6 3 14 5 11 5 3 5 7 5 10 6 11 8 7 8 4 10 3 9-14 6-15 6 11 6-3 6-24 5-4 5-4 5-6 5-11 4-7 4-14 3-8 4-9 5-13 8 6 9 2 7 8 8-2 8 14 9-7 9 13 10-18 9 5 8 5 9-12 9 0 10-13 9 16 10-6 10-3 10 3 10 1 10 8 10-7 10-8 9 12 8 15 8 2 7 1 9 11 9 1 9 7 9-8 8 10 7 16 7 3 7 10 6 17 6-5 8 9 10-3 8-6 4-5 3-10 1-9 1-10 0-10 1-10 0-10 0-10 0-10 0-10-1-10 0-10 0-10 1-10 0-10 0-10 0-10 1-10 1-10 0-10 1-10 0-10 1-10 0-10 1-10 1-10 2-7 2 7 1 10 1 10 1 10 0 10 1 10 1 10 0 10 1 10 1 10 0 10 1 10 1 10 1 10 1 10 1 10 1 10 1 10 1 10 1 10 1 10 1 10 2 10 1 10 1 9 1 10 1 10 1 10 1 10 1 10 2 7 4-1 3-5 2-10 1-10 2-10 2-10 2-9 2-9 2-10 2-10 2-10 2-11 3-10 2-8 3-9 3-10 3-9 5-9 5-10 5-7 6-10 7-5 8-12 8 8 6 15 5 3 7-4 7 21 8-8 8 31 8-1 9 5 8-2 6 5 6 13 7 9 9-3 7-2 7-5 6-8 9-14 10-9 9 9 8-10 8 0 9 5 6 6 4 2 3 12 4 15 6-8 3-9 1-10 1-10 1-10 1-10 2-10 1-10 4-5 6-1 4 16 3 8 5 1 4 18 5 3 4 15 4 6 3 8 3 11 2 9 2 10 2 10 2 9 3 11 4 4 5 15 7-2 7 17 9 3 10 2 10-10 8 15 7-26 5-7 4-12 5 0 5-17 4-3 4-16 4-5 4-12 5-2 6-15 9-5 8 13 7-2 7 9 9 12 8-19 8 8 7-14 8-8 9 2 10-1 9-8 10 3 10 8 9 3 10-1 10-3 10-2 9 0 10 4 10-1 10 0 9 9 10-5 8 5 8 6 7 21 6-15 5 21 5 9 4 8 5 22 7 0 9-5 7-15 2-5 3-11 1-10 1-10 1-10 1-10 0-10 0-10 0-10 1-10 0-10 0-10 0-10 1-10 0-10 1-10 0-10 1-10 1-10 1-10 1-10 1-10 0-10 1-10 2-9 2-13 2 11 1 10 1 10 1 10 1 10 0 10 1 10 1 10 0 10 1 10 1 10 0 10 1 10 1 10 1 10 0 10 1 10 1 10 1 10 0 10 1 10 1 10 1 10 0 10 1 10 1 10 1 10 1 10 1 10 1 10 1 10 1 10 1 10 1 10 1 9 3 21 3-19 2-12 2-9 1-10 2-10 1-10 2-10 2-10 1-9 2-10 1-10 2-10 2-9 2-12 4-8 3-10 4-10 5-4 6-19 6-3 8-8 10 10 8 0 7 10 6 9 4 2 5 17 7 0 10 4 10 1 8 10 6 8 7 13 8-3 9-5 9-5 7-1 5-6 5-14 6-12 8 6 6 8 5 8 7-2 4-11 2-5 3-8 2-10 4-20 6 3 9-15 5 23 2 5 2 10 1 11 4 0 3-5 1-10 2-10 2-10 1-10 2-8 3-11 6-8 4 10 3 19 4 9 4 1 4 19 5 4 4 8 3 9 4 9 3 12 2 9 2 8 2 13 3 9 3 2 7 10 9-7 9 0 10 1 10-3 9-9 7-8 6 2 6-13 4-3 4-17 2-7 2-11 3-11 3 0 8-10 7 2 6 11 9 11 10-13 10 12 10-4 9-1 8 15 10 5 9-9 10-6 9 6 10-4 10-14 10 3 10-1 10-2 10-7 10 12 9-7 10-2 10 8 9-7 10 7 9 3 10-2 10 4 8 10 5 5 5 15 6-3 7 13 8-3 9 10 8-10 5 1 3-13 2-11 2-10 1-10 1-10 0-10 1-10 0-10 0-10 1-10 0-10 1-10 0-10 1-10 1-10 1-10 1-10 1-10 1-10 2-10 1-14 3 4 2 11 0 10 1 10 1 10 0 10 1 10 0 10 1 10 1 10 1 10 1 10 2 10 1 11 2 9 2 10 1 10 0 10 1 10 1 10 0 10 1 10 0 10 1 10 1 10 0 10 1 10 1 10 1 10 1 10 1 10 2 10 1 9 4 4 2-8 1-9 1-10 1-10 1-10 2-10 2-10 1-10 3-9 2-11 2-10 3-8 3-10 3-13 4-5 6-9 7-1 8-17 9 5 9-6 10-8 10 13 10 3 8-8 9 24 9-13 8 7 9 9 8 11" fill="none" stroke="#1f6fa8" stroke-width="9.5" stroke-linejoin="round" stroke-linecap="round" transform="scale(.1)"/>
</svg>
</body></html>
